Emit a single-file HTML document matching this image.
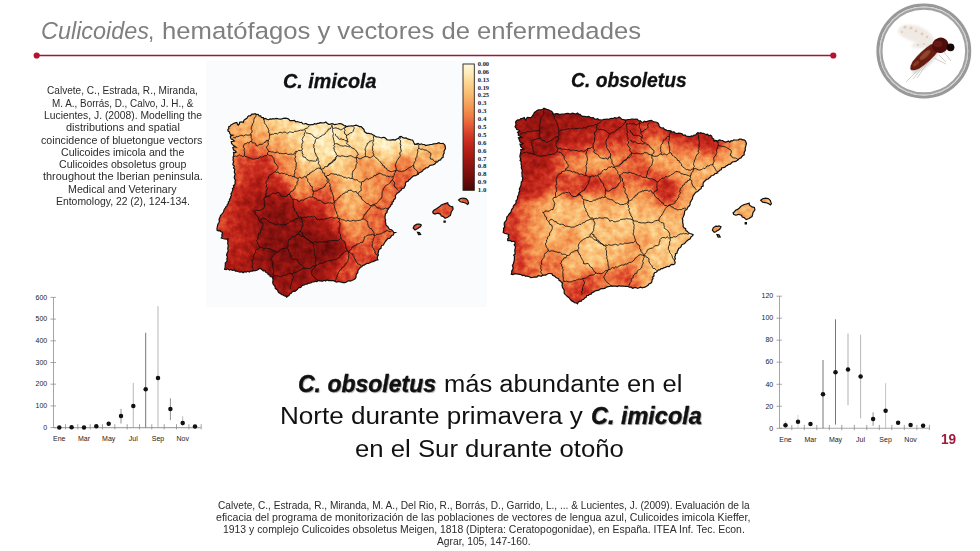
<!DOCTYPE html>
<html><head><meta charset="utf-8"><title>Culicoides</title>
<style>
html,body{margin:0;padding:0;}
body{width:980px;height:551px;position:relative;overflow:hidden;background:#fff;font-family:"Liberation Sans",Arial,sans-serif;}
.abs{position:absolute;white-space:nowrap;}
svg.maps{position:absolute;left:0;top:0;}
.abs{transform-origin:0 0;}
.ttl{color:#7f7f7f;}
.cit{color:#2b2b2b;}
.big{color:#111;}
.big b{font-style:italic;font-weight:bold;text-shadow:1px 1px 1px rgba(0,0,0,.35);-webkit-text-stroke:0.35px #111;}
.mt{font-weight:bold;font-style:italic;color:#111;-webkit-text-stroke:0.3px #111;}
.pn{font-weight:bold;color:#a0193c;}
svg .mf rect{width:6.6px;height:6.6px;}
svg text.cbl{font-family:"Liberation Serif",serif;font-weight:bold;font-size:5.2px;fill:#222;}
svg text.ax{font-family:"Liberation Sans",Arial,sans-serif;font-size:7px;fill:#222;}
</style></head><body>
<svg class="maps" width="980" height="551" viewBox="0 0 980 551">
<defs>
<clipPath id="c1"><path d="M228.1 131.1 L227.8 129.6 L228.9 128.3 L228.6 126.8 L230.0 126.3 L230.9 124.9 L232.3 124.3 L233.5 123.5 L235.1 122.9 L236.8 122.4 L237.3 123.9 L238.2 125.2 L239.3 123.9 L239.6 122.3 L241.5 121.8 L243.3 122.4 L243.9 120.4 L245.5 119.1 L246.9 118.4 L247.6 116.9 L248.7 115.9 L250.5 115.7 L251.8 114.1 L253.6 114.2 L255.3 113.7 L256.5 114.5 L258.1 114.4 L259.1 115.9 L260.7 115.9 L261.4 117.4 L263.4 117.6 L264.0 119.1 L265.5 118.4 L267.0 119.2 L268.6 119.7 L270.1 118.9 L271.6 119.1 L273.1 118.7 L274.5 119.0 L276.0 118.4 L277.4 118.7 L278.9 119.0 L280.3 119.1 L281.9 118.9 L283.5 118.3 L285.1 118.1 L286.8 118.3 L288.6 119.1 L290.0 120.6 L291.5 120.7 L293.0 120.7 L294.5 120.5 L295.8 121.8 L297.3 121.5 L298.7 122.0 L300.0 122.5 L301.6 122.3 L302.7 123.8 L304.1 124.0 L305.8 123.4 L307.1 124.1 L308.4 124.7 L310.0 124.8 L311.5 124.6 L313.0 124.7 L314.5 123.7 L316.0 124.1 L317.5 123.4 L318.9 123.4 L320.2 122.7 L321.7 122.8 L323.1 123.0 L324.5 122.7 L325.8 122.0 L327.2 123.2 L328.6 124.3 L330.1 124.4 L331.5 123.6 L333.0 123.9 L334.4 124.7 L335.9 124.3 L337.7 124.0 L339.5 123.5 L341.4 123.8 L342.7 124.6 L344.0 125.5 L345.4 126.1 L346.9 126.6 L348.4 126.2 L350.0 126.0 L351.5 125.9 L353.1 126.1 L354.6 125.5 L356.1 125.2 L357.8 125.8 L359.3 126.6 L361.2 126.7 L362.5 128.0 L364.0 129.5 L364.4 131.6 L365.7 132.4 L366.9 133.3 L368.5 133.3 L369.9 133.6 L371.4 133.8 L372.6 134.8 L374.1 135.3 L375.3 136.5 L376.9 136.8 L378.5 137.0 L380.0 137.5 L381.7 137.9 L383.3 137.3 L384.8 137.6 L386.0 138.7 L387.1 139.9 L388.7 140.0 L390.3 140.1 L391.9 139.9 L393.6 139.7 L395.2 140.0 L396.7 139.0 L398.5 138.4 L399.6 136.8 L401.3 136.4 L402.8 137.7 L404.4 138.1 L406.1 137.9 L407.6 138.9 L409.2 139.3 L410.8 139.9 L412.6 140.0 L413.3 141.5 L414.0 143.0 L414.8 144.4 L416.4 144.1 L418.0 143.5 L419.7 144.5 L421.3 143.8 L422.7 144.5 L424.4 144.5 L425.7 145.5 L427.3 145.2 L428.9 144.9 L430.5 144.5 L432.2 144.4 L433.8 143.8 L435.5 143.6 L437.2 143.3 L438.8 142.7 L440.1 143.3 L441.5 143.5 L443.0 143.3 L444.2 144.4 L445.1 145.6 L445.3 147.1 L445.5 148.7 L444.6 150.1 L444.0 151.5 L444.2 153.1 L443.4 154.4 L443.1 155.9 L443.1 157.4 L441.5 158.2 L440.6 159.9 L438.7 160.3 L437.7 161.8 L436.3 162.2 L435.3 163.6 L434.0 164.4 L432.7 165.0 L431.1 165.1 L429.7 165.5 L428.7 166.8 L427.6 167.7 L425.9 167.8 L424.9 168.9 L423.5 169.4 L422.5 171.0 L421.1 172.0 L419.4 172.7 L418.1 173.8 L416.8 175.0 L415.3 175.7 L413.5 175.9 L412.2 177.0 L411.2 177.9 L410.2 179.0 L409.0 179.7 L408.3 181.1 L406.9 181.6 L405.7 182.4 L405.4 183.9 L405.4 185.4 L404.6 186.8 L403.9 188.3 L402.0 188.5 L401.3 190.0 L399.9 191.1 L398.7 192.5 L397.0 193.3 L396.2 194.5 L395.3 195.7 L395.6 197.5 L395.0 198.8 L393.7 199.8 L393.5 201.3 L392.1 202.3 L392.2 203.9 L390.9 204.9 L390.5 206.3 L389.2 207.6 L388.2 209.2 L387.2 210.7 L387.0 212.5 L385.5 213.7 L385.2 215.4 L385.0 217.2 L385.1 218.7 L385.7 220.1 L385.3 221.6 L385.8 223.0 L385.8 224.5 L386.7 225.8 L388.0 226.8 L388.7 228.3 L389.8 229.4 L391.5 229.7 L392.7 230.8 L393.6 232.4 L395.3 232.6 L393.8 233.3 L393.3 235.0 L391.6 235.5 L390.9 237.0 L389.7 238.3 L387.8 238.7 L386.6 240.0 L385.5 241.3 L384.7 242.5 L384.0 243.7 L383.4 245.0 L381.6 245.4 L381.1 246.8 L381.0 248.4 L379.4 249.2 L378.6 250.4 L378.5 252.0 L377.9 253.3 L378.4 254.9 L377.4 256.6 L377.2 258.2 L377.9 259.8 L376.2 260.1 L374.6 260.9 L373.0 261.6 L371.3 262.0 L369.9 262.8 L368.5 263.5 L366.9 263.4 L365.5 264.3 L364.2 265.2 L362.6 265.3 L361.9 266.8 L360.3 267.3 L359.6 268.7 L358.3 269.6 L357.9 271.1 L357.7 272.7 L356.5 274.0 L356.0 275.5 L356.1 277.2 L355.1 278.8 L353.5 279.7 L351.8 280.5 L350.4 281.1 L348.7 280.6 L347.4 281.2 L346.1 282.2 L344.6 282.7 L343.1 282.7 L341.6 282.2 L340.1 281.8 L338.6 281.4 L336.9 282.0 L335.4 281.6 L333.7 280.7 L331.9 280.6 L330.0 280.5 L328.5 280.6 L327.0 279.9 L325.6 281.0 L324.1 280.3 L322.7 281.2 L321.2 281.1 L319.7 280.7 L318.2 280.5 L316.9 281.7 L315.3 281.3 L314.0 281.8 L312.5 281.8 L311.2 282.8 L309.8 283.1 L308.3 283.2 L307.1 284.1 L305.5 284.0 L304.4 285.0 L302.9 285.2 L301.6 285.9 L300.8 287.5 L299.3 287.6 L298.0 288.3 L297.2 289.6 L296.0 290.5 L294.9 291.3 L293.0 291.3 L291.9 292.2 L291.0 293.4 L289.6 294.0 L289.0 295.5 L287.7 296.1 L286.7 297.2 L285.6 296.1 L284.1 295.8 L282.9 294.8 L281.4 294.5 L280.3 293.4 L278.9 292.8 L278.0 291.6 L277.6 290.0 L276.3 289.3 L275.2 288.3 L275.1 286.5 L273.9 285.2 L273.0 283.7 L272.7 282.0 L273.1 280.1 L272.7 278.1 L272.0 276.8 L270.2 276.5 L269.8 274.9 L268.2 274.4 L267.6 273.0 L266.0 272.6 L265.2 270.9 L263.3 271.0 L262.1 269.9 L261.0 268.8 L259.4 268.5 L258.2 269.6 L256.9 270.3 L255.5 270.6 L254.0 270.5 L252.5 271.2 L250.8 270.8 L249.4 272.0 L247.7 271.2 L246.2 272.2 L244.5 271.7 L243.1 272.7 L241.8 271.7 L240.0 272.2 L238.5 271.8 L237.1 271.1 L235.5 271.2 L234.2 270.0 L232.4 270.4 L231.1 269.4 L229.5 270.1 L227.8 268.7 L226.2 269.7 L224.6 269.4 L225.0 267.9 L225.2 266.3 L225.3 264.7 L225.3 263.1 L226.7 261.7 L227.1 260.2 L226.8 258.5 L227.6 257.0 L226.6 255.3 L226.9 253.8 L227.6 252.3 L228.3 250.8 L227.8 249.2 L227.9 247.6 L228.2 246.2 L228.1 244.7 L227.6 243.3 L228.0 241.9 L227.6 240.4 L227.9 239.0 L226.2 239.1 L224.5 239.0 L222.9 238.5 L221.3 237.9 L222.2 236.7 L221.8 235.1 L222.3 233.8 L222.4 232.4 L221.1 231.7 L219.9 230.7 L218.3 230.9 L217.0 230.2 L217.0 228.5 L217.3 226.9 L217.6 225.3 L218.1 223.7 L219.0 222.5 L219.4 221.1 L219.0 219.5 L219.5 218.2 L220.2 216.9 L220.5 215.5 L221.6 214.4 L222.6 213.3 L223.5 212.0 L223.9 210.6 L224.3 209.2 L225.3 208.2 L225.8 206.8 L227.1 206.0 L227.3 204.4 L228.5 203.5 L228.3 202.0 L229.5 200.8 L229.5 199.3 L230.5 198.2 L230.6 196.7 L231.5 195.5 L230.9 193.8 L231.8 192.6 L232.2 191.3 L233.0 190.0 L232.4 188.4 L234.0 187.4 L233.4 185.7 L234.6 184.6 L235.3 183.3 L235.0 181.8 L235.4 180.2 L234.6 178.7 L234.2 177.2 L234.7 175.6 L235.2 174.0 L234.3 172.5 L234.5 170.9 L234.8 169.3 L233.5 167.9 L234.4 166.1 L232.9 164.8 L233.1 163.2 L233.7 161.5 L232.9 160.0 L233.4 158.6 L233.0 157.2 L233.7 155.7 L233.8 154.1 L233.5 152.5 L235.0 152.6 L236.3 152.0 L235.1 150.8 L233.6 150.0 L232.8 147.5 L234.1 146.8 L235.6 146.9 L234.0 145.8 L232.5 144.6 L231.5 143.2 L231.3 141.5 L232.9 141.5 L234.4 141.0 L232.9 139.8 L231.2 139.0 L230.5 137.7 L230.4 136.2 L232.6 135.2 L230.9 134.9 L229.8 133.6 L229.5 132.0 Z M432.7 211.8 L433.7 210.5 L435.0 209.5 L436.9 208.6 L438.6 207.3 L440.1 206.3 L441.3 205.0 L443.1 204.2 L445.0 203.6 L447.7 202.7 L448.1 204.5 L450.4 206.3 L452.7 206.8 L453.1 209.1 L452.2 210.5 L451.3 211.8 L450.9 213.6 L450.4 215.4 L449.0 216.2 L447.7 217.2 L445.0 218.2 L443.1 216.3 L441.3 215.9 L440.4 214.1 L437.7 213.2 L435.0 214.1 L433.2 213.2 Z M458.6 200.0 L460.4 198.6 L463.1 198.0 L465.9 198.6 L467.7 200.4 L468.6 203.2 L467.7 204.5 L465.9 203.2 L463.1 202.3 L460.4 201.8 Z M413.2 228.1 L414.1 225.9 L416.4 224.3 L417.9 224.0 L419.5 224.1 L421.3 225.0 L420.4 226.8 L419.0 227.6 L417.7 228.6 L416.3 229.2 L415.0 230.0 Z M417.5 232.3 L419.5 232.6 L420.6 234.4 L418.6 234.6 Z M444.0 221.0 L445.2 221.0 L445.2 222.2 L444.0 222.2 Z"/></clipPath>
<clipPath id="c2"><path d="M515.0 126.7 L515.8 125.3 L516.0 123.8 L515.5 122.2 L516.5 120.8 L517.8 119.9 L519.7 119.9 L520.8 118.6 L522.6 118.4 L524.3 117.5 L524.8 119.1 L525.8 120.5 L526.3 118.8 L527.3 117.4 L529.2 117.6 L531.2 117.5 L532.1 116.4 L532.9 115.2 L533.6 114.0 L534.4 112.5 L535.8 111.6 L537.0 110.5 L538.3 109.9 L539.9 109.9 L541.4 109.8 L542.8 109.3 L544.0 108.2 L545.4 108.8 L546.9 109.3 L548.4 109.7 L549.8 110.5 L551.4 111.2 L552.6 112.3 L553.3 114.0 L554.9 113.9 L556.5 113.7 L558.1 113.8 L559.8 114.5 L561.4 114.0 L562.9 114.0 L564.5 114.0 L566.0 113.6 L567.6 113.3 L569.1 113.7 L570.6 114.0 L572.3 113.2 L574.1 113.5 L575.9 114.0 L577.6 113.1 L578.6 114.1 L580.1 114.4 L581.0 115.6 L582.5 116.3 L584.1 116.4 L585.6 116.5 L587.1 116.9 L588.8 116.5 L590.1 117.3 L591.6 117.8 L593.3 117.6 L594.5 118.9 L596.0 119.3 L597.8 118.6 L599.0 119.8 L600.6 119.9 L602.3 120.0 L603.8 119.4 L605.5 119.3 L607.1 119.0 L608.8 119.4 L610.3 118.5 L611.8 118.3 L613.3 118.5 L614.7 117.6 L616.3 118.1 L617.8 117.8 L619.2 117.0 L620.7 118.2 L622.1 119.5 L623.7 119.6 L625.3 120.1 L626.8 119.8 L628.4 119.5 L629.9 119.5 L631.4 119.0 L632.8 119.0 L634.3 119.4 L635.8 119.0 L637.5 119.3 L638.5 121.0 L640.3 120.9 L641.6 122.0 L643.1 122.3 L644.4 121.3 L645.9 121.9 L647.3 121.4 L648.7 120.9 L650.1 120.7 L651.5 120.5 L652.7 121.3 L654.1 121.8 L655.7 122.0 L657.1 122.5 L658.3 123.4 L658.9 124.7 L659.1 126.3 L660.3 127.3 L661.7 128.0 L663.4 127.9 L664.5 129.4 L666.0 129.9 L667.4 130.7 L669.0 130.7 L670.8 130.9 L672.1 132.2 L674.0 131.8 L675.3 133.2 L676.9 133.6 L678.7 133.1 L680.4 133.4 L682.1 133.7 L683.1 135.3 L685.0 135.0 L686.2 136.2 L687.9 136.3 L689.7 136.7 L691.4 135.9 L693.1 136.2 L694.1 135.1 L695.8 135.0 L696.6 133.6 L697.8 132.8 L699.2 133.4 L700.7 132.6 L702.0 133.3 L703.4 133.3 L704.8 134.0 L706.1 134.7 L707.7 134.3 L708.7 135.9 L710.5 135.2 L711.7 136.2 L712.2 137.9 L713.8 139.1 L714.0 140.9 L715.7 140.4 L717.5 141.0 L719.2 140.0 L721.0 140.3 L722.7 140.5 L724.0 141.7 L725.6 142.1 L727.0 141.7 L728.3 141.0 L729.9 142.1 L731.1 140.7 L732.6 140.9 L733.8 139.9 L735.3 140.0 L736.8 140.0 L738.3 139.8 L739.6 139.1 L741.2 139.1 L742.6 139.8 L744.1 139.8 L745.4 140.9 L746.0 142.3 L746.5 143.8 L745.9 145.3 L745.6 146.9 L745.1 148.5 L745.4 150.2 L744.6 151.6 L744.1 153.1 L744.2 154.8 L742.9 155.5 L741.9 156.7 L741.0 157.9 L739.4 158.4 L738.4 159.5 L737.1 160.4 L735.9 161.4 L734.2 161.7 L732.6 161.8 L731.4 163.0 L730.3 164.2 L728.6 164.4 L727.4 165.4 L726.0 166.0 L724.9 167.2 L723.3 167.6 L721.7 168.0 L721.2 169.7 L719.8 170.3 L718.8 171.4 L717.5 172.3 L716.6 173.5 L715.0 173.6 L714.0 174.8 L712.8 175.5 L711.3 175.7 L710.5 177.1 L709.2 178.0 L708.2 179.0 L706.5 179.4 L705.5 180.5 L704.3 181.4 L703.3 182.8 L703.0 184.4 L703.2 186.1 L701.5 186.8 L701.1 188.7 L699.6 189.5 L698.5 190.5 L697.6 191.6 L696.1 192.1 L695.1 193.1 L694.2 194.4 L693.3 195.6 L692.7 197.1 L692.5 198.8 L691.5 200.0 L690.9 201.4 L690.1 202.7 L690.1 204.4 L689.4 205.8 L688.1 206.9 L687.3 208.2 L686.8 209.6 L685.2 210.2 L684.6 211.6 L684.5 213.1 L684.2 214.6 L683.6 215.9 L683.1 217.3 L682.3 218.5 L682.8 220.0 L682.6 221.6 L682.8 223.2 L683.2 224.7 L683.1 226.3 L684.0 227.7 L685.6 228.7 L685.9 230.6 L687.4 231.5 L688.5 232.9 L690.1 233.5 L691.8 234.0 L693.2 234.9 L692.1 236.1 L690.8 237.2 L690.2 238.9 L688.5 239.6 L687.5 240.6 L686.2 241.4 L685.4 242.7 L684.3 243.7 L682.8 244.2 L681.5 245.1 L681.1 246.7 L680.0 247.7 L678.6 248.5 L678.1 250.1 L677.3 251.4 L677.0 253.0 L675.4 253.9 L675.5 255.7 L674.7 257.0 L675.4 258.7 L674.4 260.5 L675.2 262.2 L674.7 263.9 L673.4 264.7 L671.7 264.4 L670.4 265.1 L669.3 266.5 L667.7 266.3 L666.4 266.9 L665.1 267.4 L663.7 267.8 L662.5 268.7 L661.0 268.7 L659.9 269.9 L658.4 269.8 L657.4 271.2 L656.2 272.2 L654.5 272.8 L653.8 274.4 L654.0 275.9 L652.7 277.0 L653.0 278.6 L652.1 279.8 L652.0 281.2 L651.5 282.5 L650.3 283.4 L648.9 284.0 L648.1 285.2 L646.9 286.0 L645.5 286.9 L643.9 287.3 L642.4 287.8 L640.6 287.1 L639.1 287.8 L637.6 288.4 L636.0 287.5 L634.3 287.6 L632.6 288.3 L631.1 287.2 L629.4 287.2 L628.0 286.5 L626.6 286.3 L625.1 286.3 L623.6 286.0 L622.1 286.2 L620.5 286.1 L618.9 285.7 L617.4 286.5 L615.8 286.1 L614.2 286.2 L612.7 286.2 L611.0 285.9 L609.5 286.5 L608.0 286.6 L606.5 287.1 L605.1 288.2 L603.6 288.6 L602.0 288.6 L600.5 288.9 L599.3 289.9 L597.8 290.3 L596.3 290.7 L594.7 291.1 L593.6 292.2 L592.1 292.6 L591.1 294.2 L589.5 294.3 L588.4 295.4 L586.6 295.6 L586.1 297.4 L584.6 298.0 L583.7 299.3 L582.1 299.8 L581.3 301.2 L579.4 301.4 L578.2 302.3 L577.5 303.8 L576.2 302.8 L574.5 302.6 L573.2 301.6 L571.8 300.9 L570.6 299.8 L569.7 298.5 L568.7 297.4 L567.3 296.6 L566.3 295.4 L565.2 294.3 L564.2 293.2 L564.2 291.6 L564.2 290.1 L563.4 288.8 L562.5 287.6 L562.0 285.5 L562.5 283.5 L561.5 282.3 L560.6 281.1 L559.0 280.4 L558.6 278.7 L557.1 278.0 L555.7 277.2 L554.5 276.0 L552.8 275.4 L551.9 273.8 L550.1 273.5 L548.5 273.5 L547.1 274.2 L545.7 275.1 L544.1 275.1 L542.6 275.3 L541.3 276.3 L539.7 275.8 L538.2 275.7 L536.9 277.0 L535.3 276.8 L533.9 277.1 L532.5 277.5 L531.0 277.7 L529.7 277.0 L528.3 276.3 L526.8 276.2 L525.3 276.2 L524.1 275.1 L522.4 275.6 L521.1 274.6 L519.7 274.4 L518.2 274.2 L516.5 273.8 L514.7 273.7 L513.0 274.6 L511.3 274.2 L511.7 272.8 L511.7 271.2 L512.4 269.9 L513.1 268.5 L512.9 267.0 L512.4 265.3 L513.3 264.0 L513.6 262.6 L514.1 261.1 L514.4 259.7 L514.3 258.2 L514.6 256.8 L513.7 255.2 L515.1 253.9 L515.0 252.4 L514.8 250.9 L514.9 249.4 L515.4 247.9 L515.3 246.4 L514.2 244.8 L515.2 243.3 L514.8 241.8 L513.4 241.2 L511.9 241.7 L510.6 240.7 L509.2 240.7 L507.8 240.6 L507.6 239.0 L508.8 237.7 L508.1 236.1 L508.9 234.7 L507.5 234.0 L506.0 233.6 L504.5 233.3 L503.2 232.4 L503.5 231.0 L503.6 229.6 L503.5 228.2 L504.8 227.0 L504.3 225.5 L504.2 223.8 L504.5 222.4 L505.6 221.1 L506.5 219.8 L506.7 218.2 L506.9 216.7 L508.2 215.7 L509.0 214.2 L510.1 213.0 L511.1 211.8 L511.4 210.3 L512.1 208.9 L513.2 207.8 L513.3 206.2 L514.2 204.9 L515.4 203.9 L516.2 202.6 L515.9 200.9 L517.1 199.7 L517.6 198.2 L517.5 196.6 L518.3 195.3 L518.9 193.9 L518.9 192.3 L519.9 191.0 L519.3 189.3 L519.8 187.9 L520.5 186.5 L521.0 185.1 L521.2 183.6 L521.3 182.0 L522.4 180.8 L522.4 179.3 L522.9 177.9 L522.0 176.4 L522.1 175.0 L521.9 173.5 L521.9 172.1 L522.4 170.6 L521.8 169.2 L521.3 167.8 L521.6 166.2 L521.2 164.8 L521.0 163.4 L521.3 161.8 L520.0 160.5 L520.8 158.9 L520.1 157.6 L519.9 156.1 L520.2 154.6 L520.6 152.9 L521.0 151.3 L520.8 149.6 L522.3 149.5 L523.7 149.0 L522.2 148.1 L520.9 146.9 L520.0 144.2 L521.6 144.4 L523.0 143.6 L521.0 142.8 L519.7 141.1 L519.2 139.4 L518.4 137.8 L520.0 137.4 L521.7 137.3 L520.0 136.2 L518.3 135.2 L518.4 133.5 L517.5 132.2 L519.8 131.1 L518.5 129.9 L516.8 129.4 L516.1 128.0 Z M733.1 212.8 L734.5 211.7 L735.6 210.3 L737.6 209.4 L739.4 208.0 L740.7 206.5 L742.3 205.5 L744.2 204.5 L746.2 204.0 L747.7 203.7 L749.1 203.1 L749.5 205.0 L750.7 206.1 L752.0 206.9 L754.4 207.4 L754.9 209.9 L753.8 211.3 L752.9 212.8 L752.6 214.7 L752.0 216.6 L750.5 217.5 L749.1 218.5 L747.6 219.0 L746.2 219.6 L744.2 217.6 L742.3 217.1 L741.3 215.2 L739.9 214.7 L738.4 214.3 L737.1 214.9 L735.6 215.2 L733.6 214.3 Z M760.7 200.2 L762.6 198.7 L765.5 198.1 L767.0 198.4 L768.5 198.7 L770.4 200.6 L770.8 202.1 L771.4 203.6 L770.4 205.0 L768.5 203.6 L767.0 203.0 L765.5 202.6 L762.6 202.1 Z M712.3 230.2 L713.3 227.8 L715.7 226.1 L717.4 226.3 L719.0 225.9 L721.0 226.8 L720.0 228.8 L718.7 229.9 L717.1 230.7 L715.8 231.7 L714.2 232.2 Z M716.9 234.6 L719.0 234.9 L720.2 236.9 L718.1 237.1 Z M745.2 222.6 L746.4 222.6 L746.4 223.9 L745.2 223.9 Z"/></clipPath>
<linearGradient id="cb" x1="0" y1="0" x2="0" y2="1"><stop offset="0.0" stop-color="#fff8dc"/><stop offset="0.08" stop-color="#feeab4"/><stop offset="0.16" stop-color="#fcd28c"/><stop offset="0.25" stop-color="#f9b76e"/><stop offset="0.33" stop-color="#f59c56"/><stop offset="0.42" stop-color="#ee7a42"/><stop offset="0.5" stop-color="#e25532"/><stop offset="0.58" stop-color="#d03424"/><stop offset="0.66" stop-color="#bc2218"/><stop offset="0.75" stop-color="#a01812"/><stop offset="0.83" stop-color="#861210"/><stop offset="0.92" stop-color="#6a0c0a"/><stop offset="1.0" stop-color="#4a0606"/></linearGradient>
<filter id="fb" x="-5%" y="-5%" width="110%" height="110%"><feGaussianBlur stdDeviation="2.5"/></filter>
<filter id="fm1" x="-5%" y="-5%" width="110%" height="110%" color-interpolation-filters="sRGB"><feGaussianBlur in="SourceGraphic" stdDeviation="2.5" result="b"/><feTurbulence type="fractalNoise" baseFrequency="0.16" numOctaves="3" seed="3"/><feColorMatrix type="matrix" values="1 0 0 0 0  1 0 0 0 0  1 0 0 0 0  0 0 0 0 1" result="n"/><feComposite in="b" in2="n" operator="arithmetic" k1="0" k2="1" k3="0.3" k4="-0.15"/><feComponentTransfer><feFuncR type="table" tableValues="1.000 0.998 0.997 0.995 0.992 0.989 0.985 0.981 0.976 0.970 0.964 0.957 0.947 0.938 0.923 0.905 0.886 0.859 0.831 0.802 0.772 0.741 0.704 0.666 0.627 0.588 0.548 0.509 0.471 0.432 0.388 0.339 0.290"/><feFuncG type="table" tableValues="0.973 0.951 0.930 0.901 0.865 0.828 0.791 0.754 0.718 0.676 0.635 0.591 0.545 0.499 0.447 0.390 0.333 0.283 0.232 0.192 0.164 0.137 0.121 0.108 0.094 0.085 0.076 0.067 0.059 0.051 0.042 0.033 0.024"/><feFuncB type="table" tableValues="0.863 0.801 0.740 0.679 0.618 0.556 0.513 0.472 0.431 0.395 0.358 0.325 0.298 0.271 0.245 0.221 0.196 0.175 0.153 0.133 0.115 0.096 0.087 0.079 0.071 0.068 0.064 0.059 0.051 0.043 0.036 0.030 0.024"/></feComponentTransfer></filter><filter id="fm2" x="-5%" y="-5%" width="110%" height="110%" color-interpolation-filters="sRGB"><feGaussianBlur in="SourceGraphic" stdDeviation="2.5" result="b"/><feTurbulence type="fractalNoise" baseFrequency="0.16" numOctaves="3" seed="11"/><feColorMatrix type="matrix" values="1 0 0 0 0  1 0 0 0 0  1 0 0 0 0  0 0 0 0 1" result="n"/><feComposite in="b" in2="n" operator="arithmetic" k1="0" k2="1" k3="0.3" k4="-0.15"/><feComponentTransfer><feFuncR type="table" tableValues="1.000 0.998 0.997 0.995 0.992 0.989 0.985 0.981 0.976 0.970 0.964 0.957 0.947 0.938 0.923 0.905 0.886 0.859 0.831 0.802 0.772 0.741 0.704 0.666 0.627 0.588 0.548 0.509 0.471 0.432 0.388 0.339 0.290"/><feFuncG type="table" tableValues="0.973 0.951 0.930 0.901 0.865 0.828 0.791 0.754 0.718 0.676 0.635 0.591 0.545 0.499 0.447 0.390 0.333 0.283 0.232 0.192 0.164 0.137 0.121 0.108 0.094 0.085 0.076 0.067 0.059 0.051 0.042 0.033 0.024"/><feFuncB type="table" tableValues="0.863 0.801 0.740 0.679 0.618 0.556 0.513 0.472 0.431 0.395 0.358 0.325 0.298 0.271 0.245 0.221 0.196 0.175 0.153 0.133 0.115 0.096 0.087 0.079 0.071 0.068 0.064 0.059 0.051 0.043 0.036 0.030 0.024"/></feComponentTransfer></filter>
<filter id="nz" x="0" y="0" width="100%" height="100%" color-interpolation-filters="sRGB"><feTurbulence type="fractalNoise" baseFrequency="0.16" numOctaves="3" seed="3"/><feColorMatrix type="matrix" values="1.6 0 0 0 -0.3  1.6 0 0 0 -0.3  1.6 0 0 0 -0.3  0 0 0 0 1"/></filter>
<filter id="blur05" x="-5%" y="-5%" width="110%" height="110%"><feGaussianBlur stdDeviation="0.5"/></filter>
<filter id="blur1" x="-20%" y="-20%" width="140%" height="140%"><feGaussianBlur stdDeviation="1.2"/></filter>
</defs>
<rect x="206" y="61" width="281" height="246" fill="#fafbfd"/>
<line x1="36.7" y1="55.5" x2="833.3" y2="55.5" stroke="#961b35" stroke-width="1.6"/><circle cx="36.7" cy="55.5" r="3.1" fill="#b3142f"/><circle cx="833.3" cy="55.5" r="3.1" fill="#b3142f"/>
<circle cx="923.8" cy="51.0" r="47.5" fill="#f4f4f4" opacity="0.6" filter="url(#blur1)"/><circle cx="923.8" cy="51.0" r="42" fill="#fff"/><g filter="url(#blur05)"><circle cx="923.8" cy="51.0" r="45.9" fill="none" stroke="#989898" stroke-width="3.0"/><circle cx="923.8" cy="51.0" r="44.0" fill="none" stroke="#cfcfcf" stroke-width="1.0"/><circle cx="923.8" cy="51.0" r="42.4" fill="none" stroke="#a2a2a2" stroke-width="2.2"/></g><g><g filter="url(#blur1)" opacity="0.9"><path d="M899 28 C905 22 918 24 926 30 C932 34 936 40 934 45 C926 46 912 42 903 37 C898 34 897 31 899 28 Z" fill="#eee8e2"/><path d="M912 44 C920 41 930 42 936 45 C930 49 920 49 912 47 Z" fill="#ece6e0"/></g><circle cx="905" cy="27" r="1.6" fill="#e2c2a8" opacity="0.8"/><circle cx="911" cy="28" r="1.5" fill="#e2c2a8" opacity="0.8"/><circle cx="916" cy="31" r="1.3" fill="#e2c2a8" opacity="0.8"/><circle cx="922" cy="34" r="1.4" fill="#e2c2a8" opacity="0.8"/><circle cx="927" cy="37" r="1.2" fill="#e2c2a8" opacity="0.8"/><circle cx="918" cy="45" r="1.1" fill="#e2c2a8" opacity="0.8"/><circle cx="924" cy="44" r="1.0" fill="#e2c2a8" opacity="0.8"/><circle cx="902" cy="32" r="1.1" fill="#e2c2a8" opacity="0.8"/><ellipse cx="925" cy="62" rx="17" ry="5" transform="rotate(-40 925 62)" fill="#000" opacity="0.12" filter="url(#blur1)"/><line x1="924" y1="64" x2="906" y2="82" stroke="#c4bab2" stroke-width="0.7"/><line x1="929" y1="61" x2="917" y2="78" stroke="#c4bab2" stroke-width="0.7"/><line x1="934" y1="58" x2="946" y2="64" stroke="#c4bab2" stroke-width="0.7"/><line x1="939" y1="55" x2="946" y2="62" stroke="#c4bab2" stroke-width="0.7"/><line x1="944" y1="52" x2="951" y2="61" stroke="#c4bab2" stroke-width="0.7"/><line x1="926" y1="63" x2="913" y2="79" stroke="#c4bab2" stroke-width="0.7"/><path d="M911.5 70.1 L915.0 69.9 L919.0 68.4 L924.6 64.6 L929.7 60.3 L934.4 55.6 L937.5 51.7 L937.9 49.7 L933.1 44.3 L931.0 44.6 L926.8 47.4 L921.7 51.7 L917.0 56.4 L912.8 61.6 L910.9 65.5 L910.5 68.9 Z" fill="#681c10" stroke="#4e120a" stroke-width="0.4"/><ellipse cx="925" cy="55" rx="7" ry="2.4" transform="rotate(-42 925 55)" fill="#b0684a" opacity="0.55" filter="url(#blur05)"/><ellipse cx="916" cy="63.5" rx="4" ry="1.8" transform="rotate(-42 916 63.5)" fill="#a85a40" opacity="0.5" filter="url(#blur05)"/><ellipse cx="940.3" cy="45.3" rx="8.3" ry="7.6" transform="rotate(-20 940.3 45.3)" fill="#4e0e0c"/><ellipse cx="938" cy="44" rx="4.5" ry="3.2" fill="#6e1c14" opacity="0.8" filter="url(#blur05)"/><circle cx="950.5" cy="47.3" r="3.9" fill="#170707"/></g>
<line x1="53.5" y1="297.4" x2="53.5" y2="427.6" stroke="#8e8e8e" stroke-width="0.8"/><line x1="53.5" y1="427.6" x2="200.8" y2="427.6" stroke="#a8a8a8" stroke-width="1.1"/><line x1="50.5" y1="427.6" x2="55.9" y2="427.6" stroke="#8e8e8e" stroke-width="0.8"/><text x="47.2" y="429.8" text-anchor="end" class="ax">0</text><line x1="50.5" y1="405.9" x2="55.9" y2="405.9" stroke="#8e8e8e" stroke-width="0.8"/><text x="47.2" y="408.1" text-anchor="end" class="ax">100</text><line x1="50.5" y1="384.2" x2="55.9" y2="384.2" stroke="#8e8e8e" stroke-width="0.8"/><text x="47.2" y="386.4" text-anchor="end" class="ax">200</text><line x1="50.5" y1="362.5" x2="55.9" y2="362.5" stroke="#8e8e8e" stroke-width="0.8"/><text x="47.2" y="364.7" text-anchor="end" class="ax">300</text><line x1="50.5" y1="340.8" x2="55.9" y2="340.8" stroke="#8e8e8e" stroke-width="0.8"/><text x="47.2" y="343.0" text-anchor="end" class="ax">400</text><line x1="50.5" y1="319.1" x2="55.9" y2="319.1" stroke="#8e8e8e" stroke-width="0.8"/><text x="47.2" y="321.3" text-anchor="end" class="ax">500</text><line x1="50.5" y1="297.4" x2="55.9" y2="297.4" stroke="#8e8e8e" stroke-width="0.8"/><text x="47.2" y="299.6" text-anchor="end" class="ax">600</text><line x1="65.5" y1="424.20000000000005" x2="65.5" y2="429.40000000000003" stroke="#8a8a8a" stroke-width="0.8"/><line x1="77.8" y1="424.20000000000005" x2="77.8" y2="429.40000000000003" stroke="#8a8a8a" stroke-width="0.8"/><line x1="90.2" y1="424.20000000000005" x2="90.2" y2="429.40000000000003" stroke="#8a8a8a" stroke-width="0.8"/><line x1="102.5" y1="424.20000000000005" x2="102.5" y2="429.40000000000003" stroke="#8a8a8a" stroke-width="0.8"/><line x1="114.8" y1="424.20000000000005" x2="114.8" y2="429.40000000000003" stroke="#8a8a8a" stroke-width="0.8"/><line x1="127.2" y1="424.20000000000005" x2="127.2" y2="429.40000000000003" stroke="#8a8a8a" stroke-width="0.8"/><line x1="139.5" y1="424.20000000000005" x2="139.5" y2="429.40000000000003" stroke="#8a8a8a" stroke-width="0.8"/><line x1="151.8" y1="424.20000000000005" x2="151.8" y2="429.40000000000003" stroke="#8a8a8a" stroke-width="0.8"/><line x1="164.2" y1="424.20000000000005" x2="164.2" y2="429.40000000000003" stroke="#8a8a8a" stroke-width="0.8"/><line x1="176.5" y1="424.20000000000005" x2="176.5" y2="429.40000000000003" stroke="#8a8a8a" stroke-width="0.8"/><line x1="188.9" y1="424.20000000000005" x2="188.9" y2="429.40000000000003" stroke="#8a8a8a" stroke-width="0.8"/><line x1="201.2" y1="424.20000000000005" x2="201.2" y2="429.40000000000003" stroke="#8a8a8a" stroke-width="0.8"/><text x="59.3" y="441.20000000000005" text-anchor="middle" class="ax">Ene</text><text x="84.0" y="441.20000000000005" text-anchor="middle" class="ax">Mar</text><text x="108.7" y="441.20000000000005" text-anchor="middle" class="ax">May</text><text x="133.3" y="441.20000000000005" text-anchor="middle" class="ax">Jul</text><text x="158.0" y="441.20000000000005" text-anchor="middle" class="ax">Sep</text><text x="182.7" y="441.20000000000005" text-anchor="middle" class="ax">Nov</text><line x1="121.0" y1="408.9" x2="121.0" y2="423.5" stroke="#777" stroke-width="0.8"/><line x1="133.3" y1="382.9" x2="133.3" y2="427.6" stroke="#999" stroke-width="0.7"/><line x1="145.7" y1="332.8" x2="145.7" y2="427.6" stroke="#666" stroke-width="0.9"/><line x1="158.0" y1="306.1" x2="158.0" y2="427.6" stroke="#9a9a9a" stroke-width="0.7"/><line x1="170.4" y1="398.3" x2="170.4" y2="420.2" stroke="#777" stroke-width="0.8"/><line x1="182.7" y1="416.3" x2="182.7" y2="425.9" stroke="#999" stroke-width="0.7"/><circle cx="59.3" cy="427.6" r="2.25" fill="#111"/><circle cx="71.6" cy="427.2" r="2.25" fill="#111"/><circle cx="84.0" cy="427.6" r="2.25" fill="#111"/><circle cx="96.3" cy="426.3" r="2.25" fill="#111"/><circle cx="108.7" cy="423.7" r="2.25" fill="#111"/><circle cx="121.0" cy="416.1" r="2.25" fill="#111"/><circle cx="133.3" cy="405.9" r="2.25" fill="#111"/><circle cx="145.7" cy="389.2" r="2.25" fill="#111"/><circle cx="158.0" cy="378.1" r="2.25" fill="#111"/><circle cx="170.4" cy="408.9" r="2.25" fill="#111"/><circle cx="182.7" cy="423.0" r="2.25" fill="#111"/><circle cx="195.0" cy="426.5" r="2.25" fill="#111"/><line x1="779.5" y1="296.2" x2="779.5" y2="428.3" stroke="#8e8e8e" stroke-width="0.8"/><line x1="779.5" y1="428.3" x2="930" y2="428.3" stroke="#a8a8a8" stroke-width="1.1"/><line x1="776.5" y1="428.3" x2="781.9" y2="428.3" stroke="#8e8e8e" stroke-width="0.8"/><text x="773.2" y="430.5" text-anchor="end" class="ax">0</text><line x1="776.5" y1="406.3" x2="781.9" y2="406.3" stroke="#8e8e8e" stroke-width="0.8"/><text x="773.2" y="408.5" text-anchor="end" class="ax">20</text><line x1="776.5" y1="384.3" x2="781.9" y2="384.3" stroke="#8e8e8e" stroke-width="0.8"/><text x="773.2" y="386.5" text-anchor="end" class="ax">40</text><line x1="776.5" y1="362.2" x2="781.9" y2="362.2" stroke="#8e8e8e" stroke-width="0.8"/><text x="773.2" y="364.4" text-anchor="end" class="ax">60</text><line x1="776.5" y1="340.2" x2="781.9" y2="340.2" stroke="#8e8e8e" stroke-width="0.8"/><text x="773.2" y="342.4" text-anchor="end" class="ax">80</text><line x1="776.5" y1="318.2" x2="781.9" y2="318.2" stroke="#8e8e8e" stroke-width="0.8"/><text x="773.2" y="320.4" text-anchor="end" class="ax">100</text><line x1="776.5" y1="296.2" x2="781.9" y2="296.2" stroke="#8e8e8e" stroke-width="0.8"/><text x="773.2" y="298.4" text-anchor="end" class="ax">120</text><line x1="791.8" y1="424.90000000000003" x2="791.8" y2="430.1" stroke="#8a8a8a" stroke-width="0.8"/><line x1="804.3" y1="424.90000000000003" x2="804.3" y2="430.1" stroke="#8a8a8a" stroke-width="0.8"/><line x1="816.8" y1="424.90000000000003" x2="816.8" y2="430.1" stroke="#8a8a8a" stroke-width="0.8"/><line x1="829.3" y1="424.90000000000003" x2="829.3" y2="430.1" stroke="#8a8a8a" stroke-width="0.8"/><line x1="841.8" y1="424.90000000000003" x2="841.8" y2="430.1" stroke="#8a8a8a" stroke-width="0.8"/><line x1="854.3" y1="424.90000000000003" x2="854.3" y2="430.1" stroke="#8a8a8a" stroke-width="0.8"/><line x1="866.8" y1="424.90000000000003" x2="866.8" y2="430.1" stroke="#8a8a8a" stroke-width="0.8"/><line x1="879.3" y1="424.90000000000003" x2="879.3" y2="430.1" stroke="#8a8a8a" stroke-width="0.8"/><line x1="891.8" y1="424.90000000000003" x2="891.8" y2="430.1" stroke="#8a8a8a" stroke-width="0.8"/><line x1="904.3" y1="424.90000000000003" x2="904.3" y2="430.1" stroke="#8a8a8a" stroke-width="0.8"/><line x1="916.9" y1="424.90000000000003" x2="916.9" y2="430.1" stroke="#8a8a8a" stroke-width="0.8"/><line x1="929.4" y1="424.90000000000003" x2="929.4" y2="430.1" stroke="#8a8a8a" stroke-width="0.8"/><text x="785.5" y="441.90000000000003" text-anchor="middle" class="ax">Ene</text><text x="810.5" y="441.90000000000003" text-anchor="middle" class="ax">Mar</text><text x="835.5" y="441.90000000000003" text-anchor="middle" class="ax">May</text><text x="860.6" y="441.90000000000003" text-anchor="middle" class="ax">Jul</text><text x="885.6" y="441.90000000000003" text-anchor="middle" class="ax">Sep</text><text x="910.6" y="441.90000000000003" text-anchor="middle" class="ax">Nov</text><line x1="785.5" y1="421.1" x2="785.5" y2="428.3" stroke="#aaa" stroke-width="0.6"/><line x1="798.0" y1="414.8" x2="798.0" y2="428.3" stroke="#bbb" stroke-width="0.6"/><line x1="823.0" y1="360.0" x2="823.0" y2="428.3" stroke="#666" stroke-width="0.9"/><line x1="835.5" y1="319.3" x2="835.5" y2="424.6" stroke="#666" stroke-width="0.9"/><line x1="848.0" y1="333.6" x2="848.0" y2="405.2" stroke="#8e8e8e" stroke-width="0.7"/><line x1="860.6" y1="334.7" x2="860.6" y2="418.4" stroke="#9a9a9a" stroke-width="0.7"/><line x1="873.1" y1="412.3" x2="873.1" y2="425.8" stroke="#777" stroke-width="0.8"/><line x1="885.6" y1="383.2" x2="885.6" y2="428.3" stroke="#aaa" stroke-width="0.7"/><line x1="923.1" y1="422.8" x2="923.1" y2="428.3" stroke="#aaa" stroke-width="0.6"/><circle cx="785.5" cy="425.2" r="2.25" fill="#111"/><circle cx="798.0" cy="421.7" r="2.25" fill="#111"/><circle cx="810.5" cy="423.9" r="2.25" fill="#111"/><circle cx="823.0" cy="394.2" r="2.25" fill="#111"/><circle cx="835.5" cy="372.2" r="2.25" fill="#111"/><circle cx="848.0" cy="369.4" r="2.25" fill="#111"/><circle cx="860.6" cy="376.6" r="2.25" fill="#111"/><circle cx="873.1" cy="418.9" r="2.25" fill="#111"/><circle cx="885.6" cy="410.7" r="2.25" fill="#111"/><circle cx="898.1" cy="422.8" r="2.25" fill="#111"/><circle cx="910.6" cy="425.0" r="2.25" fill="#111"/><circle cx="923.1" cy="425.8" r="2.25" fill="#111"/>
<g clip-path="url(#c1)"><g filter="url(#fm1)" class="mf"><rect x="245" y="106" fill="#3e3e3e"/><rect x="251" y="106" fill="#3d3d3d"/><rect x="257" y="106" fill="#3b3b3b"/><rect x="263" y="106" fill="#373737"/><rect x="227" y="112" fill="#424242"/><rect x="233" y="112" fill="#414141"/><rect x="239" y="112" fill="#404040"/><rect x="245" y="112" fill="#3e3e3e"/><rect x="251" y="112" fill="#3d3d3d"/><rect x="257" y="112" fill="#3c3c3c"/><rect x="263" y="112" fill="#373737"/><rect x="269" y="112" fill="#2e2e2e"/><rect x="275" y="112" fill="#272727"/><rect x="281" y="112" fill="#222222"/><rect x="287" y="112" fill="#1f1f1f"/><rect x="293" y="112" fill="#1d1d1d"/><rect x="299" y="112" fill="#1a1a1a"/><rect x="305" y="112" fill="#191919"/><rect x="311" y="112" fill="#181818"/><rect x="317" y="112" fill="#161616"/><rect x="323" y="112" fill="#171717"/><rect x="329" y="112" fill="#191919"/><rect x="335" y="112" fill="#191919"/><rect x="341" y="112" fill="#191919"/><rect x="221" y="118" fill="#434343"/><rect x="227" y="118" fill="#434343"/><rect x="233" y="118" fill="#424242"/><rect x="239" y="118" fill="#414141"/><rect x="245" y="118" fill="#3f3f3f"/><rect x="251" y="118" fill="#3f3f3f"/><rect x="257" y="118" fill="#3d3d3d"/><rect x="263" y="118" fill="#383838"/><rect x="269" y="118" fill="#2e2e2e"/><rect x="275" y="118" fill="#272727"/><rect x="281" y="118" fill="#222222"/><rect x="287" y="118" fill="#1f1f1f"/><rect x="293" y="118" fill="#1c1c1c"/><rect x="299" y="118" fill="#1a1a1a"/><rect x="305" y="118" fill="#181818"/><rect x="311" y="118" fill="#171717"/><rect x="317" y="118" fill="#151515"/><rect x="323" y="118" fill="#151515"/><rect x="329" y="118" fill="#181818"/><rect x="335" y="118" fill="#191919"/><rect x="341" y="118" fill="#191919"/><rect x="347" y="118" fill="#1b1b1b"/><rect x="353" y="118" fill="#1c1c1c"/><rect x="359" y="118" fill="#1d1d1d"/><rect x="365" y="118" fill="#1d1d1d"/><rect x="221" y="124" fill="#444444"/><rect x="227" y="124" fill="#444444"/><rect x="233" y="124" fill="#434343"/><rect x="239" y="124" fill="#424242"/><rect x="245" y="124" fill="#424242"/><rect x="251" y="124" fill="#434343"/><rect x="257" y="124" fill="#414141"/><rect x="263" y="124" fill="#3b3b3b"/><rect x="269" y="124" fill="#303030"/><rect x="275" y="124" fill="#2a2a2a"/><rect x="281" y="124" fill="#242424"/><rect x="287" y="124" fill="#1f1f1f"/><rect x="293" y="124" fill="#1c1c1c"/><rect x="299" y="124" fill="#191919"/><rect x="305" y="124" fill="#181818"/><rect x="311" y="124" fill="#151515"/><rect x="317" y="124" fill="#131313"/><rect x="323" y="124" fill="#131313"/><rect x="329" y="124" fill="#161616"/><rect x="335" y="124" fill="#181818"/><rect x="341" y="124" fill="#1a1a1a"/><rect x="347" y="124" fill="#1b1b1b"/><rect x="353" y="124" fill="#1d1d1d"/><rect x="359" y="124" fill="#1d1d1d"/><rect x="365" y="124" fill="#1c1c1c"/><rect x="371" y="124" fill="#161616"/><rect x="221" y="130" fill="#474747"/><rect x="227" y="130" fill="#474747"/><rect x="233" y="130" fill="#464646"/><rect x="239" y="130" fill="#464646"/><rect x="245" y="130" fill="#484848"/><rect x="251" y="130" fill="#494949"/><rect x="257" y="130" fill="#484848"/><rect x="263" y="130" fill="#434343"/><rect x="269" y="130" fill="#393939"/><rect x="275" y="130" fill="#353535"/><rect x="281" y="130" fill="#303030"/><rect x="287" y="130" fill="#262626"/><rect x="293" y="130" fill="#1e1e1e"/><rect x="299" y="130" fill="#1a1a1a"/><rect x="305" y="130" fill="#171717"/><rect x="311" y="130" fill="#141414"/><rect x="317" y="130" fill="#121212"/><rect x="323" y="130" fill="#111111"/><rect x="329" y="130" fill="#141414"/><rect x="335" y="130" fill="#181818"/><rect x="341" y="130" fill="#1b1b1b"/><rect x="347" y="130" fill="#1c1c1c"/><rect x="353" y="130" fill="#1d1d1d"/><rect x="359" y="130" fill="#1c1c1c"/><rect x="365" y="130" fill="#1a1a1a"/><rect x="371" y="130" fill="#151515"/><rect x="377" y="130" fill="#121212"/><rect x="383" y="130" fill="#121212"/><rect x="389" y="130" fill="#121212"/><rect x="395" y="130" fill="#131313"/><rect x="401" y="130" fill="#151515"/><rect x="407" y="130" fill="#161616"/><rect x="413" y="130" fill="#1b1b1b"/><rect x="221" y="136" fill="#4a4a4a"/><rect x="227" y="136" fill="#4a4a4a"/><rect x="233" y="136" fill="#4a4a4a"/><rect x="239" y="136" fill="#4e4e4e"/><rect x="245" y="136" fill="#555555"/><rect x="251" y="136" fill="#545454"/><rect x="257" y="136" fill="#515151"/><rect x="263" y="136" fill="#4c4c4c"/><rect x="269" y="136" fill="#444444"/><rect x="275" y="136" fill="#424242"/><rect x="281" y="136" fill="#414141"/><rect x="287" y="136" fill="#373737"/><rect x="293" y="136" fill="#262626"/><rect x="299" y="136" fill="#1c1c1c"/><rect x="305" y="136" fill="#181818"/><rect x="311" y="136" fill="#141414"/><rect x="317" y="136" fill="#121212"/><rect x="323" y="136" fill="#111111"/><rect x="329" y="136" fill="#131313"/><rect x="335" y="136" fill="#181818"/><rect x="341" y="136" fill="#1d1d1d"/><rect x="347" y="136" fill="#1e1e1e"/><rect x="353" y="136" fill="#1d1d1d"/><rect x="359" y="136" fill="#1b1b1b"/><rect x="365" y="136" fill="#191919"/><rect x="371" y="136" fill="#151515"/><rect x="377" y="136" fill="#131313"/><rect x="383" y="136" fill="#121212"/><rect x="389" y="136" fill="#121212"/><rect x="395" y="136" fill="#141414"/><rect x="401" y="136" fill="#161616"/><rect x="407" y="136" fill="#171717"/><rect x="413" y="136" fill="#1e1e1e"/><rect x="419" y="136" fill="#303030"/><rect x="425" y="136" fill="#3d3d3d"/><rect x="431" y="136" fill="#424242"/><rect x="437" y="136" fill="#454545"/><rect x="443" y="136" fill="#474747"/><rect x="221" y="142" fill="#4d4d4d"/><rect x="227" y="142" fill="#4e4e4e"/><rect x="233" y="142" fill="#505050"/><rect x="239" y="142" fill="#585858"/><rect x="245" y="142" fill="#656565"/><rect x="251" y="142" fill="#666666"/><rect x="257" y="142" fill="#636363"/><rect x="263" y="142" fill="#5c5c5c"/><rect x="269" y="142" fill="#4e4e4e"/><rect x="275" y="142" fill="#4a4a4a"/><rect x="281" y="142" fill="#4a4a4a"/><rect x="287" y="142" fill="#434343"/><rect x="293" y="142" fill="#2f2f2f"/><rect x="299" y="142" fill="#202020"/><rect x="305" y="142" fill="#1b1b1b"/><rect x="311" y="142" fill="#171717"/><rect x="317" y="142" fill="#151515"/><rect x="323" y="142" fill="#131313"/><rect x="329" y="142" fill="#161616"/><rect x="335" y="142" fill="#1d1d1d"/><rect x="341" y="142" fill="#202020"/><rect x="347" y="142" fill="#202020"/><rect x="353" y="142" fill="#1e1e1e"/><rect x="359" y="142" fill="#1e1e1e"/><rect x="365" y="142" fill="#1e1e1e"/><rect x="371" y="142" fill="#191919"/><rect x="377" y="142" fill="#151515"/><rect x="383" y="142" fill="#131313"/><rect x="389" y="142" fill="#141414"/><rect x="395" y="142" fill="#171717"/><rect x="401" y="142" fill="#181818"/><rect x="407" y="142" fill="#191919"/><rect x="413" y="142" fill="#232323"/><rect x="419" y="142" fill="#353535"/><rect x="425" y="142" fill="#3d3d3d"/><rect x="431" y="142" fill="#404040"/><rect x="437" y="142" fill="#434343"/><rect x="443" y="142" fill="#464646"/><rect x="449" y="142" fill="#484848"/><rect x="221" y="148" fill="#555555"/><rect x="227" y="148" fill="#565656"/><rect x="233" y="148" fill="#5a5a5a"/><rect x="239" y="148" fill="#646464"/><rect x="245" y="148" fill="#747474"/><rect x="251" y="148" fill="#797979"/><rect x="257" y="148" fill="#787878"/><rect x="263" y="148" fill="#717171"/><rect x="269" y="148" fill="#5d5d5d"/><rect x="275" y="148" fill="#515151"/><rect x="281" y="148" fill="#4e4e4e"/><rect x="287" y="148" fill="#494949"/><rect x="293" y="148" fill="#343434"/><rect x="299" y="148" fill="#222222"/><rect x="305" y="148" fill="#1e1e1e"/><rect x="311" y="148" fill="#1b1b1b"/><rect x="317" y="148" fill="#181818"/><rect x="323" y="148" fill="#181818"/><rect x="329" y="148" fill="#1d1d1d"/><rect x="335" y="148" fill="#222222"/><rect x="341" y="148" fill="#242424"/><rect x="347" y="148" fill="#262626"/><rect x="353" y="148" fill="#2c2c2c"/><rect x="359" y="148" fill="#303030"/><rect x="365" y="148" fill="#333333"/><rect x="371" y="148" fill="#2b2b2b"/><rect x="377" y="148" fill="#1e1e1e"/><rect x="383" y="148" fill="#191919"/><rect x="389" y="148" fill="#1c1c1c"/><rect x="395" y="148" fill="#252525"/><rect x="401" y="148" fill="#272727"/><rect x="407" y="148" fill="#222222"/><rect x="413" y="148" fill="#2b2b2b"/><rect x="419" y="148" fill="#3a3a3a"/><rect x="425" y="148" fill="#3e3e3e"/><rect x="431" y="148" fill="#3f3f3f"/><rect x="437" y="148" fill="#424242"/><rect x="443" y="148" fill="#454545"/><rect x="449" y="148" fill="#474747"/><rect x="221" y="154" fill="#606060"/><rect x="227" y="154" fill="#636363"/><rect x="233" y="154" fill="#686868"/><rect x="239" y="154" fill="#737373"/><rect x="245" y="154" fill="#848484"/><rect x="251" y="154" fill="#8b8b8b"/><rect x="257" y="154" fill="#8d8d8d"/><rect x="263" y="154" fill="#8a8a8a"/><rect x="269" y="154" fill="#747474"/><rect x="275" y="154" fill="#5d5d5d"/><rect x="281" y="154" fill="#565656"/><rect x="287" y="154" fill="#515151"/><rect x="293" y="154" fill="#3b3b3b"/><rect x="299" y="154" fill="#252525"/><rect x="305" y="154" fill="#212121"/><rect x="311" y="154" fill="#1f1f1f"/><rect x="317" y="154" fill="#1c1c1c"/><rect x="323" y="154" fill="#1e1e1e"/><rect x="329" y="154" fill="#242424"/><rect x="335" y="154" fill="#262626"/><rect x="341" y="154" fill="#282828"/><rect x="347" y="154" fill="#333333"/><rect x="353" y="154" fill="#464646"/><rect x="359" y="154" fill="#4c4c4c"/><rect x="365" y="154" fill="#4c4c4c"/><rect x="371" y="154" fill="#444444"/><rect x="377" y="154" fill="#303030"/><rect x="383" y="154" fill="#262626"/><rect x="389" y="154" fill="#303030"/><rect x="395" y="154" fill="#474747"/><rect x="401" y="154" fill="#505050"/><rect x="407" y="154" fill="#434343"/><rect x="413" y="154" fill="#3f3f3f"/><rect x="419" y="154" fill="#424242"/><rect x="425" y="154" fill="#424242"/><rect x="431" y="154" fill="#404040"/><rect x="437" y="154" fill="#414141"/><rect x="443" y="154" fill="#434343"/><rect x="449" y="154" fill="#464646"/><rect x="221" y="160" fill="#6f6f6f"/><rect x="227" y="160" fill="#707070"/><rect x="233" y="160" fill="#747474"/><rect x="239" y="160" fill="#808080"/><rect x="245" y="160" fill="#8f8f8f"/><rect x="251" y="160" fill="#969696"/><rect x="257" y="160" fill="#9a9a9a"/><rect x="263" y="160" fill="#9a9a9a"/><rect x="269" y="160" fill="#898989"/><rect x="275" y="160" fill="#6d6d6d"/><rect x="281" y="160" fill="#606060"/><rect x="287" y="160" fill="#5b5b5b"/><rect x="293" y="160" fill="#4d4d4d"/><rect x="299" y="160" fill="#303030"/><rect x="305" y="160" fill="#272727"/><rect x="311" y="160" fill="#252525"/><rect x="317" y="160" fill="#232323"/><rect x="323" y="160" fill="#242424"/><rect x="329" y="160" fill="#272727"/><rect x="335" y="160" fill="#282828"/><rect x="341" y="160" fill="#2c2c2c"/><rect x="347" y="160" fill="#3a3a3a"/><rect x="353" y="160" fill="#4f4f4f"/><rect x="359" y="160" fill="#565656"/><rect x="365" y="160" fill="#565656"/><rect x="371" y="160" fill="#515151"/><rect x="377" y="160" fill="#434343"/><rect x="383" y="160" fill="#3a3a3a"/><rect x="389" y="160" fill="#4b4b4b"/><rect x="395" y="160" fill="#636363"/><rect x="401" y="160" fill="#6c6c6c"/><rect x="407" y="160" fill="#646464"/><rect x="413" y="160" fill="#555555"/><rect x="419" y="160" fill="#4c4c4c"/><rect x="425" y="160" fill="#484848"/><rect x="431" y="160" fill="#444444"/><rect x="437" y="160" fill="#414141"/><rect x="443" y="160" fill="#424242"/><rect x="227" y="166" fill="#797979"/><rect x="233" y="166" fill="#7d7d7d"/><rect x="239" y="166" fill="#888888"/><rect x="245" y="166" fill="#959595"/><rect x="251" y="166" fill="#9c9c9c"/><rect x="257" y="166" fill="#9f9f9f"/><rect x="263" y="166" fill="#a0a0a0"/><rect x="269" y="166" fill="#939393"/><rect x="275" y="166" fill="#777777"/><rect x="281" y="166" fill="#666666"/><rect x="287" y="166" fill="#5f5f5f"/><rect x="293" y="166" fill="#565656"/><rect x="299" y="166" fill="#424242"/><rect x="305" y="166" fill="#343434"/><rect x="311" y="166" fill="#333333"/><rect x="317" y="166" fill="#363636"/><rect x="323" y="166" fill="#333333"/><rect x="329" y="166" fill="#2d2d2d"/><rect x="335" y="166" fill="#2c2c2c"/><rect x="341" y="166" fill="#2f2f2f"/><rect x="347" y="166" fill="#373737"/><rect x="353" y="166" fill="#484848"/><rect x="359" y="166" fill="#565656"/><rect x="365" y="166" fill="#5a5a5a"/><rect x="371" y="166" fill="#5a5a5a"/><rect x="377" y="166" fill="#525252"/><rect x="383" y="166" fill="#505050"/><rect x="389" y="166" fill="#5d5d5d"/><rect x="395" y="166" fill="#6e6e6e"/><rect x="401" y="166" fill="#737373"/><rect x="407" y="166" fill="#6b6b6b"/><rect x="413" y="166" fill="#5d5d5d"/><rect x="419" y="166" fill="#535353"/><rect x="425" y="166" fill="#4d4d4d"/><rect x="431" y="166" fill="#4a4a4a"/><rect x="437" y="166" fill="#454545"/><rect x="227" y="172" fill="#7d7d7d"/><rect x="233" y="172" fill="#828282"/><rect x="239" y="172" fill="#8e8e8e"/><rect x="245" y="172" fill="#9b9b9b"/><rect x="251" y="172" fill="#a2a2a2"/><rect x="257" y="172" fill="#a5a5a5"/><rect x="263" y="172" fill="#a3a3a3"/><rect x="269" y="172" fill="#999999"/><rect x="275" y="172" fill="#808080"/><rect x="281" y="172" fill="#676767"/><rect x="287" y="172" fill="#5d5d5d"/><rect x="293" y="172" fill="#565656"/><rect x="299" y="172" fill="#4e4e4e"/><rect x="305" y="172" fill="#454545"/><rect x="311" y="172" fill="#434343"/><rect x="317" y="172" fill="#4b4b4b"/><rect x="323" y="172" fill="#535353"/><rect x="329" y="172" fill="#484848"/><rect x="335" y="172" fill="#363636"/><rect x="341" y="172" fill="#333333"/><rect x="347" y="172" fill="#363636"/><rect x="353" y="172" fill="#3e3e3e"/><rect x="359" y="172" fill="#4f4f4f"/><rect x="365" y="172" fill="#5a5a5a"/><rect x="371" y="172" fill="#5d5d5d"/><rect x="377" y="172" fill="#5c5c5c"/><rect x="383" y="172" fill="#5f5f5f"/><rect x="389" y="172" fill="#6b6b6b"/><rect x="395" y="172" fill="#767676"/><rect x="401" y="172" fill="#787878"/><rect x="407" y="172" fill="#6e6e6e"/><rect x="413" y="172" fill="#616161"/><rect x="419" y="172" fill="#585858"/><rect x="425" y="172" fill="#515151"/><rect x="227" y="178" fill="#838383"/><rect x="233" y="178" fill="#898989"/><rect x="239" y="178" fill="#969696"/><rect x="245" y="178" fill="#a2a2a2"/><rect x="251" y="178" fill="#a9a9a9"/><rect x="257" y="178" fill="#aaaaaa"/><rect x="263" y="178" fill="#a6a6a6"/><rect x="269" y="178" fill="#a0a0a0"/><rect x="275" y="178" fill="#979797"/><rect x="281" y="178" fill="#7c7c7c"/><rect x="287" y="178" fill="#5e5e5e"/><rect x="293" y="178" fill="#555555"/><rect x="299" y="178" fill="#535353"/><rect x="305" y="178" fill="#505050"/><rect x="311" y="178" fill="#515151"/><rect x="317" y="178" fill="#5c5c5c"/><rect x="323" y="178" fill="#686868"/><rect x="329" y="178" fill="#666666"/><rect x="335" y="178" fill="#4a4a4a"/><rect x="341" y="178" fill="#383838"/><rect x="347" y="178" fill="#373737"/><rect x="353" y="178" fill="#3d3d3d"/><rect x="359" y="178" fill="#4c4c4c"/><rect x="365" y="178" fill="#555555"/><rect x="371" y="178" fill="#5a5a5a"/><rect x="377" y="178" fill="#606060"/><rect x="383" y="178" fill="#686868"/><rect x="389" y="178" fill="#767676"/><rect x="395" y="178" fill="#808080"/><rect x="401" y="178" fill="#818181"/><rect x="407" y="178" fill="#757575"/><rect x="413" y="178" fill="#656565"/><rect x="419" y="178" fill="#5b5b5b"/><rect x="221" y="184" fill="#8a8a8a"/><rect x="227" y="184" fill="#8e8e8e"/><rect x="233" y="184" fill="#979797"/><rect x="239" y="184" fill="#a2a2a2"/><rect x="245" y="184" fill="#ababab"/><rect x="251" y="184" fill="#afafaf"/><rect x="257" y="184" fill="#adadad"/><rect x="263" y="184" fill="#a9a9a9"/><rect x="269" y="184" fill="#a7a7a7"/><rect x="275" y="184" fill="#acacac"/><rect x="281" y="184" fill="#a8a8a8"/><rect x="287" y="184" fill="#767676"/><rect x="293" y="184" fill="#5b5b5b"/><rect x="299" y="184" fill="#595959"/><rect x="305" y="184" fill="#5c5c5c"/><rect x="311" y="184" fill="#656565"/><rect x="317" y="184" fill="#707070"/><rect x="323" y="184" fill="#737373"/><rect x="329" y="184" fill="#6e6e6e"/><rect x="335" y="184" fill="#525252"/><rect x="341" y="184" fill="#3c3c3c"/><rect x="347" y="184" fill="#393939"/><rect x="353" y="184" fill="#404040"/><rect x="359" y="184" fill="#4e4e4e"/><rect x="365" y="184" fill="#545454"/><rect x="371" y="184" fill="#5a5a5a"/><rect x="377" y="184" fill="#616161"/><rect x="383" y="184" fill="#6a6a6a"/><rect x="389" y="184" fill="#767676"/><rect x="395" y="184" fill="#828282"/><rect x="401" y="184" fill="#878787"/><rect x="407" y="184" fill="#818181"/><rect x="221" y="190" fill="#8c8c8c"/><rect x="227" y="190" fill="#929292"/><rect x="233" y="190" fill="#9e9e9e"/><rect x="239" y="190" fill="#aaaaaa"/><rect x="245" y="190" fill="#b1b1b1"/><rect x="251" y="190" fill="#b6b6b6"/><rect x="257" y="190" fill="#b6b6b6"/><rect x="263" y="190" fill="#b4b4b4"/><rect x="269" y="190" fill="#b5b5b5"/><rect x="275" y="190" fill="#bababa"/><rect x="281" y="190" fill="#bbbbbb"/><rect x="287" y="190" fill="#989898"/><rect x="293" y="190" fill="#666666"/><rect x="299" y="190" fill="#606060"/><rect x="305" y="190" fill="#6a6a6a"/><rect x="311" y="190" fill="#7a7a7a"/><rect x="317" y="190" fill="#808080"/><rect x="323" y="190" fill="#7e7e7e"/><rect x="329" y="190" fill="#737373"/><rect x="335" y="190" fill="#515151"/><rect x="341" y="190" fill="#3d3d3d"/><rect x="347" y="190" fill="#3b3b3b"/><rect x="353" y="190" fill="#414141"/><rect x="359" y="190" fill="#4d4d4d"/><rect x="365" y="190" fill="#555555"/><rect x="371" y="190" fill="#5c5c5c"/><rect x="377" y="190" fill="#646464"/><rect x="383" y="190" fill="#6b6b6b"/><rect x="389" y="190" fill="#727272"/><rect x="395" y="190" fill="#7a7a7a"/><rect x="401" y="190" fill="#828282"/><rect x="407" y="190" fill="#868686"/><rect x="455" y="190" fill="#777777"/><rect x="461" y="190" fill="#777777"/><rect x="467" y="190" fill="#777777"/><rect x="221" y="196" fill="#8d8d8d"/><rect x="227" y="196" fill="#949494"/><rect x="233" y="196" fill="#a0a0a0"/><rect x="239" y="196" fill="#acacac"/><rect x="245" y="196" fill="#b3b3b3"/><rect x="251" y="196" fill="#b9b9b9"/><rect x="257" y="196" fill="#bfbfbf"/><rect x="263" y="196" fill="#c2c2c2"/><rect x="269" y="196" fill="#c2c2c2"/><rect x="275" y="196" fill="#c2c2c2"/><rect x="281" y="196" fill="#c1c1c1"/><rect x="287" y="196" fill="#b0b0b0"/><rect x="293" y="196" fill="#7e7e7e"/><rect x="299" y="196" fill="#727272"/><rect x="305" y="196" fill="#818181"/><rect x="311" y="196" fill="#8d8d8d"/><rect x="317" y="196" fill="#8e8e8e"/><rect x="323" y="196" fill="#8b8b8b"/><rect x="329" y="196" fill="#7f7f7f"/><rect x="335" y="196" fill="#5c5c5c"/><rect x="341" y="196" fill="#434343"/><rect x="347" y="196" fill="#404040"/><rect x="353" y="196" fill="#434343"/><rect x="359" y="196" fill="#4b4b4b"/><rect x="365" y="196" fill="#5a5a5a"/><rect x="371" y="196" fill="#646464"/><rect x="377" y="196" fill="#696969"/><rect x="383" y="196" fill="#6d6d6d"/><rect x="389" y="196" fill="#707070"/><rect x="395" y="196" fill="#737373"/><rect x="401" y="196" fill="#787878"/><rect x="431" y="196" fill="#838383"/><rect x="437" y="196" fill="#828282"/><rect x="443" y="196" fill="#818181"/><rect x="449" y="196" fill="#7b7b7b"/><rect x="455" y="196" fill="#787878"/><rect x="461" y="196" fill="#777777"/><rect x="467" y="196" fill="#777777"/><rect x="473" y="196" fill="#777777"/><rect x="215" y="202" fill="#868686"/><rect x="221" y="202" fill="#8e8e8e"/><rect x="227" y="202" fill="#989898"/><rect x="233" y="202" fill="#a4a4a4"/><rect x="239" y="202" fill="#afafaf"/><rect x="245" y="202" fill="#b5b5b5"/><rect x="251" y="202" fill="#bababa"/><rect x="257" y="202" fill="#c3c3c3"/><rect x="263" y="202" fill="#c8c8c8"/><rect x="269" y="202" fill="#c9c9c9"/><rect x="275" y="202" fill="#cacaca"/><rect x="281" y="202" fill="#c9c9c9"/><rect x="287" y="202" fill="#c3c3c3"/><rect x="293" y="202" fill="#b4b4b4"/><rect x="299" y="202" fill="#a1a1a1"/><rect x="305" y="202" fill="#9a9a9a"/><rect x="311" y="202" fill="#9a9a9a"/><rect x="317" y="202" fill="#989898"/><rect x="323" y="202" fill="#929292"/><rect x="329" y="202" fill="#828282"/><rect x="335" y="202" fill="#666666"/><rect x="341" y="202" fill="#4d4d4d"/><rect x="347" y="202" fill="#454545"/><rect x="353" y="202" fill="#464646"/><rect x="359" y="202" fill="#505050"/><rect x="365" y="202" fill="#656565"/><rect x="371" y="202" fill="#6f6f6f"/><rect x="377" y="202" fill="#707070"/><rect x="383" y="202" fill="#717171"/><rect x="389" y="202" fill="#717171"/><rect x="395" y="202" fill="#717171"/><rect x="425" y="202" fill="#838383"/><rect x="431" y="202" fill="#838383"/><rect x="437" y="202" fill="#828282"/><rect x="443" y="202" fill="#828282"/><rect x="449" y="202" fill="#7e7e7e"/><rect x="455" y="202" fill="#787878"/><rect x="461" y="202" fill="#777777"/><rect x="467" y="202" fill="#777777"/><rect x="473" y="202" fill="#777777"/><rect x="215" y="208" fill="#828282"/><rect x="221" y="208" fill="#8c8c8c"/><rect x="227" y="208" fill="#999999"/><rect x="233" y="208" fill="#a6a6a6"/><rect x="239" y="208" fill="#b2b2b2"/><rect x="245" y="208" fill="#b7b7b7"/><rect x="251" y="208" fill="#bababa"/><rect x="257" y="208" fill="#c4c4c4"/><rect x="263" y="208" fill="#cccccc"/><rect x="269" y="208" fill="#d0d0d0"/><rect x="275" y="208" fill="#d2d2d2"/><rect x="281" y="208" fill="#cfcfcf"/><rect x="287" y="208" fill="#c9c9c9"/><rect x="293" y="208" fill="#c3c3c3"/><rect x="299" y="208" fill="#bdbdbd"/><rect x="305" y="208" fill="#acacac"/><rect x="311" y="208" fill="#a3a3a3"/><rect x="317" y="208" fill="#9f9f9f"/><rect x="323" y="208" fill="#939393"/><rect x="329" y="208" fill="#7b7b7b"/><rect x="335" y="208" fill="#616161"/><rect x="341" y="208" fill="#515151"/><rect x="347" y="208" fill="#494949"/><rect x="353" y="208" fill="#4a4a4a"/><rect x="359" y="208" fill="#595959"/><rect x="365" y="208" fill="#6c6c6c"/><rect x="371" y="208" fill="#727272"/><rect x="377" y="208" fill="#757575"/><rect x="383" y="208" fill="#777777"/><rect x="389" y="208" fill="#777777"/><rect x="395" y="208" fill="#767676"/><rect x="425" y="208" fill="#838383"/><rect x="431" y="208" fill="#838383"/><rect x="437" y="208" fill="#838383"/><rect x="443" y="208" fill="#828282"/><rect x="449" y="208" fill="#808080"/><rect x="455" y="208" fill="#7a7a7a"/><rect x="461" y="208" fill="#787878"/><rect x="467" y="208" fill="#777777"/><rect x="209" y="214" fill="#7d7d7d"/><rect x="215" y="214" fill="#808080"/><rect x="221" y="214" fill="#898989"/><rect x="227" y="214" fill="#969696"/><rect x="233" y="214" fill="#a6a6a6"/><rect x="239" y="214" fill="#b2b2b2"/><rect x="245" y="214" fill="#b7b7b7"/><rect x="251" y="214" fill="#bbbbbb"/><rect x="257" y="214" fill="#c9c9c9"/><rect x="263" y="214" fill="#d1d1d1"/><rect x="269" y="214" fill="#d3d3d3"/><rect x="275" y="214" fill="#d4d4d4"/><rect x="281" y="214" fill="#d1d1d1"/><rect x="287" y="214" fill="#c9c9c9"/><rect x="293" y="214" fill="#c5c5c5"/><rect x="299" y="214" fill="#c5c5c5"/><rect x="305" y="214" fill="#c0c0c0"/><rect x="311" y="214" fill="#b8b8b8"/><rect x="317" y="214" fill="#b3b3b3"/><rect x="323" y="214" fill="#a3a3a3"/><rect x="329" y="214" fill="#838383"/><rect x="335" y="214" fill="#676767"/><rect x="341" y="214" fill="#575757"/><rect x="347" y="214" fill="#515151"/><rect x="353" y="214" fill="#525252"/><rect x="359" y="214" fill="#636363"/><rect x="365" y="214" fill="#707070"/><rect x="371" y="214" fill="#747474"/><rect x="377" y="214" fill="#777777"/><rect x="383" y="214" fill="#797979"/><rect x="389" y="214" fill="#7b7b7b"/><rect x="413" y="214" fill="#838383"/><rect x="419" y="214" fill="#838383"/><rect x="425" y="214" fill="#838383"/><rect x="431" y="214" fill="#838383"/><rect x="437" y="214" fill="#838383"/><rect x="443" y="214" fill="#828282"/><rect x="449" y="214" fill="#828282"/><rect x="455" y="214" fill="#7d7d7d"/><rect x="209" y="220" fill="#7d7d7d"/><rect x="215" y="220" fill="#818181"/><rect x="221" y="220" fill="#8a8a8a"/><rect x="227" y="220" fill="#979797"/><rect x="233" y="220" fill="#a5a5a5"/><rect x="239" y="220" fill="#aeaeae"/><rect x="245" y="220" fill="#b3b3b3"/><rect x="251" y="220" fill="#bdbdbd"/><rect x="257" y="220" fill="#cecece"/><rect x="263" y="220" fill="#d2d2d2"/><rect x="269" y="220" fill="#d3d3d3"/><rect x="275" y="220" fill="#d4d4d4"/><rect x="281" y="220" fill="#d2d2d2"/><rect x="287" y="220" fill="#cbcbcb"/><rect x="293" y="220" fill="#c8c8c8"/><rect x="299" y="220" fill="#c8c8c8"/><rect x="305" y="220" fill="#c7c7c7"/><rect x="311" y="220" fill="#c3c3c3"/><rect x="317" y="220" fill="#bebebe"/><rect x="323" y="220" fill="#b5b5b5"/><rect x="329" y="220" fill="#a1a1a1"/><rect x="335" y="220" fill="#838383"/><rect x="341" y="220" fill="#656565"/><rect x="347" y="220" fill="#595959"/><rect x="353" y="220" fill="#5a5a5a"/><rect x="359" y="220" fill="#656565"/><rect x="365" y="220" fill="#707070"/><rect x="371" y="220" fill="#747474"/><rect x="377" y="220" fill="#777777"/><rect x="383" y="220" fill="#7a7a7a"/><rect x="389" y="220" fill="#7b7b7b"/><rect x="407" y="220" fill="#828282"/><rect x="413" y="220" fill="#838383"/><rect x="419" y="220" fill="#838383"/><rect x="425" y="220" fill="#838383"/><rect x="431" y="220" fill="#838383"/><rect x="437" y="220" fill="#838383"/><rect x="443" y="220" fill="#838383"/><rect x="449" y="220" fill="#828282"/><rect x="209" y="226" fill="#868686"/><rect x="215" y="226" fill="#8f8f8f"/><rect x="221" y="226" fill="#999999"/><rect x="227" y="226" fill="#a0a0a0"/><rect x="233" y="226" fill="#a5a5a5"/><rect x="239" y="226" fill="#aaaaaa"/><rect x="245" y="226" fill="#adadad"/><rect x="251" y="226" fill="#b7b7b7"/><rect x="257" y="226" fill="#cdcdcd"/><rect x="263" y="226" fill="#d1d1d1"/><rect x="269" y="226" fill="#d2d2d2"/><rect x="275" y="226" fill="#d4d4d4"/><rect x="281" y="226" fill="#d4d4d4"/><rect x="287" y="226" fill="#d1d1d1"/><rect x="293" y="226" fill="#cccccc"/><rect x="299" y="226" fill="#cacaca"/><rect x="305" y="226" fill="#c9c9c9"/><rect x="311" y="226" fill="#c5c5c5"/><rect x="317" y="226" fill="#c0c0c0"/><rect x="323" y="226" fill="#b8b8b8"/><rect x="329" y="226" fill="#adadad"/><rect x="335" y="226" fill="#949494"/><rect x="341" y="226" fill="#6e6e6e"/><rect x="347" y="226" fill="#5c5c5c"/><rect x="353" y="226" fill="#5d5d5d"/><rect x="359" y="226" fill="#636363"/><rect x="365" y="226" fill="#6d6d6d"/><rect x="371" y="226" fill="#737373"/><rect x="377" y="226" fill="#777777"/><rect x="383" y="226" fill="#7a7a7a"/><rect x="389" y="226" fill="#7b7b7b"/><rect x="395" y="226" fill="#7c7c7c"/><rect x="401" y="226" fill="#808080"/><rect x="407" y="226" fill="#828282"/><rect x="413" y="226" fill="#838383"/><rect x="419" y="226" fill="#838383"/><rect x="425" y="226" fill="#838383"/><rect x="437" y="226" fill="#838383"/><rect x="443" y="226" fill="#838383"/><rect x="449" y="226" fill="#828282"/><rect x="209" y="232" fill="#979797"/><rect x="215" y="232" fill="#9b9b9b"/><rect x="221" y="232" fill="#9e9e9e"/><rect x="227" y="232" fill="#a2a2a2"/><rect x="233" y="232" fill="#a5a5a5"/><rect x="239" y="232" fill="#a9a9a9"/><rect x="245" y="232" fill="#ababab"/><rect x="251" y="232" fill="#b2b2b2"/><rect x="257" y="232" fill="#c9c9c9"/><rect x="263" y="232" fill="#d1d1d1"/><rect x="269" y="232" fill="#d3d3d3"/><rect x="275" y="232" fill="#d4d4d4"/><rect x="281" y="232" fill="#d5d5d5"/><rect x="287" y="232" fill="#d4d4d4"/><rect x="293" y="232" fill="#d1d1d1"/><rect x="299" y="232" fill="#cecece"/><rect x="305" y="232" fill="#cdcdcd"/><rect x="311" y="232" fill="#cacaca"/><rect x="317" y="232" fill="#c5c5c5"/><rect x="323" y="232" fill="#c0c0c0"/><rect x="329" y="232" fill="#bbbbbb"/><rect x="335" y="232" fill="#a9a9a9"/><rect x="341" y="232" fill="#7e7e7e"/><rect x="347" y="232" fill="#626262"/><rect x="353" y="232" fill="#616161"/><rect x="359" y="232" fill="#656565"/><rect x="365" y="232" fill="#6c6c6c"/><rect x="371" y="232" fill="#757575"/><rect x="377" y="232" fill="#797979"/><rect x="383" y="232" fill="#7b7b7b"/><rect x="389" y="232" fill="#7c7c7c"/><rect x="395" y="232" fill="#7c7c7c"/><rect x="401" y="232" fill="#7f7f7f"/><rect x="407" y="232" fill="#828282"/><rect x="413" y="232" fill="#838383"/><rect x="419" y="232" fill="#838383"/><rect x="425" y="232" fill="#838383"/><rect x="215" y="238" fill="#999999"/><rect x="221" y="238" fill="#9c9c9c"/><rect x="227" y="238" fill="#9f9f9f"/><rect x="233" y="238" fill="#a4a4a4"/><rect x="239" y="238" fill="#aaaaaa"/><rect x="245" y="238" fill="#adadad"/><rect x="251" y="238" fill="#b3b3b3"/><rect x="257" y="238" fill="#c8c8c8"/><rect x="263" y="238" fill="#d2d2d2"/><rect x="269" y="238" fill="#d4d4d4"/><rect x="275" y="238" fill="#d5d5d5"/><rect x="281" y="238" fill="#d5d5d5"/><rect x="287" y="238" fill="#d5d5d5"/><rect x="293" y="238" fill="#d2d2d2"/><rect x="299" y="238" fill="#d1d1d1"/><rect x="305" y="238" fill="#d2d2d2"/><rect x="311" y="238" fill="#d5d5d5"/><rect x="317" y="238" fill="#d7d7d7"/><rect x="323" y="238" fill="#d6d6d6"/><rect x="329" y="238" fill="#d4d4d4"/><rect x="335" y="238" fill="#cdcdcd"/><rect x="341" y="238" fill="#ababab"/><rect x="347" y="238" fill="#777777"/><rect x="353" y="238" fill="#6e6e6e"/><rect x="359" y="238" fill="#707070"/><rect x="365" y="238" fill="#747474"/><rect x="371" y="238" fill="#7a7a7a"/><rect x="377" y="238" fill="#7c7c7c"/><rect x="383" y="238" fill="#7c7c7c"/><rect x="389" y="238" fill="#7c7c7c"/><rect x="395" y="238" fill="#7c7c7c"/><rect x="413" y="238" fill="#838383"/><rect x="419" y="238" fill="#838383"/><rect x="215" y="244" fill="#999999"/><rect x="221" y="244" fill="#9b9b9b"/><rect x="227" y="244" fill="#a0a0a0"/><rect x="233" y="244" fill="#a7a7a7"/><rect x="239" y="244" fill="#afafaf"/><rect x="245" y="244" fill="#b4b4b4"/><rect x="251" y="244" fill="#bdbdbd"/><rect x="257" y="244" fill="#cccccc"/><rect x="263" y="244" fill="#d2d2d2"/><rect x="269" y="244" fill="#d4d4d4"/><rect x="275" y="244" fill="#d5d5d5"/><rect x="281" y="244" fill="#d5d5d5"/><rect x="287" y="244" fill="#d4d4d4"/><rect x="293" y="244" fill="#d2d2d2"/><rect x="299" y="244" fill="#d2d2d2"/><rect x="305" y="244" fill="#d4d4d4"/><rect x="311" y="244" fill="#d9d9d9"/><rect x="317" y="244" fill="#dddddd"/><rect x="323" y="244" fill="#dddddd"/><rect x="329" y="244" fill="#dcdcdc"/><rect x="335" y="244" fill="#d9d9d9"/><rect x="341" y="244" fill="#c6c6c6"/><rect x="347" y="244" fill="#8f8f8f"/><rect x="353" y="244" fill="#818181"/><rect x="359" y="244" fill="#818181"/><rect x="365" y="244" fill="#828282"/><rect x="371" y="244" fill="#818181"/><rect x="377" y="244" fill="#7f7f7f"/><rect x="383" y="244" fill="#7e7e7e"/><rect x="389" y="244" fill="#7d7d7d"/><rect x="215" y="250" fill="#9a9a9a"/><rect x="221" y="250" fill="#9f9f9f"/><rect x="227" y="250" fill="#a6a6a6"/><rect x="233" y="250" fill="#acacac"/><rect x="239" y="250" fill="#b2b2b2"/><rect x="245" y="250" fill="#b8b8b8"/><rect x="251" y="250" fill="#bfbfbf"/><rect x="257" y="250" fill="#cccccc"/><rect x="263" y="250" fill="#d1d1d1"/><rect x="269" y="250" fill="#d3d3d3"/><rect x="275" y="250" fill="#d4d4d4"/><rect x="281" y="250" fill="#d5d5d5"/><rect x="287" y="250" fill="#d5d5d5"/><rect x="293" y="250" fill="#d3d3d3"/><rect x="299" y="250" fill="#d2d2d2"/><rect x="305" y="250" fill="#d5d5d5"/><rect x="311" y="250" fill="#d9d9d9"/><rect x="317" y="250" fill="#dbdbdb"/><rect x="323" y="250" fill="#dadada"/><rect x="329" y="250" fill="#d6d6d6"/><rect x="335" y="250" fill="#cdcdcd"/><rect x="341" y="250" fill="#b1b1b1"/><rect x="347" y="250" fill="#8f8f8f"/><rect x="353" y="250" fill="#888888"/><rect x="359" y="250" fill="#888888"/><rect x="365" y="250" fill="#888888"/><rect x="371" y="250" fill="#878787"/><rect x="377" y="250" fill="#858585"/><rect x="383" y="250" fill="#818181"/><rect x="215" y="256" fill="#a2a2a2"/><rect x="221" y="256" fill="#a9a9a9"/><rect x="227" y="256" fill="#adadad"/><rect x="233" y="256" fill="#afafaf"/><rect x="239" y="256" fill="#b4b4b4"/><rect x="245" y="256" fill="#b8b8b8"/><rect x="251" y="256" fill="#bebebe"/><rect x="257" y="256" fill="#cacaca"/><rect x="263" y="256" fill="#d0d0d0"/><rect x="269" y="256" fill="#d1d1d1"/><rect x="275" y="256" fill="#d3d3d3"/><rect x="281" y="256" fill="#d4d4d4"/><rect x="287" y="256" fill="#d5d5d5"/><rect x="293" y="256" fill="#d4d4d4"/><rect x="299" y="256" fill="#d1d1d1"/><rect x="305" y="256" fill="#d2d2d2"/><rect x="311" y="256" fill="#d3d3d3"/><rect x="317" y="256" fill="#d4d4d4"/><rect x="323" y="256" fill="#d2d2d2"/><rect x="329" y="256" fill="#cacaca"/><rect x="335" y="256" fill="#b3b3b3"/><rect x="341" y="256" fill="#949494"/><rect x="347" y="256" fill="#888888"/><rect x="353" y="256" fill="#888888"/><rect x="359" y="256" fill="#898989"/><rect x="365" y="256" fill="#898989"/><rect x="371" y="256" fill="#898989"/><rect x="377" y="256" fill="#888888"/><rect x="383" y="256" fill="#878787"/><rect x="215" y="262" fill="#adadad"/><rect x="221" y="262" fill="#afafaf"/><rect x="227" y="262" fill="#b0b0b0"/><rect x="233" y="262" fill="#b2b2b2"/><rect x="239" y="262" fill="#b5b5b5"/><rect x="245" y="262" fill="#b8b8b8"/><rect x="251" y="262" fill="#bcbcbc"/><rect x="257" y="262" fill="#c6c6c6"/><rect x="263" y="262" fill="#cdcdcd"/><rect x="269" y="262" fill="#cfcfcf"/><rect x="275" y="262" fill="#d1d1d1"/><rect x="281" y="262" fill="#d3d3d3"/><rect x="287" y="262" fill="#d4d4d4"/><rect x="293" y="262" fill="#d2d2d2"/><rect x="299" y="262" fill="#cdcdcd"/><rect x="305" y="262" fill="#cccccc"/><rect x="311" y="262" fill="#cccccc"/><rect x="317" y="262" fill="#cbcbcb"/><rect x="323" y="262" fill="#c9c9c9"/><rect x="329" y="262" fill="#bfbfbf"/><rect x="335" y="262" fill="#a3a3a3"/><rect x="341" y="262" fill="#8c8c8c"/><rect x="347" y="262" fill="#868686"/><rect x="353" y="262" fill="#878787"/><rect x="359" y="262" fill="#898989"/><rect x="365" y="262" fill="#898989"/><rect x="371" y="262" fill="#898989"/><rect x="377" y="262" fill="#898989"/><rect x="383" y="262" fill="#898989"/><rect x="215" y="268" fill="#b1b1b1"/><rect x="221" y="268" fill="#b2b2b2"/><rect x="227" y="268" fill="#b2b2b2"/><rect x="233" y="268" fill="#b3b3b3"/><rect x="239" y="268" fill="#b6b6b6"/><rect x="245" y="268" fill="#b8b8b8"/><rect x="251" y="268" fill="#bbbbbb"/><rect x="257" y="268" fill="#c4c4c4"/><rect x="263" y="268" fill="#cccccc"/><rect x="269" y="268" fill="#cdcdcd"/><rect x="275" y="268" fill="#cdcdcd"/><rect x="281" y="268" fill="#cdcdcd"/><rect x="287" y="268" fill="#cfcfcf"/><rect x="293" y="268" fill="#cecece"/><rect x="299" y="268" fill="#cacaca"/><rect x="305" y="268" fill="#c6c6c6"/><rect x="311" y="268" fill="#c5c5c5"/><rect x="317" y="268" fill="#c2c2c2"/><rect x="323" y="268" fill="#bcbcbc"/><rect x="329" y="268" fill="#afafaf"/><rect x="335" y="268" fill="#9a9a9a"/><rect x="341" y="268" fill="#8c8c8c"/><rect x="347" y="268" fill="#888888"/><rect x="353" y="268" fill="#888888"/><rect x="359" y="268" fill="#888888"/><rect x="365" y="268" fill="#898989"/><rect x="371" y="268" fill="#898989"/><rect x="221" y="274" fill="#b2b2b2"/><rect x="227" y="274" fill="#b2b2b2"/><rect x="233" y="274" fill="#b3b3b3"/><rect x="239" y="274" fill="#b6b6b6"/><rect x="245" y="274" fill="#b9b9b9"/><rect x="251" y="274" fill="#bababa"/><rect x="257" y="274" fill="#c2c2c2"/><rect x="263" y="274" fill="#cacaca"/><rect x="269" y="274" fill="#c9c9c9"/><rect x="275" y="274" fill="#c7c7c7"/><rect x="281" y="274" fill="#c7c7c7"/><rect x="287" y="274" fill="#c9c9c9"/><rect x="293" y="274" fill="#cccccc"/><rect x="299" y="274" fill="#cacaca"/><rect x="305" y="274" fill="#c4c4c4"/><rect x="311" y="274" fill="#c0c0c0"/><rect x="317" y="274" fill="#bcbcbc"/><rect x="323" y="274" fill="#b3b3b3"/><rect x="329" y="274" fill="#a4a4a4"/><rect x="335" y="274" fill="#979797"/><rect x="341" y="274" fill="#8d8d8d"/><rect x="347" y="274" fill="#898989"/><rect x="353" y="274" fill="#898989"/><rect x="359" y="274" fill="#898989"/><rect x="263" y="280" fill="#c7c7c7"/><rect x="269" y="280" fill="#c6c6c6"/><rect x="275" y="280" fill="#c4c4c4"/><rect x="281" y="280" fill="#c4c4c4"/><rect x="287" y="280" fill="#c5c5c5"/><rect x="293" y="280" fill="#c9c9c9"/><rect x="299" y="280" fill="#cacaca"/><rect x="305" y="280" fill="#c5c5c5"/><rect x="311" y="280" fill="#bfbfbf"/><rect x="317" y="280" fill="#bababa"/><rect x="323" y="280" fill="#aeaeae"/><rect x="329" y="280" fill="#9f9f9f"/><rect x="335" y="280" fill="#979797"/><rect x="341" y="280" fill="#8f8f8f"/><rect x="347" y="280" fill="#8b8b8b"/><rect x="353" y="280" fill="#898989"/><rect x="359" y="280" fill="#898989"/><rect x="263" y="286" fill="#c5c5c5"/><rect x="269" y="286" fill="#c4c4c4"/><rect x="275" y="286" fill="#c2c2c2"/><rect x="281" y="286" fill="#c1c1c1"/><rect x="287" y="286" fill="#c1c1c1"/><rect x="293" y="286" fill="#c4c4c4"/><rect x="299" y="286" fill="#c8c8c8"/><rect x="305" y="286" fill="#c6c6c6"/><rect x="311" y="286" fill="#c0c0c0"/><rect x="317" y="286" fill="#b9b9b9"/><rect x="323" y="286" fill="#ababab"/><rect x="329" y="286" fill="#9d9d9d"/><rect x="335" y="286" fill="#979797"/><rect x="341" y="286" fill="#919191"/><rect x="347" y="286" fill="#8c8c8c"/><rect x="353" y="286" fill="#8a8a8a"/><rect x="269" y="292" fill="#c2c2c2"/><rect x="275" y="292" fill="#c0c0c0"/><rect x="281" y="292" fill="#bfbfbf"/><rect x="287" y="292" fill="#bfbfbf"/><rect x="293" y="292" fill="#c0c0c0"/><rect x="299" y="292" fill="#c4c4c4"/><rect x="275" y="298" fill="#bfbfbf"/><rect x="281" y="298" fill="#bebebe"/><rect x="287" y="298" fill="#bebebe"/><rect x="293" y="298" fill="#bfbfbf"/></g></g>
<g clip-path="url(#c2)"><g filter="url(#fm2)" class="mf"><rect x="531" y="100" fill="#c6c6c6"/><rect x="537" y="100" fill="#c7c7c7"/><rect x="543" y="100" fill="#c9c9c9"/><rect x="549" y="100" fill="#cacaca"/><rect x="519" y="106" fill="#c1c1c1"/><rect x="525" y="106" fill="#c4c4c4"/><rect x="531" y="106" fill="#c6c6c6"/><rect x="537" y="106" fill="#c8c8c8"/><rect x="543" y="106" fill="#cacaca"/><rect x="549" y="106" fill="#cacaca"/><rect x="555" y="106" fill="#c8c8c8"/><rect x="561" y="106" fill="#c6c6c6"/><rect x="567" y="106" fill="#c4c4c4"/><rect x="573" y="106" fill="#c1c1c1"/><rect x="579" y="106" fill="#bfbfbf"/><rect x="585" y="106" fill="#bcbcbc"/><rect x="591" y="106" fill="#b9b9b9"/><rect x="609" y="106" fill="#b1b1b1"/><rect x="615" y="106" fill="#aeaeae"/><rect x="621" y="106" fill="#ababab"/><rect x="507" y="112" fill="#c0c0c0"/><rect x="513" y="112" fill="#c0c0c0"/><rect x="519" y="112" fill="#c1c1c1"/><rect x="525" y="112" fill="#c3c3c3"/><rect x="531" y="112" fill="#c6c6c6"/><rect x="537" y="112" fill="#c8c8c8"/><rect x="543" y="112" fill="#cacaca"/><rect x="549" y="112" fill="#cacaca"/><rect x="555" y="112" fill="#c7c7c7"/><rect x="561" y="112" fill="#c5c5c5"/><rect x="567" y="112" fill="#c3c3c3"/><rect x="573" y="112" fill="#c1c1c1"/><rect x="579" y="112" fill="#bfbfbf"/><rect x="585" y="112" fill="#bcbcbc"/><rect x="591" y="112" fill="#b9b9b9"/><rect x="597" y="112" fill="#b6b6b6"/><rect x="603" y="112" fill="#b4b4b4"/><rect x="609" y="112" fill="#b1b1b1"/><rect x="615" y="112" fill="#aeaeae"/><rect x="621" y="112" fill="#ababab"/><rect x="627" y="112" fill="#a7a7a7"/><rect x="633" y="112" fill="#a3a3a3"/><rect x="639" y="112" fill="#9f9f9f"/><rect x="645" y="112" fill="#9a9a9a"/><rect x="651" y="112" fill="#949494"/><rect x="657" y="112" fill="#929292"/><rect x="507" y="118" fill="#bfbfbf"/><rect x="513" y="118" fill="#bfbfbf"/><rect x="519" y="118" fill="#bfbfbf"/><rect x="525" y="118" fill="#c2c2c2"/><rect x="531" y="118" fill="#c5c5c5"/><rect x="537" y="118" fill="#c8c8c8"/><rect x="543" y="118" fill="#cacaca"/><rect x="549" y="118" fill="#cacaca"/><rect x="555" y="118" fill="#c6c6c6"/><rect x="561" y="118" fill="#c3c3c3"/><rect x="567" y="118" fill="#c1c1c1"/><rect x="573" y="118" fill="#bfbfbf"/><rect x="579" y="118" fill="#bdbdbd"/><rect x="585" y="118" fill="#bbbbbb"/><rect x="591" y="118" fill="#b8b8b8"/><rect x="597" y="118" fill="#b5b5b5"/><rect x="603" y="118" fill="#b3b3b3"/><rect x="609" y="118" fill="#b0b0b0"/><rect x="615" y="118" fill="#adadad"/><rect x="621" y="118" fill="#aaaaaa"/><rect x="627" y="118" fill="#a6a6a6"/><rect x="633" y="118" fill="#a2a2a2"/><rect x="639" y="118" fill="#9d9d9d"/><rect x="645" y="118" fill="#979797"/><rect x="651" y="118" fill="#939393"/><rect x="657" y="118" fill="#929292"/><rect x="663" y="118" fill="#9a9a9a"/><rect x="507" y="124" fill="#bcbcbc"/><rect x="513" y="124" fill="#bcbcbc"/><rect x="519" y="124" fill="#bdbdbd"/><rect x="525" y="124" fill="#bfbfbf"/><rect x="531" y="124" fill="#c4c4c4"/><rect x="537" y="124" fill="#c7c7c7"/><rect x="543" y="124" fill="#c9c9c9"/><rect x="549" y="124" fill="#c8c8c8"/><rect x="555" y="124" fill="#c2c2c2"/><rect x="561" y="124" fill="#bcbcbc"/><rect x="567" y="124" fill="#bababa"/><rect x="573" y="124" fill="#b9b9b9"/><rect x="579" y="124" fill="#b7b7b7"/><rect x="585" y="124" fill="#b6b6b6"/><rect x="591" y="124" fill="#b4b4b4"/><rect x="597" y="124" fill="#b1b1b1"/><rect x="603" y="124" fill="#b0b0b0"/><rect x="609" y="124" fill="#adadad"/><rect x="615" y="124" fill="#ababab"/><rect x="621" y="124" fill="#a9a9a9"/><rect x="627" y="124" fill="#a5a5a5"/><rect x="633" y="124" fill="#a0a0a0"/><rect x="639" y="124" fill="#9b9b9b"/><rect x="645" y="124" fill="#959595"/><rect x="651" y="124" fill="#909090"/><rect x="657" y="124" fill="#909090"/><rect x="663" y="124" fill="#9b9b9b"/><rect x="669" y="124" fill="#a9a9a9"/><rect x="675" y="124" fill="#aaaaaa"/><rect x="681" y="124" fill="#a8a8a8"/><rect x="687" y="124" fill="#a8a8a8"/><rect x="693" y="124" fill="#b0b0b0"/><rect x="699" y="124" fill="#b6b6b6"/><rect x="705" y="124" fill="#b7b7b7"/><rect x="711" y="124" fill="#b1b1b1"/><rect x="507" y="130" fill="#bbbbbb"/><rect x="513" y="130" fill="#bbbbbb"/><rect x="519" y="130" fill="#bcbcbc"/><rect x="525" y="130" fill="#bebebe"/><rect x="531" y="130" fill="#c3c3c3"/><rect x="537" y="130" fill="#c7c7c7"/><rect x="543" y="130" fill="#c9c9c9"/><rect x="549" y="130" fill="#c7c7c7"/><rect x="555" y="130" fill="#bebebe"/><rect x="561" y="130" fill="#b5b5b5"/><rect x="567" y="130" fill="#b1b1b1"/><rect x="573" y="130" fill="#afafaf"/><rect x="579" y="130" fill="#acacac"/><rect x="585" y="130" fill="#a9a9a9"/><rect x="591" y="130" fill="#a5a5a5"/><rect x="597" y="130" fill="#a3a3a3"/><rect x="603" y="130" fill="#a3a3a3"/><rect x="609" y="130" fill="#a3a3a3"/><rect x="615" y="130" fill="#a4a4a4"/><rect x="621" y="130" fill="#a3a3a3"/><rect x="627" y="130" fill="#a1a1a1"/><rect x="633" y="130" fill="#9d9d9d"/><rect x="639" y="130" fill="#979797"/><rect x="645" y="130" fill="#8e8e8e"/><rect x="651" y="130" fill="#878787"/><rect x="657" y="130" fill="#868686"/><rect x="663" y="130" fill="#959595"/><rect x="669" y="130" fill="#a5a5a5"/><rect x="675" y="130" fill="#a6a6a6"/><rect x="681" y="130" fill="#a3a3a3"/><rect x="687" y="130" fill="#a4a4a4"/><rect x="693" y="130" fill="#adadad"/><rect x="699" y="130" fill="#b4b4b4"/><rect x="705" y="130" fill="#b3b3b3"/><rect x="711" y="130" fill="#adadad"/><rect x="717" y="130" fill="#9f9f9f"/><rect x="723" y="130" fill="#868686"/><rect x="729" y="130" fill="#616161"/><rect x="735" y="130" fill="#505050"/><rect x="741" y="130" fill="#4e4e4e"/><rect x="747" y="130" fill="#4f4f4f"/><rect x="507" y="136" fill="#bbbbbb"/><rect x="513" y="136" fill="#bbbbbb"/><rect x="519" y="136" fill="#bdbdbd"/><rect x="525" y="136" fill="#bfbfbf"/><rect x="531" y="136" fill="#c2c2c2"/><rect x="537" y="136" fill="#c6c6c6"/><rect x="543" y="136" fill="#c8c8c8"/><rect x="549" y="136" fill="#c6c6c6"/><rect x="555" y="136" fill="#bababa"/><rect x="561" y="136" fill="#afafaf"/><rect x="567" y="136" fill="#ababab"/><rect x="573" y="136" fill="#a9a9a9"/><rect x="579" y="136" fill="#a5a5a5"/><rect x="585" y="136" fill="#a0a0a0"/><rect x="591" y="136" fill="#9c9c9c"/><rect x="597" y="136" fill="#9a9a9a"/><rect x="603" y="136" fill="#979797"/><rect x="609" y="136" fill="#969696"/><rect x="615" y="136" fill="#979797"/><rect x="621" y="136" fill="#979797"/><rect x="627" y="136" fill="#989898"/><rect x="633" y="136" fill="#989898"/><rect x="639" y="136" fill="#8c8c8c"/><rect x="645" y="136" fill="#7a7a7a"/><rect x="651" y="136" fill="#6e6e6e"/><rect x="657" y="136" fill="#6c6c6c"/><rect x="663" y="136" fill="#7e7e7e"/><rect x="669" y="136" fill="#969696"/><rect x="675" y="136" fill="#989898"/><rect x="681" y="136" fill="#969696"/><rect x="687" y="136" fill="#9a9a9a"/><rect x="693" y="136" fill="#a3a3a3"/><rect x="699" y="136" fill="#adadad"/><rect x="705" y="136" fill="#adadad"/><rect x="711" y="136" fill="#a6a6a6"/><rect x="717" y="136" fill="#979797"/><rect x="723" y="136" fill="#7b7b7b"/><rect x="729" y="136" fill="#5c5c5c"/><rect x="735" y="136" fill="#4f4f4f"/><rect x="741" y="136" fill="#4e4e4e"/><rect x="747" y="136" fill="#4e4e4e"/><rect x="513" y="142" fill="#bcbcbc"/><rect x="519" y="142" fill="#bebebe"/><rect x="525" y="142" fill="#bfbfbf"/><rect x="531" y="142" fill="#c1c1c1"/><rect x="537" y="142" fill="#c4c4c4"/><rect x="543" y="142" fill="#c6c6c6"/><rect x="549" y="142" fill="#c3c3c3"/><rect x="555" y="142" fill="#b0b0b0"/><rect x="561" y="142" fill="#a4a4a4"/><rect x="567" y="142" fill="#a3a3a3"/><rect x="573" y="142" fill="#a3a3a3"/><rect x="579" y="142" fill="#9e9e9e"/><rect x="585" y="142" fill="#969696"/><rect x="591" y="142" fill="#919191"/><rect x="597" y="142" fill="#919191"/><rect x="603" y="142" fill="#8e8e8e"/><rect x="609" y="142" fill="#888888"/><rect x="615" y="142" fill="#848484"/><rect x="621" y="142" fill="#858585"/><rect x="627" y="142" fill="#8b8b8b"/><rect x="633" y="142" fill="#8f8f8f"/><rect x="639" y="142" fill="#7a7a7a"/><rect x="645" y="142" fill="#5e5e5e"/><rect x="651" y="142" fill="#575757"/><rect x="657" y="142" fill="#565656"/><rect x="663" y="142" fill="#616161"/><rect x="669" y="142" fill="#787878"/><rect x="675" y="142" fill="#808080"/><rect x="681" y="142" fill="#828282"/><rect x="687" y="142" fill="#848484"/><rect x="693" y="142" fill="#8b8b8b"/><rect x="699" y="142" fill="#999999"/><rect x="705" y="142" fill="#a0a0a0"/><rect x="711" y="142" fill="#9c9c9c"/><rect x="717" y="142" fill="#8a8a8a"/><rect x="723" y="142" fill="#6d6d6d"/><rect x="729" y="142" fill="#565656"/><rect x="735" y="142" fill="#4e4e4e"/><rect x="741" y="142" fill="#4d4d4d"/><rect x="747" y="142" fill="#4e4e4e"/><rect x="513" y="148" fill="#b8b8b8"/><rect x="519" y="148" fill="#bababa"/><rect x="525" y="148" fill="#bcbcbc"/><rect x="531" y="148" fill="#bebebe"/><rect x="537" y="148" fill="#c1c1c1"/><rect x="543" y="148" fill="#c3c3c3"/><rect x="549" y="148" fill="#b9b9b9"/><rect x="555" y="148" fill="#999999"/><rect x="561" y="148" fill="#8f8f8f"/><rect x="567" y="148" fill="#919191"/><rect x="573" y="148" fill="#909090"/><rect x="579" y="148" fill="#868686"/><rect x="585" y="148" fill="#767676"/><rect x="591" y="148" fill="#6e6e6e"/><rect x="597" y="148" fill="#737373"/><rect x="603" y="148" fill="#7d7d7d"/><rect x="609" y="148" fill="#7b7b7b"/><rect x="615" y="148" fill="#727272"/><rect x="621" y="148" fill="#727272"/><rect x="627" y="148" fill="#7c7c7c"/><rect x="633" y="148" fill="#828282"/><rect x="639" y="148" fill="#707070"/><rect x="645" y="148" fill="#545454"/><rect x="651" y="148" fill="#4e4e4e"/><rect x="657" y="148" fill="#4f4f4f"/><rect x="663" y="148" fill="#545454"/><rect x="669" y="148" fill="#5f5f5f"/><rect x="675" y="148" fill="#696969"/><rect x="681" y="148" fill="#6d6d6d"/><rect x="687" y="148" fill="#6b6b6b"/><rect x="693" y="148" fill="#6b6b6b"/><rect x="699" y="148" fill="#797979"/><rect x="705" y="148" fill="#8b8b8b"/><rect x="711" y="148" fill="#8b8b8b"/><rect x="717" y="148" fill="#727272"/><rect x="723" y="148" fill="#5a5a5a"/><rect x="729" y="148" fill="#4e4e4e"/><rect x="735" y="148" fill="#4b4b4b"/><rect x="741" y="148" fill="#4c4c4c"/><rect x="747" y="148" fill="#4d4d4d"/><rect x="513" y="154" fill="#b4b4b4"/><rect x="519" y="154" fill="#b5b5b5"/><rect x="525" y="154" fill="#b7b7b7"/><rect x="531" y="154" fill="#bababa"/><rect x="537" y="154" fill="#bdbdbd"/><rect x="543" y="154" fill="#bdbdbd"/><rect x="549" y="154" fill="#aaaaaa"/><rect x="555" y="154" fill="#858585"/><rect x="561" y="154" fill="#7d7d7d"/><rect x="567" y="154" fill="#787878"/><rect x="573" y="154" fill="#6f6f6f"/><rect x="579" y="154" fill="#616161"/><rect x="585" y="154" fill="#555555"/><rect x="591" y="154" fill="#505050"/><rect x="597" y="154" fill="#515151"/><rect x="603" y="154" fill="#5d5d5d"/><rect x="609" y="154" fill="#696969"/><rect x="615" y="154" fill="#666666"/><rect x="621" y="154" fill="#696969"/><rect x="627" y="154" fill="#767676"/><rect x="633" y="154" fill="#7e7e7e"/><rect x="639" y="154" fill="#757575"/><rect x="645" y="154" fill="#5a5a5a"/><rect x="651" y="154" fill="#4c4c4c"/><rect x="657" y="154" fill="#4c4c4c"/><rect x="663" y="154" fill="#4f4f4f"/><rect x="669" y="154" fill="#535353"/><rect x="675" y="154" fill="#585858"/><rect x="681" y="154" fill="#5c5c5c"/><rect x="687" y="154" fill="#595959"/><rect x="693" y="154" fill="#545454"/><rect x="699" y="154" fill="#5a5a5a"/><rect x="705" y="154" fill="#6a6a6a"/><rect x="711" y="154" fill="#696969"/><rect x="717" y="154" fill="#555555"/><rect x="723" y="154" fill="#4b4b4b"/><rect x="729" y="154" fill="#484848"/><rect x="735" y="154" fill="#484848"/><rect x="741" y="154" fill="#4a4a4a"/><rect x="747" y="154" fill="#4c4c4c"/><rect x="513" y="160" fill="#b4b4b4"/><rect x="519" y="160" fill="#b4b4b4"/><rect x="525" y="160" fill="#b5b5b5"/><rect x="531" y="160" fill="#b7b7b7"/><rect x="537" y="160" fill="#b8b8b8"/><rect x="543" y="160" fill="#b7b7b7"/><rect x="549" y="160" fill="#9e9e9e"/><rect x="555" y="160" fill="#7e7e7e"/><rect x="561" y="160" fill="#747474"/><rect x="567" y="160" fill="#6a6a6a"/><rect x="573" y="160" fill="#616161"/><rect x="579" y="160" fill="#575757"/><rect x="585" y="160" fill="#4e4e4e"/><rect x="591" y="160" fill="#494949"/><rect x="597" y="160" fill="#474747"/><rect x="603" y="160" fill="#4a4a4a"/><rect x="609" y="160" fill="#555555"/><rect x="615" y="160" fill="#636363"/><rect x="621" y="160" fill="#6d6d6d"/><rect x="627" y="160" fill="#797979"/><rect x="633" y="160" fill="#838383"/><rect x="639" y="160" fill="#818181"/><rect x="645" y="160" fill="#6b6b6b"/><rect x="651" y="160" fill="#535353"/><rect x="657" y="160" fill="#4b4b4b"/><rect x="663" y="160" fill="#4c4c4c"/><rect x="669" y="160" fill="#4d4d4d"/><rect x="675" y="160" fill="#4c4c4c"/><rect x="681" y="160" fill="#4d4d4d"/><rect x="687" y="160" fill="#4b4b4b"/><rect x="693" y="160" fill="#474747"/><rect x="699" y="160" fill="#464646"/><rect x="705" y="160" fill="#4a4a4a"/><rect x="711" y="160" fill="#4a4a4a"/><rect x="717" y="160" fill="#464646"/><rect x="723" y="160" fill="#454545"/><rect x="729" y="160" fill="#454545"/><rect x="735" y="160" fill="#454545"/><rect x="741" y="160" fill="#464646"/><rect x="513" y="166" fill="#b4b4b4"/><rect x="519" y="166" fill="#b3b3b3"/><rect x="525" y="166" fill="#b3b3b3"/><rect x="531" y="166" fill="#b1b1b1"/><rect x="537" y="166" fill="#afafaf"/><rect x="543" y="166" fill="#aaaaaa"/><rect x="549" y="166" fill="#969696"/><rect x="555" y="166" fill="#828282"/><rect x="561" y="166" fill="#767676"/><rect x="567" y="166" fill="#676767"/><rect x="573" y="166" fill="#5f5f5f"/><rect x="579" y="166" fill="#5d5d5d"/><rect x="585" y="166" fill="#5d5d5d"/><rect x="591" y="166" fill="#595959"/><rect x="597" y="166" fill="#525252"/><rect x="603" y="166" fill="#515151"/><rect x="609" y="166" fill="#5e5e5e"/><rect x="615" y="166" fill="#6c6c6c"/><rect x="621" y="166" fill="#717171"/><rect x="627" y="166" fill="#787878"/><rect x="633" y="166" fill="#848484"/><rect x="639" y="166" fill="#8b8b8b"/><rect x="645" y="166" fill="#7f7f7f"/><rect x="651" y="166" fill="#656565"/><rect x="657" y="166" fill="#555555"/><rect x="663" y="166" fill="#4f4f4f"/><rect x="669" y="166" fill="#4b4b4b"/><rect x="675" y="166" fill="#474747"/><rect x="681" y="166" fill="#464646"/><rect x="687" y="166" fill="#454545"/><rect x="693" y="166" fill="#434343"/><rect x="699" y="166" fill="#404040"/><rect x="705" y="166" fill="#404040"/><rect x="711" y="166" fill="#414141"/><rect x="717" y="166" fill="#424242"/><rect x="723" y="166" fill="#434343"/><rect x="729" y="166" fill="#434343"/><rect x="735" y="166" fill="#434343"/><rect x="513" y="172" fill="#b3b3b3"/><rect x="519" y="172" fill="#b3b3b3"/><rect x="525" y="172" fill="#b0b0b0"/><rect x="531" y="172" fill="#aaaaaa"/><rect x="537" y="172" fill="#a6a6a6"/><rect x="543" y="172" fill="#a1a1a1"/><rect x="549" y="172" fill="#929292"/><rect x="555" y="172" fill="#898989"/><rect x="561" y="172" fill="#838383"/><rect x="567" y="172" fill="#787878"/><rect x="573" y="172" fill="#717171"/><rect x="579" y="172" fill="#797979"/><rect x="585" y="172" fill="#8c8c8c"/><rect x="591" y="172" fill="#898989"/><rect x="597" y="172" fill="#7d7d7d"/><rect x="603" y="172" fill="#777777"/><rect x="609" y="172" fill="#787878"/><rect x="615" y="172" fill="#727272"/><rect x="621" y="172" fill="#707070"/><rect x="627" y="172" fill="#747474"/><rect x="633" y="172" fill="#7d7d7d"/><rect x="639" y="172" fill="#868686"/><rect x="645" y="172" fill="#888888"/><rect x="651" y="172" fill="#888888"/><rect x="657" y="172" fill="#828282"/><rect x="663" y="172" fill="#6f6f6f"/><rect x="669" y="172" fill="#5b5b5b"/><rect x="675" y="172" fill="#4d4d4d"/><rect x="681" y="172" fill="#484848"/><rect x="687" y="172" fill="#484848"/><rect x="693" y="172" fill="#464646"/><rect x="699" y="172" fill="#434343"/><rect x="705" y="172" fill="#404040"/><rect x="711" y="172" fill="#3f3f3f"/><rect x="717" y="172" fill="#414141"/><rect x="723" y="172" fill="#424242"/><rect x="513" y="178" fill="#b3b3b3"/><rect x="519" y="178" fill="#b2b2b2"/><rect x="525" y="178" fill="#aeaeae"/><rect x="531" y="178" fill="#a7a7a7"/><rect x="537" y="178" fill="#a3a3a3"/><rect x="543" y="178" fill="#9f9f9f"/><rect x="549" y="178" fill="#909090"/><rect x="555" y="178" fill="#8a8a8a"/><rect x="561" y="178" fill="#898989"/><rect x="567" y="178" fill="#8a8a8a"/><rect x="573" y="178" fill="#8b8b8b"/><rect x="579" y="178" fill="#929292"/><rect x="585" y="178" fill="#9d9d9d"/><rect x="591" y="178" fill="#9d9d9d"/><rect x="597" y="178" fill="#959595"/><rect x="603" y="178" fill="#8c8c8c"/><rect x="609" y="178" fill="#848484"/><rect x="615" y="178" fill="#777777"/><rect x="621" y="178" fill="#6f6f6f"/><rect x="627" y="178" fill="#6f6f6f"/><rect x="633" y="178" fill="#747474"/><rect x="639" y="178" fill="#797979"/><rect x="645" y="178" fill="#818181"/><rect x="651" y="178" fill="#969696"/><rect x="657" y="178" fill="#9f9f9f"/><rect x="663" y="178" fill="#9c9c9c"/><rect x="669" y="178" fill="#8f8f8f"/><rect x="675" y="178" fill="#717171"/><rect x="681" y="178" fill="#545454"/><rect x="687" y="178" fill="#4c4c4c"/><rect x="693" y="178" fill="#494949"/><rect x="699" y="178" fill="#464646"/><rect x="705" y="178" fill="#424242"/><rect x="711" y="178" fill="#3f3f3f"/><rect x="717" y="178" fill="#3f3f3f"/><rect x="513" y="184" fill="#b2b2b2"/><rect x="519" y="184" fill="#b0b0b0"/><rect x="525" y="184" fill="#aaaaaa"/><rect x="531" y="184" fill="#a2a2a2"/><rect x="537" y="184" fill="#9e9e9e"/><rect x="543" y="184" fill="#9a9a9a"/><rect x="549" y="184" fill="#8a8a8a"/><rect x="555" y="184" fill="#868686"/><rect x="561" y="184" fill="#8a8a8a"/><rect x="567" y="184" fill="#8e8e8e"/><rect x="573" y="184" fill="#8f8f8f"/><rect x="579" y="184" fill="#929292"/><rect x="585" y="184" fill="#989898"/><rect x="591" y="184" fill="#959595"/><rect x="597" y="184" fill="#8b8b8b"/><rect x="603" y="184" fill="#868686"/><rect x="609" y="184" fill="#848484"/><rect x="615" y="184" fill="#787878"/><rect x="621" y="184" fill="#6b6b6b"/><rect x="627" y="184" fill="#696969"/><rect x="633" y="184" fill="#6b6b6b"/><rect x="639" y="184" fill="#6b6b6b"/><rect x="645" y="184" fill="#737373"/><rect x="651" y="184" fill="#8e8e8e"/><rect x="657" y="184" fill="#9f9f9f"/><rect x="663" y="184" fill="#a4a4a4"/><rect x="669" y="184" fill="#a1a1a1"/><rect x="675" y="184" fill="#858585"/><rect x="681" y="184" fill="#5b5b5b"/><rect x="687" y="184" fill="#4e4e4e"/><rect x="693" y="184" fill="#4b4b4b"/><rect x="699" y="184" fill="#494949"/><rect x="705" y="184" fill="#464646"/><rect x="507" y="190" fill="#ababab"/><rect x="513" y="190" fill="#adadad"/><rect x="519" y="190" fill="#ababab"/><rect x="525" y="190" fill="#a2a2a2"/><rect x="531" y="190" fill="#9a9a9a"/><rect x="537" y="190" fill="#959595"/><rect x="543" y="190" fill="#828282"/><rect x="549" y="190" fill="#606060"/><rect x="555" y="190" fill="#626262"/><rect x="561" y="190" fill="#797979"/><rect x="567" y="190" fill="#898989"/><rect x="573" y="190" fill="#8a8a8a"/><rect x="579" y="190" fill="#828282"/><rect x="585" y="190" fill="#717171"/><rect x="591" y="190" fill="#6e6e6e"/><rect x="597" y="190" fill="#717171"/><rect x="603" y="190" fill="#757575"/><rect x="609" y="190" fill="#787878"/><rect x="615" y="190" fill="#6d6d6d"/><rect x="621" y="190" fill="#5e5e5e"/><rect x="627" y="190" fill="#5a5a5a"/><rect x="633" y="190" fill="#5b5b5b"/><rect x="639" y="190" fill="#5d5d5d"/><rect x="645" y="190" fill="#616161"/><rect x="651" y="190" fill="#7a7a7a"/><rect x="657" y="190" fill="#979797"/><rect x="663" y="190" fill="#a0a0a0"/><rect x="669" y="190" fill="#9c9c9c"/><rect x="675" y="190" fill="#7e7e7e"/><rect x="681" y="190" fill="#575757"/><rect x="687" y="190" fill="#4c4c4c"/><rect x="693" y="190" fill="#4b4b4b"/><rect x="699" y="190" fill="#4b4b4b"/><rect x="705" y="190" fill="#494949"/><rect x="753" y="190" fill="#454545"/><rect x="759" y="190" fill="#454545"/><rect x="765" y="190" fill="#454545"/><rect x="771" y="190" fill="#454545"/><rect x="507" y="196" fill="#a2a2a2"/><rect x="513" y="196" fill="#a0a0a0"/><rect x="519" y="196" fill="#979797"/><rect x="525" y="196" fill="#8a8a8a"/><rect x="531" y="196" fill="#828282"/><rect x="537" y="196" fill="#787878"/><rect x="543" y="196" fill="#5a5a5a"/><rect x="549" y="196" fill="#424242"/><rect x="555" y="196" fill="#404040"/><rect x="561" y="196" fill="#4b4b4b"/><rect x="567" y="196" fill="#616161"/><rect x="573" y="196" fill="#656565"/><rect x="579" y="196" fill="#525252"/><rect x="585" y="196" fill="#424242"/><rect x="591" y="196" fill="#454545"/><rect x="597" y="196" fill="#545454"/><rect x="603" y="196" fill="#5f5f5f"/><rect x="609" y="196" fill="#606060"/><rect x="615" y="196" fill="#535353"/><rect x="621" y="196" fill="#494949"/><rect x="627" y="196" fill="#484848"/><rect x="633" y="196" fill="#4c4c4c"/><rect x="639" y="196" fill="#525252"/><rect x="645" y="196" fill="#545454"/><rect x="651" y="196" fill="#656565"/><rect x="657" y="196" fill="#868686"/><rect x="663" y="196" fill="#929292"/><rect x="669" y="196" fill="#8c8c8c"/><rect x="675" y="196" fill="#6c6c6c"/><rect x="681" y="196" fill="#505050"/><rect x="687" y="196" fill="#494949"/><rect x="693" y="196" fill="#494949"/><rect x="699" y="196" fill="#4a4a4a"/><rect x="735" y="196" fill="#454545"/><rect x="741" y="196" fill="#454545"/><rect x="747" y="196" fill="#454545"/><rect x="753" y="196" fill="#454545"/><rect x="759" y="196" fill="#454545"/><rect x="765" y="196" fill="#454545"/><rect x="771" y="196" fill="#454545"/><rect x="501" y="202" fill="#9f9f9f"/><rect x="507" y="202" fill="#9d9d9d"/><rect x="513" y="202" fill="#929292"/><rect x="519" y="202" fill="#7e7e7e"/><rect x="525" y="202" fill="#6d6d6d"/><rect x="531" y="202" fill="#626262"/><rect x="537" y="202" fill="#595959"/><rect x="543" y="202" fill="#494949"/><rect x="549" y="202" fill="#3e3e3e"/><rect x="555" y="202" fill="#3c3c3c"/><rect x="561" y="202" fill="#3d3d3d"/><rect x="567" y="202" fill="#3f3f3f"/><rect x="573" y="202" fill="#414141"/><rect x="579" y="202" fill="#3e3e3e"/><rect x="585" y="202" fill="#393939"/><rect x="591" y="202" fill="#393939"/><rect x="597" y="202" fill="#414141"/><rect x="603" y="202" fill="#4a4a4a"/><rect x="609" y="202" fill="#484848"/><rect x="615" y="202" fill="#3f3f3f"/><rect x="621" y="202" fill="#3b3b3b"/><rect x="627" y="202" fill="#3c3c3c"/><rect x="633" y="202" fill="#414141"/><rect x="639" y="202" fill="#494949"/><rect x="645" y="202" fill="#4c4c4c"/><rect x="651" y="202" fill="#555555"/><rect x="657" y="202" fill="#6c6c6c"/><rect x="663" y="202" fill="#727272"/><rect x="669" y="202" fill="#686868"/><rect x="675" y="202" fill="#585858"/><rect x="681" y="202" fill="#4a4a4a"/><rect x="687" y="202" fill="#474747"/><rect x="693" y="202" fill="#474747"/><rect x="729" y="202" fill="#454545"/><rect x="735" y="202" fill="#454545"/><rect x="741" y="202" fill="#454545"/><rect x="747" y="202" fill="#454545"/><rect x="753" y="202" fill="#454545"/><rect x="759" y="202" fill="#454545"/><rect x="765" y="202" fill="#454545"/><rect x="771" y="202" fill="#454545"/><rect x="777" y="202" fill="#454545"/><rect x="501" y="208" fill="#9e9e9e"/><rect x="507" y="208" fill="#989898"/><rect x="513" y="208" fill="#898989"/><rect x="519" y="208" fill="#757575"/><rect x="525" y="208" fill="#666666"/><rect x="531" y="208" fill="#5a5a5a"/><rect x="537" y="208" fill="#525252"/><rect x="543" y="208" fill="#484848"/><rect x="549" y="208" fill="#3e3e3e"/><rect x="555" y="208" fill="#3b3b3b"/><rect x="561" y="208" fill="#3b3b3b"/><rect x="567" y="208" fill="#3c3c3c"/><rect x="573" y="208" fill="#3d3d3d"/><rect x="579" y="208" fill="#3d3d3d"/><rect x="585" y="208" fill="#3a3a3a"/><rect x="591" y="208" fill="#383838"/><rect x="597" y="208" fill="#3c3c3c"/><rect x="603" y="208" fill="#424242"/><rect x="609" y="208" fill="#3f3f3f"/><rect x="615" y="208" fill="#383838"/><rect x="621" y="208" fill="#343434"/><rect x="627" y="208" fill="#333333"/><rect x="633" y="208" fill="#363636"/><rect x="639" y="208" fill="#3f3f3f"/><rect x="645" y="208" fill="#434343"/><rect x="651" y="208" fill="#484848"/><rect x="657" y="208" fill="#535353"/><rect x="663" y="208" fill="#535353"/><rect x="669" y="208" fill="#4d4d4d"/><rect x="675" y="208" fill="#484848"/><rect x="681" y="208" fill="#454545"/><rect x="687" y="208" fill="#444444"/><rect x="693" y="208" fill="#454545"/><rect x="723" y="208" fill="#454545"/><rect x="729" y="208" fill="#454545"/><rect x="735" y="208" fill="#454545"/><rect x="741" y="208" fill="#454545"/><rect x="747" y="208" fill="#454545"/><rect x="753" y="208" fill="#454545"/><rect x="759" y="208" fill="#454545"/><rect x="765" y="208" fill="#454545"/><rect x="771" y="208" fill="#454545"/><rect x="495" y="214" fill="#9f9f9f"/><rect x="501" y="214" fill="#9d9d9d"/><rect x="507" y="214" fill="#969696"/><rect x="513" y="214" fill="#878787"/><rect x="519" y="214" fill="#777777"/><rect x="525" y="214" fill="#686868"/><rect x="531" y="214" fill="#5a5a5a"/><rect x="537" y="214" fill="#525252"/><rect x="543" y="214" fill="#4b4b4b"/><rect x="549" y="214" fill="#3f3f3f"/><rect x="555" y="214" fill="#3b3b3b"/><rect x="561" y="214" fill="#3b3b3b"/><rect x="567" y="214" fill="#3c3c3c"/><rect x="573" y="214" fill="#3c3c3c"/><rect x="579" y="214" fill="#3d3d3d"/><rect x="585" y="214" fill="#3b3b3b"/><rect x="591" y="214" fill="#393939"/><rect x="597" y="214" fill="#3c3c3c"/><rect x="603" y="214" fill="#404040"/><rect x="609" y="214" fill="#3b3b3b"/><rect x="615" y="214" fill="#343434"/><rect x="621" y="214" fill="#313131"/><rect x="627" y="214" fill="#313131"/><rect x="633" y="214" fill="#313131"/><rect x="639" y="214" fill="#343434"/><rect x="645" y="214" fill="#363636"/><rect x="651" y="214" fill="#383838"/><rect x="657" y="214" fill="#414141"/><rect x="663" y="214" fill="#464646"/><rect x="669" y="214" fill="#454545"/><rect x="675" y="214" fill="#424242"/><rect x="681" y="214" fill="#404040"/><rect x="687" y="214" fill="#3f3f3f"/><rect x="711" y="214" fill="#454545"/><rect x="717" y="214" fill="#454545"/><rect x="723" y="214" fill="#454545"/><rect x="729" y="214" fill="#454545"/><rect x="735" y="214" fill="#454545"/><rect x="741" y="214" fill="#454545"/><rect x="747" y="214" fill="#454545"/><rect x="753" y="214" fill="#454545"/><rect x="495" y="220" fill="#9f9f9f"/><rect x="501" y="220" fill="#9d9d9d"/><rect x="507" y="220" fill="#969696"/><rect x="513" y="220" fill="#8a8a8a"/><rect x="519" y="220" fill="#7c7c7c"/><rect x="525" y="220" fill="#6b6b6b"/><rect x="531" y="220" fill="#5b5b5b"/><rect x="537" y="220" fill="#555555"/><rect x="543" y="220" fill="#4b4b4b"/><rect x="549" y="220" fill="#3c3c3c"/><rect x="555" y="220" fill="#3a3a3a"/><rect x="561" y="220" fill="#3e3e3e"/><rect x="567" y="220" fill="#404040"/><rect x="573" y="220" fill="#3d3d3d"/><rect x="579" y="220" fill="#383838"/><rect x="585" y="220" fill="#363636"/><rect x="591" y="220" fill="#363636"/><rect x="597" y="220" fill="#3c3c3c"/><rect x="603" y="220" fill="#3e3e3e"/><rect x="609" y="220" fill="#383838"/><rect x="615" y="220" fill="#333333"/><rect x="621" y="220" fill="#313131"/><rect x="627" y="220" fill="#313131"/><rect x="633" y="220" fill="#323232"/><rect x="639" y="220" fill="#333333"/><rect x="645" y="220" fill="#333333"/><rect x="651" y="220" fill="#323232"/><rect x="657" y="220" fill="#353535"/><rect x="663" y="220" fill="#3e3e3e"/><rect x="669" y="220" fill="#404040"/><rect x="675" y="220" fill="#3f3f3f"/><rect x="681" y="220" fill="#3d3d3d"/><rect x="687" y="220" fill="#3c3c3c"/><rect x="705" y="220" fill="#454545"/><rect x="711" y="220" fill="#454545"/><rect x="717" y="220" fill="#454545"/><rect x="723" y="220" fill="#454545"/><rect x="729" y="220" fill="#454545"/><rect x="735" y="220" fill="#454545"/><rect x="741" y="220" fill="#454545"/><rect x="747" y="220" fill="#454545"/><rect x="753" y="220" fill="#454545"/><rect x="495" y="226" fill="#9f9f9f"/><rect x="501" y="226" fill="#9d9d9d"/><rect x="507" y="226" fill="#979797"/><rect x="513" y="226" fill="#8c8c8c"/><rect x="519" y="226" fill="#7c7c7c"/><rect x="525" y="226" fill="#676767"/><rect x="531" y="226" fill="#5a5a5a"/><rect x="537" y="226" fill="#545454"/><rect x="543" y="226" fill="#464646"/><rect x="549" y="226" fill="#3a3a3a"/><rect x="555" y="226" fill="#3b3b3b"/><rect x="561" y="226" fill="#494949"/><rect x="567" y="226" fill="#525252"/><rect x="573" y="226" fill="#444444"/><rect x="579" y="226" fill="#353535"/><rect x="585" y="226" fill="#313131"/><rect x="591" y="226" fill="#313131"/><rect x="597" y="226" fill="#333333"/><rect x="603" y="226" fill="#3a3a3a"/><rect x="609" y="226" fill="#363636"/><rect x="615" y="226" fill="#323232"/><rect x="621" y="226" fill="#323232"/><rect x="627" y="226" fill="#363636"/><rect x="633" y="226" fill="#393939"/><rect x="639" y="226" fill="#3b3b3b"/><rect x="645" y="226" fill="#393939"/><rect x="651" y="226" fill="#343434"/><rect x="657" y="226" fill="#323232"/><rect x="663" y="226" fill="#353535"/><rect x="669" y="226" fill="#3b3b3b"/><rect x="675" y="226" fill="#3b3b3b"/><rect x="681" y="226" fill="#3a3a3a"/><rect x="687" y="226" fill="#393939"/><rect x="693" y="226" fill="#383838"/><rect x="705" y="226" fill="#454545"/><rect x="711" y="226" fill="#454545"/><rect x="717" y="226" fill="#454545"/><rect x="723" y="226" fill="#454545"/><rect x="735" y="226" fill="#454545"/><rect x="741" y="226" fill="#454545"/><rect x="747" y="226" fill="#454545"/><rect x="495" y="232" fill="#a3a3a3"/><rect x="501" y="232" fill="#a1a1a1"/><rect x="507" y="232" fill="#9d9d9d"/><rect x="513" y="232" fill="#929292"/><rect x="519" y="232" fill="#7e7e7e"/><rect x="525" y="232" fill="#676767"/><rect x="531" y="232" fill="#5a5a5a"/><rect x="537" y="232" fill="#525252"/><rect x="543" y="232" fill="#424242"/><rect x="549" y="232" fill="#3a3a3a"/><rect x="555" y="232" fill="#3f3f3f"/><rect x="561" y="232" fill="#505050"/><rect x="567" y="232" fill="#5a5a5a"/><rect x="573" y="232" fill="#4c4c4c"/><rect x="579" y="232" fill="#383838"/><rect x="585" y="232" fill="#313131"/><rect x="591" y="232" fill="#303030"/><rect x="597" y="232" fill="#323232"/><rect x="603" y="232" fill="#3a3a3a"/><rect x="609" y="232" fill="#3c3c3c"/><rect x="615" y="232" fill="#3a3a3a"/><rect x="621" y="232" fill="#3c3c3c"/><rect x="627" y="232" fill="#424242"/><rect x="633" y="232" fill="#474747"/><rect x="639" y="232" fill="#494949"/><rect x="645" y="232" fill="#444444"/><rect x="651" y="232" fill="#393939"/><rect x="657" y="232" fill="#323232"/><rect x="663" y="232" fill="#313131"/><rect x="669" y="232" fill="#343434"/><rect x="675" y="232" fill="#353535"/><rect x="681" y="232" fill="#363636"/><rect x="687" y="232" fill="#373737"/><rect x="693" y="232" fill="#373737"/><rect x="699" y="232" fill="#3e3e3e"/><rect x="705" y="232" fill="#454545"/><rect x="711" y="232" fill="#454545"/><rect x="717" y="232" fill="#454545"/><rect x="723" y="232" fill="#454545"/><rect x="501" y="238" fill="#a6a6a6"/><rect x="507" y="238" fill="#a3a3a3"/><rect x="513" y="238" fill="#989898"/><rect x="519" y="238" fill="#838383"/><rect x="525" y="238" fill="#6d6d6d"/><rect x="531" y="238" fill="#5d5d5d"/><rect x="537" y="238" fill="#535353"/><rect x="543" y="238" fill="#474747"/><rect x="549" y="238" fill="#3f3f3f"/><rect x="555" y="238" fill="#454545"/><rect x="561" y="238" fill="#565656"/><rect x="567" y="238" fill="#5d5d5d"/><rect x="573" y="238" fill="#515151"/><rect x="579" y="238" fill="#3b3b3b"/><rect x="585" y="238" fill="#323232"/><rect x="591" y="238" fill="#303030"/><rect x="597" y="238" fill="#343434"/><rect x="603" y="238" fill="#3b3b3b"/><rect x="609" y="238" fill="#3d3d3d"/><rect x="615" y="238" fill="#3d3d3d"/><rect x="621" y="238" fill="#414141"/><rect x="627" y="238" fill="#505050"/><rect x="633" y="238" fill="#555555"/><rect x="639" y="238" fill="#555555"/><rect x="645" y="238" fill="#4c4c4c"/><rect x="651" y="238" fill="#3b3b3b"/><rect x="657" y="238" fill="#323232"/><rect x="663" y="238" fill="#303030"/><rect x="669" y="238" fill="#313131"/><rect x="675" y="238" fill="#323232"/><rect x="681" y="238" fill="#343434"/><rect x="687" y="238" fill="#353535"/><rect x="693" y="238" fill="#363636"/><rect x="711" y="238" fill="#454545"/><rect x="717" y="238" fill="#454545"/><rect x="723" y="238" fill="#454545"/><rect x="501" y="244" fill="#a6a6a6"/><rect x="507" y="244" fill="#a3a3a3"/><rect x="513" y="244" fill="#969696"/><rect x="519" y="244" fill="#818181"/><rect x="525" y="244" fill="#6e6e6e"/><rect x="531" y="244" fill="#5d5d5d"/><rect x="537" y="244" fill="#555555"/><rect x="543" y="244" fill="#565656"/><rect x="549" y="244" fill="#555555"/><rect x="555" y="244" fill="#525252"/><rect x="561" y="244" fill="#555555"/><rect x="567" y="244" fill="#565656"/><rect x="573" y="244" fill="#4d4d4d"/><rect x="579" y="244" fill="#393939"/><rect x="585" y="244" fill="#313131"/><rect x="591" y="244" fill="#303030"/><rect x="597" y="244" fill="#343434"/><rect x="603" y="244" fill="#3a3a3a"/><rect x="609" y="244" fill="#3c3c3c"/><rect x="615" y="244" fill="#3d3d3d"/><rect x="621" y="244" fill="#3f3f3f"/><rect x="627" y="244" fill="#515151"/><rect x="633" y="244" fill="#5c5c5c"/><rect x="639" y="244" fill="#575757"/><rect x="645" y="244" fill="#464646"/><rect x="651" y="244" fill="#373737"/><rect x="657" y="244" fill="#313131"/><rect x="663" y="244" fill="#303030"/><rect x="669" y="244" fill="#303030"/><rect x="675" y="244" fill="#313131"/><rect x="681" y="244" fill="#323232"/><rect x="687" y="244" fill="#343434"/><rect x="507" y="250" fill="#a0a0a0"/><rect x="513" y="250" fill="#939393"/><rect x="519" y="250" fill="#808080"/><rect x="525" y="250" fill="#6e6e6e"/><rect x="531" y="250" fill="#5e5e5e"/><rect x="537" y="250" fill="#595959"/><rect x="543" y="250" fill="#616161"/><rect x="549" y="250" fill="#666666"/><rect x="555" y="250" fill="#5f5f5f"/><rect x="561" y="250" fill="#4c4c4c"/><rect x="567" y="250" fill="#464646"/><rect x="573" y="250" fill="#414141"/><rect x="579" y="250" fill="#363636"/><rect x="585" y="250" fill="#313131"/><rect x="591" y="250" fill="#303030"/><rect x="597" y="250" fill="#333333"/><rect x="603" y="250" fill="#383838"/><rect x="609" y="250" fill="#3c3c3c"/><rect x="615" y="250" fill="#3e3e3e"/><rect x="621" y="250" fill="#404040"/><rect x="627" y="250" fill="#464646"/><rect x="633" y="250" fill="#525252"/><rect x="639" y="250" fill="#454545"/><rect x="645" y="250" fill="#373737"/><rect x="651" y="250" fill="#323232"/><rect x="657" y="250" fill="#303030"/><rect x="663" y="250" fill="#303030"/><rect x="669" y="250" fill="#303030"/><rect x="675" y="250" fill="#303030"/><rect x="681" y="250" fill="#313131"/><rect x="507" y="256" fill="#9d9d9d"/><rect x="513" y="256" fill="#939393"/><rect x="519" y="256" fill="#828282"/><rect x="525" y="256" fill="#737373"/><rect x="531" y="256" fill="#666666"/><rect x="537" y="256" fill="#616161"/><rect x="543" y="256" fill="#686868"/><rect x="549" y="256" fill="#6c6c6c"/><rect x="555" y="256" fill="#656565"/><rect x="561" y="256" fill="#4e4e4e"/><rect x="567" y="256" fill="#424242"/><rect x="573" y="256" fill="#3f3f3f"/><rect x="579" y="256" fill="#393939"/><rect x="585" y="256" fill="#323232"/><rect x="591" y="256" fill="#323232"/><rect x="597" y="256" fill="#333333"/><rect x="603" y="256" fill="#383838"/><rect x="609" y="256" fill="#3e3e3e"/><rect x="615" y="256" fill="#424242"/><rect x="621" y="256" fill="#484848"/><rect x="627" y="256" fill="#505050"/><rect x="633" y="256" fill="#525252"/><rect x="639" y="256" fill="#3d3d3d"/><rect x="645" y="256" fill="#333333"/><rect x="651" y="256" fill="#313131"/><rect x="657" y="256" fill="#303030"/><rect x="663" y="256" fill="#303030"/><rect x="669" y="256" fill="#303030"/><rect x="675" y="256" fill="#303030"/><rect x="681" y="256" fill="#303030"/><rect x="501" y="262" fill="#9f9f9f"/><rect x="507" y="262" fill="#9b9b9b"/><rect x="513" y="262" fill="#919191"/><rect x="519" y="262" fill="#838383"/><rect x="525" y="262" fill="#777777"/><rect x="531" y="262" fill="#6c6c6c"/><rect x="537" y="262" fill="#686868"/><rect x="543" y="262" fill="#6d6d6d"/><rect x="549" y="262" fill="#717171"/><rect x="555" y="262" fill="#6c6c6c"/><rect x="561" y="262" fill="#565656"/><rect x="567" y="262" fill="#444444"/><rect x="573" y="262" fill="#414141"/><rect x="579" y="262" fill="#414141"/><rect x="585" y="262" fill="#404040"/><rect x="591" y="262" fill="#3f3f3f"/><rect x="597" y="262" fill="#424242"/><rect x="603" y="262" fill="#494949"/><rect x="609" y="262" fill="#4c4c4c"/><rect x="615" y="262" fill="#525252"/><rect x="621" y="262" fill="#5e5e5e"/><rect x="627" y="262" fill="#696969"/><rect x="633" y="262" fill="#5f5f5f"/><rect x="639" y="262" fill="#494949"/><rect x="645" y="262" fill="#3c3c3c"/><rect x="651" y="262" fill="#353535"/><rect x="657" y="262" fill="#313131"/><rect x="663" y="262" fill="#303030"/><rect x="669" y="262" fill="#303030"/><rect x="675" y="262" fill="#303030"/><rect x="681" y="262" fill="#303030"/><rect x="501" y="268" fill="#9d9d9d"/><rect x="507" y="268" fill="#999999"/><rect x="513" y="268" fill="#919191"/><rect x="519" y="268" fill="#878787"/><rect x="525" y="268" fill="#797979"/><rect x="531" y="268" fill="#6c6c6c"/><rect x="537" y="268" fill="#686868"/><rect x="543" y="268" fill="#6e6e6e"/><rect x="549" y="268" fill="#737373"/><rect x="555" y="268" fill="#707070"/><rect x="561" y="268" fill="#5e5e5e"/><rect x="567" y="268" fill="#4d4d4d"/><rect x="573" y="268" fill="#484848"/><rect x="579" y="268" fill="#525252"/><rect x="585" y="268" fill="#656565"/><rect x="591" y="268" fill="#676767"/><rect x="597" y="268" fill="#676767"/><rect x="603" y="268" fill="#696969"/><rect x="609" y="268" fill="#686868"/><rect x="615" y="268" fill="#6d6d6d"/><rect x="621" y="268" fill="#797979"/><rect x="627" y="268" fill="#7a7a7a"/><rect x="633" y="268" fill="#666666"/><rect x="639" y="268" fill="#4e4e4e"/><rect x="645" y="268" fill="#444444"/><rect x="651" y="268" fill="#404040"/><rect x="657" y="268" fill="#3a3a3a"/><rect x="663" y="268" fill="#333333"/><rect x="669" y="268" fill="#303030"/><rect x="675" y="268" fill="#303030"/><rect x="501" y="274" fill="#9a9a9a"/><rect x="507" y="274" fill="#979797"/><rect x="513" y="274" fill="#939393"/><rect x="519" y="274" fill="#8c8c8c"/><rect x="525" y="274" fill="#7d7d7d"/><rect x="531" y="274" fill="#6d6d6d"/><rect x="537" y="274" fill="#676767"/><rect x="543" y="274" fill="#6d6d6d"/><rect x="549" y="274" fill="#737373"/><rect x="555" y="274" fill="#6f6f6f"/><rect x="561" y="274" fill="#666666"/><rect x="567" y="274" fill="#5e5e5e"/><rect x="573" y="274" fill="#5f5f5f"/><rect x="579" y="274" fill="#707070"/><rect x="585" y="274" fill="#7b7b7b"/><rect x="591" y="274" fill="#787878"/><rect x="597" y="274" fill="#747474"/><rect x="603" y="274" fill="#727272"/><rect x="609" y="274" fill="#707070"/><rect x="615" y="274" fill="#787878"/><rect x="621" y="274" fill="#838383"/><rect x="627" y="274" fill="#818181"/><rect x="633" y="274" fill="#6b6b6b"/><rect x="639" y="274" fill="#505050"/><rect x="645" y="274" fill="#454545"/><rect x="651" y="274" fill="#424242"/><rect x="657" y="274" fill="#414141"/><rect x="507" y="280" fill="#979797"/><rect x="513" y="280" fill="#959595"/><rect x="519" y="280" fill="#919191"/><rect x="525" y="280" fill="#828282"/><rect x="531" y="280" fill="#6e6e6e"/><rect x="537" y="280" fill="#676767"/><rect x="543" y="280" fill="#6b6b6b"/><rect x="549" y="280" fill="#707070"/><rect x="555" y="280" fill="#6d6d6d"/><rect x="561" y="280" fill="#6d6d6d"/><rect x="567" y="280" fill="#717171"/><rect x="573" y="280" fill="#7e7e7e"/><rect x="579" y="280" fill="#8a8a8a"/><rect x="585" y="280" fill="#868686"/><rect x="591" y="280" fill="#7d7d7d"/><rect x="597" y="280" fill="#767676"/><rect x="603" y="280" fill="#717171"/><rect x="609" y="280" fill="#6d6d6d"/><rect x="615" y="280" fill="#727272"/><rect x="621" y="280" fill="#818181"/><rect x="627" y="280" fill="#848484"/><rect x="633" y="280" fill="#6f6f6f"/><rect x="639" y="280" fill="#505050"/><rect x="645" y="280" fill="#444444"/><rect x="651" y="280" fill="#434343"/><rect x="657" y="280" fill="#424242"/><rect x="555" y="286" fill="#717171"/><rect x="561" y="286" fill="#767676"/><rect x="567" y="286" fill="#828282"/><rect x="573" y="286" fill="#909090"/><rect x="579" y="286" fill="#969696"/><rect x="585" y="286" fill="#909090"/><rect x="591" y="286" fill="#838383"/><rect x="597" y="286" fill="#777777"/><rect x="603" y="286" fill="#6f6f6f"/><rect x="609" y="286" fill="#6a6a6a"/><rect x="615" y="286" fill="#6c6c6c"/><rect x="621" y="286" fill="#797979"/><rect x="627" y="286" fill="#848484"/><rect x="633" y="286" fill="#727272"/><rect x="639" y="286" fill="#505050"/><rect x="645" y="286" fill="#444444"/><rect x="651" y="286" fill="#424242"/><rect x="555" y="292" fill="#7d7d7d"/><rect x="561" y="292" fill="#868686"/><rect x="567" y="292" fill="#8e8e8e"/><rect x="573" y="292" fill="#949494"/><rect x="579" y="292" fill="#999999"/><rect x="585" y="292" fill="#989898"/><rect x="591" y="292" fill="#8d8d8d"/><rect x="597" y="292" fill="#7a7a7a"/><rect x="603" y="292" fill="#6c6c6c"/><rect x="609" y="292" fill="#676767"/><rect x="615" y="292" fill="#686868"/><rect x="621" y="292" fill="#707070"/><rect x="627" y="292" fill="#808080"/><rect x="633" y="292" fill="#737373"/><rect x="639" y="292" fill="#4f4f4f"/><rect x="645" y="292" fill="#444444"/><rect x="561" y="298" fill="#8e8e8e"/><rect x="567" y="298" fill="#919191"/><rect x="573" y="298" fill="#939393"/><rect x="579" y="298" fill="#969696"/><rect x="585" y="298" fill="#999999"/><rect x="591" y="298" fill="#969696"/><rect x="567" y="304" fill="#909090"/><rect x="573" y="304" fill="#929292"/><rect x="579" y="304" fill="#949494"/><rect x="573" y="310" fill="#919191"/></g></g>
<path d="M256.0 114.9 L256.0 116.6 L254.4 117.7 L254.0 119.3 L253.8 120.9 L253.6 122.4 L252.8 123.6 L252.3 125.0 L251.7 126.3 L251.4 127.7 L251.1 129.2 L252.0 130.7 L252.0 132.1 L250.7 133.5 L251.1 135.0 L251.3 136.3 L250.9 137.7 L252.2 138.9 L251.7 140.3 L251.7 141.6 M232.6 138.3 L233.8 137.5 L235.4 138.1 L236.3 136.4 L237.9 136.8 L239.1 136.1 L240.6 135.3 L242.1 135.3 L243.8 136.2 L245.2 134.8 L246.8 135.0 L248.2 135.2 L249.7 134.9 L251.1 135.0 M251.7 141.6 L250.1 141.4 L249.1 143.1 L247.3 142.5 L246.2 143.8 L244.6 143.7 L243.5 145.9 L243.1 147.4 L244.8 148.5 L243.8 150.1 L244.6 151.4 L244.6 152.8 L244.6 154.2 L244.7 155.6 L245.7 156.8 M251.7 141.6 L252.5 143.0 L254.4 142.9 L255.7 143.6 L256.1 145.6 L257.7 145.9 L258.9 144.9 L260.2 144.3 L261.8 144.5 L263.1 143.7 L264.0 142.5 L265.7 142.0 L266.4 140.5 L268.5 140.5 M263.1 118.2 L263.6 119.7 L264.4 121.1 L264.3 122.8 L265.3 124.1 L266.4 125.3 L266.9 126.9 L267.9 128.1 L268.5 129.6 L268.9 130.9 L268.4 132.4 L269.9 133.5 L269.6 135.0 L269.4 136.4 L269.5 137.8 L269.0 139.2 L268.5 140.5 L267.8 142.2 L268.5 144.0 L267.7 145.6 L266.4 147.0 L267.0 148.5 L267.9 149.9 L268.5 151.4 L267.6 152.9 L267.4 154.6 M233.7 156.8 L235.0 156.0 L236.7 156.4 L238.0 155.8 L239.1 154.6 L240.2 155.6 L241.6 155.9 L242.9 156.5 L244.6 155.6 L245.7 156.8 M245.7 156.8 L247.2 156.6 L248.2 158.0 L249.8 157.6 L250.9 158.5 L252.2 159.0 L253.6 159.1 L255.0 159.1 L256.3 158.5 L257.7 158.4 L259.0 158.0 L260.2 156.9 L261.7 157.1 L263.1 156.8 L264.4 155.9 L266.2 155.8 L267.4 154.6 L268.8 155.0 L270.2 155.7 L271.8 155.7 L272.7 157.2 L273.8 158.5 L274.2 160.3 L274.4 161.8 L275.0 163.1 L276.2 164.0 L276.7 165.4 L277.9 166.4 L278.0 168.0 L277.1 169.3 L276.3 170.5 L275.4 171.8 L273.9 172.2 L272.8 173.2 L271.6 174.1 L270.3 174.7 L269.1 175.6 L268.6 177.0 L268.4 178.5 L267.7 179.7 L266.5 180.7 L265.9 182.1 L266.1 183.4 L267.0 184.7 L266.1 186.0 L266.8 187.3 L267.4 188.6 L266.9 190.0 L266.2 191.2 L266.5 192.6 L265.8 193.8 L266.0 195.2 L266.1 196.5 L265.3 197.8 L263.7 198.2 L264.1 199.9 L264.4 201.6 L265.3 203.1 L264.3 204.4 L264.7 206.0 L264.1 207.4 L263.7 208.8 L262.0 209.0 L260.6 210.3 L258.8 210.4 L257.1 210.2 L255.5 210.5 L253.9 211.2 L255.3 212.2 L255.4 214.0 L256.3 215.3 L257.3 216.4 L258.3 217.5 L258.6 219.1 L259.6 220.2 L259.9 221.7 L261.2 222.3 L262.5 222.9 L262.9 224.3 L262.6 225.9 L261.9 227.5 L262.0 229.2 L260.7 230.0 L260.3 231.4 L260.5 233.0 L258.6 233.5 L258.5 235.0 L257.9 236.4 L258.1 238.2 L257.5 239.6 L256.5 240.9 L257.8 242.1 L257.7 243.9 L258.7 245.2 L259.5 247.5 L258.3 249.0 L256.5 249.6 L255.4 250.7 L255.7 252.5 L254.5 253.5 L254.0 254.8 L253.3 256.1 L253.8 257.5 L253.7 258.8 L252.2 260.0 L252.0 261.3 L252.5 262.7 L253.2 264.1 L252.4 265.6 L252.1 267.1 L253.0 268.5 L252.9 270.0 L254.0 271.0 M269.6 135.0 L270.9 134.7 L272.1 134.1 L273.5 134.3 L274.7 133.4 L276.1 133.5 L277.6 133.9 L278.7 132.9 L280.0 132.2 L281.3 132.5 L282.6 133.0 L283.9 132.0 L285.2 132.1 L286.6 133.0 L287.9 133.2 L289.2 132.1 L290.5 131.9 L291.8 132.3 L293.4 132.6 L294.6 131.3 L296.2 131.4 L297.6 131.0 L299.1 130.7 L300.5 130.1 L302.0 130.3 L303.4 130.0 L304.6 129.2 L305.9 128.5 L307.3 128.0 L308.4 127.0 L309.2 125.8 M304.8 129.6 L305.5 131.2 L304.8 132.9 L304.1 134.2 L304.4 135.9 L303.2 136.9 L302.7 138.3 L302.0 139.8 L303.0 141.2 L302.7 142.7 L301.8 144.1 L302.1 145.7 L301.5 147.2 L302.5 148.9 L301.6 150.3 M268.5 151.4 L270.0 151.6 L271.6 152.0 L273.1 151.9 L274.6 152.8 L276.2 152.4 L277.7 151.9 L279.0 153.5 L280.5 153.3 L281.9 153.6 L283.4 153.8 L284.9 153.5 L286.5 153.3 L287.9 154.4 L289.4 154.4 L291.1 153.9 L292.5 154.6 L294.1 153.9 L294.8 152.4 L296.1 151.4 L297.5 151.5 L298.7 150.2 L300.3 150.8 L301.6 150.3 M296.1 151.4 L296.0 152.9 L295.2 154.2 L295.0 155.7 L295.9 156.9 L294.7 158.4 L295.2 159.7 L295.1 161.0 L296.1 162.2 L296.3 163.5 L296.2 164.9 L296.2 166.2 L295.8 167.5 L295.9 168.8 L295.0 170.0 L294.6 171.4 L295.0 172.8 L294.2 174.1 L294.2 175.5 L294.5 176.9 M275.4 171.8 L276.6 172.6 L278.1 171.8 L279.1 173.4 L280.4 173.4 L281.9 173.0 L283.1 173.6 L284.5 173.3 L285.6 174.3 L287.0 174.2 L288.1 175.3 L289.3 175.8 L290.8 175.3 L291.9 176.4 L293.3 176.4 L294.5 176.9 L295.7 177.4 L296.9 178.2 L298.3 178.1 M301.6 150.3 L302.3 151.6 L302.0 153.0 L303.0 154.2 L302.7 155.7 L303.4 157.1 L305.2 157.1 L306.0 158.3 L306.8 159.5 L308.1 160.1 L309.5 160.9 L311.1 160.7 L312.6 161.0 L314.2 161.0 L315.7 161.2 L316.9 160.4 L316.8 158.8 L317.9 157.9 M305.9 132.9 L307.3 133.1 L308.6 133.5 L310.0 133.8 L311.4 134.0 L312.4 135.0 L313.3 136.1 L314.2 137.1 L315.6 137.6 L316.8 138.3 L318.5 138.0 L319.8 136.9 L321.2 136.1 L322.3 135.2 L323.7 134.8 L324.9 134.1 L325.6 132.7 L326.6 131.8 L327.8 130.8 L328.3 129.1 L330.3 128.9 L331.0 127.4 L331.7 126.3 L332.0 125.0 M316.8 138.3 L315.7 139.4 L315.3 140.8 L315.0 142.3 L314.5 143.6 L313.5 144.8 L314.1 146.1 L313.6 147.5 L314.5 148.7 L314.6 150.1 L314.6 151.4 L315.0 152.8 L315.9 154.0 L316.0 155.6 L317.3 156.6 L317.9 157.9 L318.2 159.2 L318.2 160.5 L319.0 161.7 L318.2 163.2 L319.0 164.4 L319.7 165.5 L320.3 166.7 L320.4 168.1 L321.2 169.2 M321.2 169.2 L322.6 168.9 L324.0 168.5 L324.7 166.7 L326.3 166.7 L327.8 166.4 L328.7 165.4 L329.0 163.6 L330.8 163.7 L331.8 162.8 L332.6 161.6 L333.2 160.0 L335.1 159.5 L335.3 157.7 L336.4 156.5 L337.5 155.7 M298.3 178.1 L299.7 177.2 L301.4 178.2 L302.9 177.7 L304.3 176.4 L305.9 176.9 L306.9 176.0 L307.5 174.7 L309.2 174.4 L309.7 173.0 L311.2 172.7 L312.1 171.3 L313.6 171.0 L314.8 170.1 L315.9 169.1 L317.3 168.6 L318.6 168.0 L320.0 168.5 L321.2 169.2 M298.3 178.1 L298.0 179.4 L298.2 180.8 L296.9 181.8 L297.1 183.2 L297.0 184.5 L296.1 185.7 L294.9 186.7 L295.2 188.6 L293.6 189.3 L293.2 190.8 L290.9 191.5 L290.1 192.9 L289.0 194.0 L287.8 195.0 L286.5 195.9 L288.0 195.3 L289.0 194.1 M264.5 197.3 L266.0 196.2 L267.8 196.5 L269.2 196.0 L270.4 195.3 L271.4 194.0 L272.7 193.3 L274.3 193.3 L275.8 193.6 L277.0 192.6 L278.4 192.4 L279.6 193.2 L280.2 194.6 L280.9 195.9 L282.4 196.5 L284.0 196.2 L285.7 196.5 L287.2 196.2 L287.7 194.7 L289.0 194.1 M305.9 176.9 L306.7 178.1 L307.8 179.2 L307.6 181.1 L308.4 182.3 L309.7 183.2 L310.0 184.6 L310.6 186.0 L312.3 186.7 L312.3 188.3 L312.3 189.7 L313.0 191.0 L313.5 192.5 L313.0 194.0 L312.8 195.5 L312.7 197.0 M326.3 176.9 L326.6 178.2 L327.6 179.3 L326.8 180.8 L327.5 182.0 L326.9 183.5 L325.4 184.3 L325.2 186.2 L323.7 187.0 L322.6 188.1 L321.1 188.4 L319.8 189.0 L318.4 189.5 L317.4 190.8 L315.9 191.0 L314.5 191.3 L313.0 191.0 M321.2 169.2 L322.0 170.2 L322.5 171.5 L322.8 172.9 L324.7 173.2 L324.6 174.8 L325.0 176.2 L326.3 176.9 M356.3 157.7 L356.5 159.1 L356.8 160.4 L356.5 161.9 L357.4 163.1 L356.2 164.2 L355.9 165.6 L355.9 167.2 L355.2 168.5 L354.3 169.8 L353.0 170.9 L352.5 172.5 L352.2 174.0 L352.4 175.6 L352.3 177.1 L351.6 178.5 M326.3 176.9 L327.0 175.4 L329.0 175.5 L329.8 174.1 L331.1 173.7 L332.4 173.7 L333.7 174.1 L335.0 174.3 L336.3 174.1 L337.3 175.3 L339.0 174.9 L340.2 175.7 L341.6 175.9 L342.8 176.7 L344.0 177.4 L345.6 177.3 L347.0 178.4 L348.7 177.4 L350.1 178.4 L351.6 178.5 M351.6 178.5 L353.0 178.6 L354.1 179.6 L355.5 179.9 L357.0 179.7 L358.1 180.7 L359.0 181.8 L360.4 182.0 L361.4 182.9 M361.4 182.9 L362.0 181.5 L363.8 181.6 L364.4 180.1 L365.7 179.6 L366.8 178.6 L368.5 179.3 L369.7 178.5 L371.0 178.0 L372.2 177.4 L373.4 176.8 L374.1 175.5 L375.9 175.8 L376.4 174.3 L378.1 174.4 L378.8 173.1 L380.2 173.3 L381.5 173.7 L382.5 174.9 L384.0 174.9 L385.3 175.2 L386.4 176.2 L387.9 176.0 L389.1 176.9 L390.7 176.3 L391.8 177.4 L393.3 176.2 M395.5 170.7 L395.5 172.3 L394.1 173.3 L394.5 175.1 L393.3 176.2 L393.2 177.5 L393.0 178.9 L392.2 180.0 M392.2 180.0 L394.0 181.8 L394.9 183.0 L394.2 184.6 L394.2 186.0 L395.1 187.2 L396.5 188.0 L397.3 189.4 L398.4 190.5 M392.2 180.0 L391.2 180.8 L390.6 182.2 L389.7 183.2 L388.6 183.8 L387.7 184.8 L386.2 185.1 L385.3 186.1 L384.6 187.6 L383.2 188.7 L383.1 190.5 L382.2 191.7 L382.1 193.0 L382.0 194.3 L382.0 195.7 L382.0 197.0 L381.5 198.4 L380.1 199.1 L379.3 200.3 L378.4 201.3 L377.4 202.4 L376.6 203.5 L375.2 203.9 L373.9 204.6 L372.4 204.8 L371.2 205.7 M334.4 201.3 L336.6 200.2 L337.4 199.2 L338.0 197.9 L339.5 197.5 L339.9 196.1 L341.2 195.5 L342.0 194.5 L343.1 193.7 L344.6 193.3 L345.5 191.9 L347.4 192.3 L348.1 190.5 L349.7 190.4 L351.1 190.0 L352.3 191.1 L353.5 191.8 L354.8 191.8 L356.2 191.5 L356.8 192.9 L358.1 193.7 L358.8 192.3 L360.0 191.2 L361.4 190.5 L361.1 189.1 L361.0 187.8 L360.9 186.4 L361.4 185.0 L361.4 182.9 M358.1 193.7 L358.8 194.9 L359.5 196.1 L361.1 196.6 L361.4 198.1 L362.1 199.6 L363.4 200.4 L364.5 201.5 L365.7 202.4 L366.8 203.7 L368.6 203.8 L369.6 205.3 L371.2 205.7 M326.3 176.9 L327.5 178.1 L328.6 179.3 L329.0 181.0 L328.6 182.5 L329.8 183.6 L330.3 184.8 L329.5 186.4 L331.0 187.4 L330.3 188.9 L331.1 190.1 L331.2 191.5 L332.2 192.7 L332.5 194.2 L333.1 195.5 L333.3 197.0 L333.5 198.5 L333.5 200.0 L334.4 201.3 M312.7 197.0 L313.8 197.9 L315.4 197.9 L316.3 199.1 L317.4 200.0 L318.8 200.3 L320.4 200.3 L321.4 201.3 L322.6 202.5 L324.1 203.1 L325.7 203.5 L327.0 203.0 L328.3 202.8 L329.6 203.0 L330.9 202.8 L332.2 203.5 L333.5 202.6 L334.4 201.3 M293.1 199.2 L294.5 199.3 L295.8 199.7 L297.2 199.9 L298.1 201.4 L299.6 201.3 L300.7 200.5 L302.0 199.9 L303.7 200.3 L304.6 199.1 L305.9 198.6 L307.2 198.1 L308.5 197.3 L309.9 197.2 L311.3 197.1 L312.7 197.0 M289.0 194.1 L290.3 195.0 L290.2 196.8 L291.8 197.5 L292.2 199.0 L293.0 200.4 L293.2 201.8 L292.9 203.4 L293.6 204.8 L293.1 206.3 L293.4 207.7 L294.6 208.6 L294.4 210.2 L295.5 211.2 L296.6 212.2 L296.7 213.7 L298.0 214.6 L298.0 216.1 L299.1 217.1 L300.8 216.6 L301.8 217.7 M259.6 220.2 L261.1 219.9 L261.8 218.6 L262.9 217.8 L264.1 218.9 L265.9 218.8 L266.9 220.2 L268.1 221.0 L269.0 222.0 L270.2 222.7 L271.6 222.8 L272.8 223.4 L274.0 223.9 L275.3 224.5 L276.7 224.3 L278.2 223.9 L279.5 225.0 L281.0 224.7 L282.4 225.1 L283.9 224.2 L285.9 224.7 L287.3 223.5 L288.6 223.1 L289.7 222.2 L290.7 221.1 L292.2 221.0 L293.7 221.0 L294.3 219.2 L295.7 218.8 L297.1 218.6 L298.6 217.7 L300.3 218.4 L301.8 217.7 M301.8 217.7 L303.1 217.5 L304.4 217.1 L305.8 217.6 L307.0 217.0 L308.3 216.6 L309.6 217.3 L310.9 216.2 L312.2 217.1 L313.5 215.9 L314.8 216.6 L316.2 218.0 L317.0 219.8 L318.3 219.5 L319.6 219.9 L320.9 219.1 L322.2 219.4 L323.5 219.8 L324.6 218.7 L326.1 218.8 L327.4 218.4 L328.8 218.1 L330.1 217.7 L331.4 217.1 L332.7 217.9 L334.0 218.0 L335.3 218.1 L336.6 217.7 L338.8 218.7 M334.4 201.3 L334.8 202.7 L333.7 204.1 L334.3 205.4 L334.4 206.8 L334.9 208.1 L335.0 209.5 L335.6 210.8 L336.5 211.9 L336.6 213.3 L337.3 214.6 L338.0 215.9 L337.6 217.6 L338.8 218.7 M338.8 218.7 L340.2 218.7 L341.4 219.5 L342.8 219.8 L344.2 219.9 L345.3 220.9 L346.6 221.0 L347.9 220.2 L349.2 221.1 L350.5 221.1 L351.8 220.9 L353.4 220.2 L355.0 221.0 L356.4 220.8 L357.7 220.4 L359.1 220.4 L360.5 220.2 L361.7 219.3 L363.0 219.0 M371.2 205.7 L370.8 207.1 L369.7 208.0 L369.3 209.4 L367.9 210.1 L367.5 211.5 L366.1 212.3 L365.9 213.9 L364.4 214.6 L364.0 216.0 L363.2 217.4 L363.0 219.0 M363.0 219.0 L364.6 219.1 L365.7 220.2 L366.8 221.2 L368.0 222.0 L367.7 223.8 L368.2 225.4 L369.0 227.0 L369.7 228.3 L371.5 228.5 L371.9 230.1 L373.0 231.0 L373.7 232.3 L374.2 233.5 L374.0 235.0 M374.0 235.0 L375.6 235.4 L376.9 234.2 L378.5 234.2 L380.0 234.0 L381.4 233.7 L382.4 232.8 L383.6 232.2 L384.9 231.8 L386.0 231.0 L387.4 230.4 L388.7 231.4 L390.1 231.8 L391.5 231.5 M371.2 205.7 L372.7 205.9 L374.0 205.0 L375.5 205.7 L376.5 207.3 L378.0 208.0 L379.5 208.0 L380.9 209.1 L382.5 209.0 L384.0 209.0 L385.3 207.9 L387.2 208.7 L388.5 207.5 M374.0 235.0 L372.5 234.3 L371.0 234.9 L369.5 234.9 L368.0 235.0 L366.7 235.7 L365.5 236.8 L364.0 237.0 L364.3 238.8 L363.5 240.4 L363.0 242.0 L361.7 242.5 L360.3 242.6 L359.3 243.7 L358.0 244.0 L356.5 244.0 L355.9 245.7 L354.3 245.6 L353.5 247.0 L352.0 247.0 L351.6 248.5 L351.0 249.8 L349.1 250.4 L349.0 252.0 M374.0 235.0 L374.3 236.5 L374.1 237.8 L373.0 239.0 L373.2 240.6 L371.9 241.9 L372.7 243.6 L372.0 245.0 L372.2 246.4 L372.6 247.6 L373.5 248.7 L374.0 250.0 L375.1 251.0 L375.0 252.6 L375.5 254.0 L376.9 254.7 L377.5 256.0 M338.8 218.7 L339.7 220.1 L338.6 221.9 L340.2 223.2 L339.9 224.8 L339.9 226.4 L339.2 227.7 L338.9 229.0 L339.5 230.5 L338.8 231.8 L339.4 233.1 L340.6 234.2 L340.4 235.9 L341.0 237.2 L341.0 238.0 M341.0 238.0 L341.7 239.5 L342.7 240.7 L344.4 241.4 L345.0 243.0 L345.6 244.6 L345.6 246.3 L346.0 248.0 L346.8 249.5 L347.5 251.0 L349.0 252.0 M301.8 217.7 L301.4 219.2 L302.2 220.4 L302.0 221.9 L302.9 223.1 L302.8 224.5 L303.1 225.9 L301.9 227.1 L301.8 228.5 L301.2 229.9 L300.1 231.0 L298.9 231.8 L298.5 233.2 L297.9 234.4 L296.4 234.6 L295.6 236.2 L294.3 236.9 L292.5 236.5 L291.4 237.6 L290.6 239.0 L288.8 239.4 L288.1 240.9 L288.6 242.3 L287.6 243.5 L288.1 244.9 L287.9 246.2 L287.0 247.4 M298.5 234.5 L300.0 234.8 L300.9 236.3 L302.5 236.4 L304.0 236.7 L305.0 238.0 L306.1 238.8 L307.5 239.2 L308.5 240.2 L309.8 240.8 L310.5 242.2 L312.0 242.5 L313.4 242.7 L314.6 241.9 L316.0 241.6 L317.4 242.8 L318.6 241.6 L320.0 242.0 L321.4 242.0 L322.9 242.1 L324.3 241.7 L325.7 241.7 L327.2 241.5 L328.5 240.7 L330.0 241.0 L331.5 240.8 L333.0 240.6 L334.5 240.5 L336.0 240.4 L337.6 240.8 L339.0 240.0 L340.0 239.0 L341.0 238.0 M300.1 231.0 L301.2 232.0 L302.4 232.8 L302.4 234.7 L303.3 235.8 L304.3 236.9 L305.5 237.8 L306.6 238.7 L307.6 239.6 L308.9 240.0 L309.9 240.9 L310.8 241.9 L312.0 242.5 L313.1 243.1 L313.6 244.4 L313.4 245.9 L313.8 247.2 L314.2 248.6 L314.0 250.0 L314.4 251.4 L314.1 252.8 L314.3 254.2 L314.7 255.6 L315.6 256.8 L315.3 258.3 L316.2 259.6 L315.8 261.0 L315.0 262.4 L315.4 263.7 L316.0 265.0 M316.0 265.0 L317.5 265.1 L318.6 264.3 L319.8 263.5 L321.0 263.0 L322.7 263.6 L323.6 262.1 L325.0 262.0 L326.3 261.6 L327.6 260.9 L329.0 261.0 L330.2 260.3 L331.8 260.7 L333.0 260.0 L334.3 259.7 L335.7 259.5 L336.9 258.8 L338.0 258.0 L339.5 257.5 L340.3 256.3 L340.8 254.8 L342.4 254.4 L343.0 253.0 L344.5 252.0 L346.0 251.0 L347.7 250.9 L349.0 252.0 M349.0 252.0 L348.4 253.3 L349.1 254.7 L348.7 256.0 L348.6 257.4 L348.6 258.7 L348.0 260.0 L347.8 261.6 L347.0 262.8 L345.5 263.6 L345.0 265.0 L344.3 266.3 L343.1 267.1 L341.7 267.7 L341.4 269.4 L340.0 270.0 L339.2 271.2 L338.4 272.4 L338.2 274.0 L337.0 275.0 L337.1 276.7 L336.1 278.0 L335.9 279.6 L335.0 281.0 M349.0 252.0 L350.2 252.9 L351.4 253.9 L353.0 254.0 L353.0 255.4 L354.0 256.6 L354.0 258.0 L355.1 259.0 L355.6 260.4 L356.4 261.7 L357.0 263.0 L358.3 264.1 L360.1 264.4 L361.0 266.0 M316.0 265.0 L315.0 266.2 L313.1 265.9 L312.1 266.9 L311.0 268.0 L309.6 268.6 L308.0 268.5 L306.4 268.4 L305.0 269.0 L304.4 268.1 M316.0 265.0 L315.6 266.8 L314.0 267.6 L313.0 269.0 L312.1 270.2 L311.7 271.6 L311.5 273.0 L312.0 274.6 L312.9 275.9 L314.0 276.9 L315.3 277.9 L316.0 279.3 L317.1 280.0 L318.4 280.5 L319.7 281.0 M304.4 268.1 L302.9 268.7 L301.4 269.3 L300.1 270.3 L298.6 271.0 L297.2 271.8 L295.7 272.4 L294.1 272.1 L293.0 273.8 L291.4 273.5 M273.9 275.7 L275.3 275.7 L276.6 275.6 L278.0 275.6 L279.1 277.0 L280.5 276.8 L281.8 276.3 L282.9 275.4 L284.3 275.1 L285.9 275.5 L287.0 274.6 L288.3 273.6 L289.8 273.2 L291.4 273.5 M291.4 273.5 L292.4 274.8 L293.1 276.3 L293.5 277.9 L292.5 279.1 L292.4 280.6 L291.5 281.8 L291.4 283.3 L291.2 284.7 L290.3 286.0 L290.2 287.5 L290.5 289.0 M287.0 247.4 L287.4 248.8 L288.9 249.8 L288.6 251.6 L289.6 252.7 L290.3 254.0 L291.0 255.3 L291.0 256.8 L291.6 258.1 L292.4 259.4 L293.9 259.4 L295.3 258.8 L296.8 259.4 L297.6 260.6 L298.2 261.8 L299.0 263.0 L299.8 264.1 L301.2 264.8 L302.3 265.9 L303.4 267.0 L304.4 268.1 M259.5 247.5 L260.8 247.6 L262.2 247.6 L263.4 248.7 L264.7 248.5 L266.1 247.9 L267.4 248.5 L268.8 248.6 L270.2 248.8 L271.4 249.5 L272.6 250.3 L273.9 250.7 L275.2 251.7 L276.7 252.1 L278.3 251.8 L279.6 251.2 L280.2 249.7 L281.5 249.1 L282.7 248.5 L284.3 248.7 L285.8 248.5 L287.0 247.4 M277.2 251.8 L276.0 252.7 L274.9 253.8 L273.6 254.7 L272.9 256.1 L271.8 257.2 L270.7 259.4 L271.4 260.5 L272.4 261.5 L272.9 262.7 L272.4 264.1 L273.0 265.4 L272.8 266.8 L272.9 268.1 L273.3 269.7 L273.9 271.3 L273.5 273.0 L273.0 274.4 L273.9 275.7 L272.8 278.0 M333.1 128.5 L334.6 128.1 L336.0 127.8 L337.5 128.5 L339.0 128.8 L340.2 129.8 L341.8 129.6 L343.1 128.5 L344.6 127.8 L346.2 127.4 M335.3 133.9 L335.6 135.5 L336.6 136.4 L337.9 137.2 L338.4 138.6 L339.7 139.4 L341.1 138.7 L342.6 139.6 L344.0 139.4 L345.2 140.7 L346.9 140.8 L348.4 141.6 M332.0 125.5 L332.4 126.8 L332.4 128.2 L332.5 129.6 L332.7 130.9 L332.8 132.3 L333.5 133.6 L333.1 135.0 L332.9 136.6 L333.4 138.1 L333.5 139.7 L334.2 141.1 L334.2 142.7 L334.8 144.0 L333.7 145.3 L334.6 146.6 L333.7 147.9 L334.2 149.2 L334.4 150.7 L335.2 152.0 L336.1 153.1 L336.3 154.7 L337.5 155.7 L336.2 156.9 L335.8 158.5 L335.3 160.1 L333.9 160.9 L332.7 162.0 L331.0 162.2 L330.4 163.8 L328.6 164.2 L327.8 165.6 L326.6 166.6 M335.3 143.7 L336.7 143.7 L338.0 144.1 L339.3 144.9 L340.4 145.7 L341.8 145.9 L343.2 146.2 L344.6 145.8 L346.0 145.9 L347.3 146.4 L348.6 146.7 L350.0 147.0 M337.5 155.7 L338.9 156.1 L340.4 156.4 L341.8 155.7 L343.6 156.1 L345.4 156.6 L346.9 156.8 L348.2 156.3 L349.6 155.9 L350.9 155.5 L352.1 156.5 L353.4 157.0 L354.7 157.7 L356.3 157.7 M345.4 125.0 L345.6 126.4 L345.0 127.6 L344.2 128.8 L345.2 130.3 L344.4 131.5 L344.5 133.0 L345.0 134.2 L346.6 135.0 L346.4 136.6 L346.7 138.0 L347.6 139.1 L347.0 140.5 L347.3 142.1 L346.5 143.5 L347.6 144.3 L348.8 145.0 L349.7 146.1 L350.9 146.8 L351.8 147.9 L353.1 148.4 L354.4 149.0 L355.5 149.9 L356.3 151.1 L357.2 152.1 L357.6 153.4 L358.5 154.4 L357.2 155.1 L356.8 156.4 L356.3 157.7 M354.1 127.2 L354.2 128.8 L353.3 130.0 L353.0 131.5 L352.0 132.6 L350.3 132.9 L349.1 134.1 L347.7 134.8 L346.5 135.9 M372.7 140.2 L371.2 140.9 L369.6 141.3 L368.7 142.9 L367.2 143.5 L367.2 145.0 L366.2 146.1 L365.8 147.4 L365.3 148.6 L365.0 150.0 L365.7 151.3 L365.5 152.6 L365.2 154.0 L365.6 155.3 L365.0 156.6 M373.7 135.3 L373.4 136.7 L373.4 138.2 L373.8 139.7 L373.5 141.1 L372.7 142.4 L373.1 143.7 L373.3 145.0 L372.5 146.3 L372.5 147.6 L372.7 148.9 L372.5 150.3 L373.3 151.5 L372.9 152.9 L373.7 154.1 L373.7 155.5 M373.7 155.5 L372.1 156.6 L370.5 157.7 L369.1 157.6 L367.8 156.7 L366.4 156.7 L365.0 156.6 L363.5 157.2 L362.1 157.9 L360.7 158.7 L359.1 158.9 L357.9 157.5 L356.3 157.7 M373.7 155.5 L374.8 156.6 L375.8 157.8 L377.3 158.5 L378.1 159.8 L379.3 160.8 L380.4 161.9 L381.2 163.2 L382.4 164.2 L382.8 165.7 L384.4 166.1 L384.7 167.8 L386.4 168.2 L386.8 169.6 L388.2 170.5 L389.7 171.1 L391.2 171.8 L392.6 171.4 L394.1 171.0 L395.5 170.7 M399.9 136.4 L400.5 137.9 L399.6 139.4 L400.6 140.9 L400.4 142.4 L400.2 143.9 L400.9 145.4 L400.3 147.0 L400.7 148.5 L401.0 150.0 L401.4 151.4 L399.9 152.5 L399.8 153.9 L400.3 155.3 L399.9 156.6 L399.0 157.9 L398.0 159.1 L397.1 160.5 L396.6 162.0 L395.9 163.4 L395.5 164.8 L395.4 166.3 L396.2 167.8 L396.4 169.3 L395.5 170.7 M395.5 170.7 L397.1 170.2 L398.5 171.1 L400.0 171.2 L401.5 171.7 L402.9 171.0 L404.6 171.1 L405.7 169.8 L407.2 169.3 L408.3 168.0 L409.7 167.3 L411.3 166.8 L412.3 165.7 L413.8 166.0 M414.0 143.5 L415.5 144.3 L417.4 144.3 L418.7 145.6 L418.8 147.1 L418.9 148.5 L417.4 149.8 L417.9 151.3 L417.5 152.9 L417.1 154.5 L417.0 156.2 L416.2 157.6 L415.6 159.0 L415.7 160.7 L414.6 161.9 L414.0 163.2 L413.6 164.5 L413.8 166.0 M413.8 166.0 L413.9 168.0 L415.4 169.3 L416.6 170.4 L417.6 171.7 L417.9 173.4 L418.5 175.0 M418.2 148.5 L419.6 148.6 L420.8 149.4 L422.3 149.0 L423.6 149.7 L425.0 150.1 L426.6 150.1 L427.7 151.3 L428.9 152.0 L430.1 152.6 L430.9 153.8 L430.8 155.2 L430.2 156.5 L430.1 157.9 L430.8 159.2 L432.6 159.0 L433.4 160.3 L434.5 161.5 L436.2 161.1 L437.4 161.9" fill="none" stroke="#101010" stroke-width="1.0" stroke-opacity="0.85" stroke-linejoin="round"/>
<path d="M228.1 131.1 L227.8 129.6 L228.9 128.3 L228.6 126.8 L230.0 126.3 L230.9 124.9 L232.3 124.3 L233.5 123.5 L235.1 122.9 L236.8 122.4 L237.3 123.9 L238.2 125.2 L239.3 123.9 L239.6 122.3 L241.5 121.8 L243.3 122.4 L243.9 120.4 L245.5 119.1 L246.9 118.4 L247.6 116.9 L248.7 115.9 L250.5 115.7 L251.8 114.1 L253.6 114.2 L255.3 113.7 L256.5 114.5 L258.1 114.4 L259.1 115.9 L260.7 115.9 L261.4 117.4 L263.4 117.6 L264.0 119.1 L265.5 118.4 L267.0 119.2 L268.6 119.7 L270.1 118.9 L271.6 119.1 L273.1 118.7 L274.5 119.0 L276.0 118.4 L277.4 118.7 L278.9 119.0 L280.3 119.1 L281.9 118.9 L283.5 118.3 L285.1 118.1 L286.8 118.3 L288.6 119.1 L290.0 120.6 L291.5 120.7 L293.0 120.7 L294.5 120.5 L295.8 121.8 L297.3 121.5 L298.7 122.0 L300.0 122.5 L301.6 122.3 L302.7 123.8 L304.1 124.0 L305.8 123.4 L307.1 124.1 L308.4 124.7 L310.0 124.8 L311.5 124.6 L313.0 124.7 L314.5 123.7 L316.0 124.1 L317.5 123.4 L318.9 123.4 L320.2 122.7 L321.7 122.8 L323.1 123.0 L324.5 122.7 L325.8 122.0 L327.2 123.2 L328.6 124.3 L330.1 124.4 L331.5 123.6 L333.0 123.9 L334.4 124.7 L335.9 124.3 L337.7 124.0 L339.5 123.5 L341.4 123.8 L342.7 124.6 L344.0 125.5 L345.4 126.1 L346.9 126.6 L348.4 126.2 L350.0 126.0 L351.5 125.9 L353.1 126.1 L354.6 125.5 L356.1 125.2 L357.8 125.8 L359.3 126.6 L361.2 126.7 L362.5 128.0 L364.0 129.5 L364.4 131.6 L365.7 132.4 L366.9 133.3 L368.5 133.3 L369.9 133.6 L371.4 133.8 L372.6 134.8 L374.1 135.3 L375.3 136.5 L376.9 136.8 L378.5 137.0 L380.0 137.5 L381.7 137.9 L383.3 137.3 L384.8 137.6 L386.0 138.7 L387.1 139.9 L388.7 140.0 L390.3 140.1 L391.9 139.9 L393.6 139.7 L395.2 140.0 L396.7 139.0 L398.5 138.4 L399.6 136.8 L401.3 136.4 L402.8 137.7 L404.4 138.1 L406.1 137.9 L407.6 138.9 L409.2 139.3 L410.8 139.9 L412.6 140.0 L413.3 141.5 L414.0 143.0 L414.8 144.4 L416.4 144.1 L418.0 143.5 L419.7 144.5 L421.3 143.8 L422.7 144.5 L424.4 144.5 L425.7 145.5 L427.3 145.2 L428.9 144.9 L430.5 144.5 L432.2 144.4 L433.8 143.8 L435.5 143.6 L437.2 143.3 L438.8 142.7 L440.1 143.3 L441.5 143.5 L443.0 143.3 L444.2 144.4 L445.1 145.6 L445.3 147.1 L445.5 148.7 L444.6 150.1 L444.0 151.5 L444.2 153.1 L443.4 154.4 L443.1 155.9 L443.1 157.4 L441.5 158.2 L440.6 159.9 L438.7 160.3 L437.7 161.8 L436.3 162.2 L435.3 163.6 L434.0 164.4 L432.7 165.0 L431.1 165.1 L429.7 165.5 L428.7 166.8 L427.6 167.7 L425.9 167.8 L424.9 168.9 L423.5 169.4 L422.5 171.0 L421.1 172.0 L419.4 172.7 L418.1 173.8 L416.8 175.0 L415.3 175.7 L413.5 175.9 L412.2 177.0 L411.2 177.9 L410.2 179.0 L409.0 179.7 L408.3 181.1 L406.9 181.6 L405.7 182.4 L405.4 183.9 L405.4 185.4 L404.6 186.8 L403.9 188.3 L402.0 188.5 L401.3 190.0 L399.9 191.1 L398.7 192.5 L397.0 193.3 L396.2 194.5 L395.3 195.7 L395.6 197.5 L395.0 198.8 L393.7 199.8 L393.5 201.3 L392.1 202.3 L392.2 203.9 L390.9 204.9 L390.5 206.3 L389.2 207.6 L388.2 209.2 L387.2 210.7 L387.0 212.5 L385.5 213.7 L385.2 215.4 L385.0 217.2 L385.1 218.7 L385.7 220.1 L385.3 221.6 L385.8 223.0 L385.8 224.5 L386.7 225.8 L388.0 226.8 L388.7 228.3 L389.8 229.4 L391.5 229.7 L392.7 230.8 L393.6 232.4 L395.3 232.6 L393.8 233.3 L393.3 235.0 L391.6 235.5 L390.9 237.0 L389.7 238.3 L387.8 238.7 L386.6 240.0 L385.5 241.3 L384.7 242.5 L384.0 243.7 L383.4 245.0 L381.6 245.4 L381.1 246.8 L381.0 248.4 L379.4 249.2 L378.6 250.4 L378.5 252.0 L377.9 253.3 L378.4 254.9 L377.4 256.6 L377.2 258.2 L377.9 259.8 L376.2 260.1 L374.6 260.9 L373.0 261.6 L371.3 262.0 L369.9 262.8 L368.5 263.5 L366.9 263.4 L365.5 264.3 L364.2 265.2 L362.6 265.3 L361.9 266.8 L360.3 267.3 L359.6 268.7 L358.3 269.6 L357.9 271.1 L357.7 272.7 L356.5 274.0 L356.0 275.5 L356.1 277.2 L355.1 278.8 L353.5 279.7 L351.8 280.5 L350.4 281.1 L348.7 280.6 L347.4 281.2 L346.1 282.2 L344.6 282.7 L343.1 282.7 L341.6 282.2 L340.1 281.8 L338.6 281.4 L336.9 282.0 L335.4 281.6 L333.7 280.7 L331.9 280.6 L330.0 280.5 L328.5 280.6 L327.0 279.9 L325.6 281.0 L324.1 280.3 L322.7 281.2 L321.2 281.1 L319.7 280.7 L318.2 280.5 L316.9 281.7 L315.3 281.3 L314.0 281.8 L312.5 281.8 L311.2 282.8 L309.8 283.1 L308.3 283.2 L307.1 284.1 L305.5 284.0 L304.4 285.0 L302.9 285.2 L301.6 285.9 L300.8 287.5 L299.3 287.6 L298.0 288.3 L297.2 289.6 L296.0 290.5 L294.9 291.3 L293.0 291.3 L291.9 292.2 L291.0 293.4 L289.6 294.0 L289.0 295.5 L287.7 296.1 L286.7 297.2 L285.6 296.1 L284.1 295.8 L282.9 294.8 L281.4 294.5 L280.3 293.4 L278.9 292.8 L278.0 291.6 L277.6 290.0 L276.3 289.3 L275.2 288.3 L275.1 286.5 L273.9 285.2 L273.0 283.7 L272.7 282.0 L273.1 280.1 L272.7 278.1 L272.0 276.8 L270.2 276.5 L269.8 274.9 L268.2 274.4 L267.6 273.0 L266.0 272.6 L265.2 270.9 L263.3 271.0 L262.1 269.9 L261.0 268.8 L259.4 268.5 L258.2 269.6 L256.9 270.3 L255.5 270.6 L254.0 270.5 L252.5 271.2 L250.8 270.8 L249.4 272.0 L247.7 271.2 L246.2 272.2 L244.5 271.7 L243.1 272.7 L241.8 271.7 L240.0 272.2 L238.5 271.8 L237.1 271.1 L235.5 271.2 L234.2 270.0 L232.4 270.4 L231.1 269.4 L229.5 270.1 L227.8 268.7 L226.2 269.7 L224.6 269.4 L225.0 267.9 L225.2 266.3 L225.3 264.7 L225.3 263.1 L226.7 261.7 L227.1 260.2 L226.8 258.5 L227.6 257.0 L226.6 255.3 L226.9 253.8 L227.6 252.3 L228.3 250.8 L227.8 249.2 L227.9 247.6 L228.2 246.2 L228.1 244.7 L227.6 243.3 L228.0 241.9 L227.6 240.4 L227.9 239.0 L226.2 239.1 L224.5 239.0 L222.9 238.5 L221.3 237.9 L222.2 236.7 L221.8 235.1 L222.3 233.8 L222.4 232.4 L221.1 231.7 L219.9 230.7 L218.3 230.9 L217.0 230.2 L217.0 228.5 L217.3 226.9 L217.6 225.3 L218.1 223.7 L219.0 222.5 L219.4 221.1 L219.0 219.5 L219.5 218.2 L220.2 216.9 L220.5 215.5 L221.6 214.4 L222.6 213.3 L223.5 212.0 L223.9 210.6 L224.3 209.2 L225.3 208.2 L225.8 206.8 L227.1 206.0 L227.3 204.4 L228.5 203.5 L228.3 202.0 L229.5 200.8 L229.5 199.3 L230.5 198.2 L230.6 196.7 L231.5 195.5 L230.9 193.8 L231.8 192.6 L232.2 191.3 L233.0 190.0 L232.4 188.4 L234.0 187.4 L233.4 185.7 L234.6 184.6 L235.3 183.3 L235.0 181.8 L235.4 180.2 L234.6 178.7 L234.2 177.2 L234.7 175.6 L235.2 174.0 L234.3 172.5 L234.5 170.9 L234.8 169.3 L233.5 167.9 L234.4 166.1 L232.9 164.8 L233.1 163.2 L233.7 161.5 L232.9 160.0 L233.4 158.6 L233.0 157.2 L233.7 155.7 L233.8 154.1 L233.5 152.5 L235.0 152.6 L236.3 152.0 L235.1 150.8 L233.6 150.0 L232.8 147.5 L234.1 146.8 L235.6 146.9 L234.0 145.8 L232.5 144.6 L231.5 143.2 L231.3 141.5 L232.9 141.5 L234.4 141.0 L232.9 139.8 L231.2 139.0 L230.5 137.7 L230.4 136.2 L232.6 135.2 L230.9 134.9 L229.8 133.6 L229.5 132.0 Z M432.7 211.8 L433.7 210.5 L435.0 209.5 L436.9 208.6 L438.6 207.3 L440.1 206.3 L441.3 205.0 L443.1 204.2 L445.0 203.6 L447.7 202.7 L448.1 204.5 L450.4 206.3 L452.7 206.8 L453.1 209.1 L452.2 210.5 L451.3 211.8 L450.9 213.6 L450.4 215.4 L449.0 216.2 L447.7 217.2 L445.0 218.2 L443.1 216.3 L441.3 215.9 L440.4 214.1 L437.7 213.2 L435.0 214.1 L433.2 213.2 Z M458.6 200.0 L460.4 198.6 L463.1 198.0 L465.9 198.6 L467.7 200.4 L468.6 203.2 L467.7 204.5 L465.9 203.2 L463.1 202.3 L460.4 201.8 Z M413.2 228.1 L414.1 225.9 L416.4 224.3 L417.9 224.0 L419.5 224.1 L421.3 225.0 L420.4 226.8 L419.0 227.6 L417.7 228.6 L416.3 229.2 L415.0 230.0 Z M417.5 232.3 L419.5 232.6 L420.6 234.4 L418.6 234.6 Z M444.0 221.0 L445.2 221.0 L445.2 222.2 L444.0 222.2 Z" fill="none" stroke="#101010" stroke-width="1.2"/>
<path d="M544.7 109.5 L543.6 110.5 L543.2 111.8 L544.0 113.5 L543.5 114.8 L542.4 115.9 L541.4 117.1 L541.0 118.6 L540.5 120.1 L540.2 121.6 L540.4 123.0 L539.8 124.3 L539.7 125.6 L539.7 126.9 L540.2 128.3 L539.7 129.6 L539.5 130.9 L539.8 132.3 L539.4 133.8 L539.2 135.2 L539.4 136.6 L540.2 137.9 M519.8 134.4 L521.2 133.9 L522.5 133.3 L523.8 132.5 L525.5 133.1 L526.7 132.1 L528.0 131.2 L529.5 131.7 L530.9 132.1 L532.1 130.7 L533.6 131.2 L534.9 130.9 L536.5 131.1 L538.0 130.2 L539.5 130.9 M540.2 137.9 L539.0 138.5 L537.6 138.7 L536.4 139.2 L535.1 139.5 L533.9 139.9 L532.6 140.2 L531.8 141.2 L531.4 142.5 L532.1 143.9 L531.8 145.5 L533.0 146.8 L532.6 148.4 L533.2 149.8 L533.4 151.2 L534.0 152.6 L533.8 154.1 M540.2 137.9 L540.9 139.2 L541.9 140.0 L543.0 140.7 L544.8 140.5 L545.4 141.9 L546.6 142.5 L548.0 141.8 L549.5 141.4 L550.7 140.3 L552.3 140.2 L553.2 138.7 L554.6 137.8 L555.8 136.8 L558.1 136.8 M552.3 113.0 L552.7 114.3 L553.5 115.4 L554.4 116.5 L554.0 118.1 L554.7 119.3 L555.7 120.2 L556.3 121.4 L556.8 122.7 L557.2 124.1 L558.1 125.1 L557.6 126.7 L558.7 128.0 L558.2 129.6 L559.2 130.9 L558.2 132.2 L559.0 133.9 L559.0 135.4 L558.1 136.8 L558.6 138.6 L558.1 140.5 L556.9 141.3 L556.5 142.5 L555.8 143.7 L556.0 145.5 L556.7 147.1 L558.1 148.4 L557.3 150.0 L556.9 151.8 M521.0 154.1 L522.5 153.8 L523.6 152.4 L525.4 152.5 L526.7 151.8 L528.0 152.8 L529.4 153.2 L530.9 153.2 L532.3 153.9 L533.8 154.1 M533.8 154.1 L535.2 154.5 L536.5 155.1 L537.7 156.1 L539.5 155.6 L540.7 156.5 L542.1 155.9 L543.6 155.5 L545.0 155.4 L546.6 155.9 L547.8 154.7 L549.3 154.5 L550.9 154.6 L552.3 154.1 L554.2 154.0 L555.5 152.8 L556.9 151.8 L558.5 152.0 L560.1 152.4 L561.6 153.0 L562.0 154.3 L563.1 155.3 L564.1 156.4 L564.1 157.9 L564.4 159.5 L565.3 160.7 L566.7 161.7 L566.8 163.3 L568.1 164.4 L568.2 166.1 L567.8 167.8 L565.8 168.4 L565.4 170.1 L564.6 171.3 L563.1 171.3 L561.7 171.6 L561.3 173.4 L559.9 173.7 L558.7 174.2 L558.0 175.6 L556.8 176.6 L557.0 178.5 L555.9 179.6 L556.4 181.0 L556.4 182.4 L556.8 183.8 L555.9 185.3 L555.8 186.7 L556.4 188.1 L556.4 189.5 L556.9 191.0 L555.7 192.3 L555.5 193.6 L555.5 195.1 L555.5 196.5 L554.4 197.6 L553.0 198.3 L552.9 199.7 L553.6 200.9 L554.1 202.2 L554.7 203.5 L554.2 205.0 L554.2 206.6 L553.4 208.1 L553.0 209.6 L551.5 209.6 L550.3 210.2 L549.1 211.1 L547.7 211.3 L546.3 211.0 L545.0 211.2 L543.9 212.6 L542.5 212.1 L543.8 213.3 L544.6 214.8 L545.1 216.5 L546.5 217.4 L546.5 219.3 L547.5 220.5 L548.6 221.7 L549.4 222.9 L549.8 224.4 L551.4 224.9 L552.1 226.1 L552.3 227.5 L552.2 228.8 L551.6 230.1 L551.1 231.3 L550.0 232.3 L549.5 233.7 L549.5 235.4 L548.2 236.3 L547.4 237.5 L547.6 239.0 L546.4 240.0 L546.7 241.5 L546.2 242.7 L545.3 243.8 L545.9 245.4 L546.4 247.1 L547.6 248.4 L548.5 250.8 L547.3 251.4 L546.5 252.6 L545.3 253.1 L544.4 254.4 L544.2 256.0 L543.9 257.6 L542.9 258.8 L541.9 260.0 L541.4 261.4 L541.3 262.8 L541.8 264.3 L540.7 265.6 L541.0 267.0 L540.7 268.6 L541.6 270.1 L540.7 271.7 L541.5 273.2 L542.4 274.4 L542.6 275.9 M559.2 130.9 L560.5 130.2 L562.0 130.3 L563.3 129.5 L564.9 130.1 L566.1 128.9 L567.6 129.1 L568.9 128.7 L570.4 129.2 L571.7 128.4 L573.2 129.2 L574.5 128.8 L575.9 128.4 L577.3 128.5 L578.7 128.3 L580.1 127.9 L581.5 128.8 L582.9 128.0 L584.2 127.6 L585.7 128.1 L587.0 127.5 L588.0 126.0 L589.4 126.0 L590.9 126.0 L592.2 125.7 L593.8 125.7 L594.9 124.4 L596.5 124.6 L597.9 124.0 L599.0 122.9 L600.6 122.4 L601.5 121.1 M596.8 125.1 L596.6 126.9 L596.8 128.7 L596.6 130.3 L595.4 131.5 L594.5 132.7 L594.5 134.4 L595.2 136.0 L594.6 137.6 L594.5 139.1 L594.6 140.5 L594.5 141.9 L593.4 143.1 L593.1 144.4 L593.1 145.8 L593.4 147.2 M558.1 148.4 L559.5 148.4 L560.8 148.4 L562.1 149.4 L563.6 149.0 L564.9 149.3 L566.3 149.5 L567.6 149.7 L569.0 149.5 L570.2 150.2 L571.5 150.7 L573.0 149.7 L574.2 150.5 L575.6 150.6 L577.0 150.5 L578.2 151.2 L579.6 151.4 L581.1 150.7 L582.4 151.0 L583.7 151.8 L585.0 150.7 L586.6 149.9 L587.5 148.4 L589.0 148.5 L590.5 148.3 L591.8 147.0 L593.4 147.2 M587.5 148.4 L587.7 150.1 L586.6 151.4 L586.3 153.0 L585.8 154.5 L587.0 155.7 L587.0 157.1 L587.4 158.5 L587.5 159.9 L586.9 161.2 L586.8 162.6 L586.8 164.0 L586.0 165.3 L586.2 166.8 L586.3 168.2 L586.4 169.7 L586.3 171.2 L585.8 172.6 L585.6 174.1 L585.8 175.6 M565.4 170.1 L566.9 170.0 L568.2 170.6 L569.6 170.6 L571.0 171.1 L572.2 172.1 L573.7 171.6 L575.0 172.2 L576.3 172.8 L577.8 172.8 L578.8 174.3 L580.4 174.0 L581.8 174.1 L583.1 174.6 L584.3 175.6 L585.8 175.6 L587.2 175.8 L588.3 176.9 L589.8 176.9 M593.4 147.2 L593.2 148.7 L594.6 150.0 L593.7 151.6 L594.5 153.0 L595.9 153.7 L597.3 154.3 L598.4 155.3 L599.1 156.7 L600.3 157.7 L601.6 158.1 L602.9 158.5 L604.3 158.7 L605.8 157.9 L607.0 159.2 L608.4 158.8 L608.7 157.3 L610.3 156.8 L610.7 155.3 M597.9 128.7 L599.3 129.6 L600.9 129.2 L602.3 129.6 L603.8 129.8 L605.1 130.6 L606.5 131.2 L607.4 132.4 L608.7 133.1 L609.6 134.4 L610.5 133.3 L611.7 132.8 L612.8 132.0 L614.2 132.1 L615.5 131.2 L616.2 129.8 L617.8 129.5 L618.7 128.3 L620.0 127.5 L621.4 127.0 L622.0 125.8 L623.1 125.0 L623.9 123.9 L624.7 122.8 L625.6 121.7 L625.8 120.2 M609.6 134.4 L608.4 135.6 L608.3 137.2 L607.3 138.5 L606.3 139.8 L606.0 141.4 L606.0 142.8 L606.2 144.2 L606.8 145.6 L606.5 147.1 L607.2 148.4 L607.9 149.8 L609.2 150.9 L609.4 152.5 L610.6 153.6 L610.7 155.3 L610.3 156.8 L610.5 158.2 L611.7 159.4 L612.0 160.8 L611.9 162.2 L612.1 163.7 L613.5 164.6 L614.1 165.9 L614.2 167.4 M614.2 167.4 L615.4 166.4 L617.0 166.1 L618.6 166.0 L619.7 164.7 L621.0 164.0 L621.9 162.9 L622.9 161.8 L623.8 160.7 L625.8 160.7 L626.4 159.3 L627.5 158.4 L627.7 156.9 L628.9 156.1 L629.9 155.1 L630.5 153.8 L631.6 153.0 M589.8 176.9 L591.1 176.3 L592.4 175.8 L593.9 176.5 L595.2 175.6 L596.6 176.0 L597.9 175.6 L598.6 174.2 L600.5 174.0 L601.2 172.6 L602.0 171.4 L603.0 170.5 L604.0 169.5 L605.8 169.9 L607.0 169.3 L607.8 167.9 L608.8 166.9 L610.6 167.4 L611.5 166.1 L612.6 167.3 L614.2 167.4 M589.8 176.9 L590.2 178.3 L589.2 179.6 L589.2 181.0 L588.1 182.2 L588.5 183.7 L587.6 184.7 L587.1 185.9 L585.9 186.7 L586.0 188.3 L584.6 189.0 L584.4 190.4 L581.9 191.1 L581.1 192.2 L579.9 192.8 L578.6 193.5 L577.9 194.6 L577.3 195.8 L578.7 195.0 L579.9 193.9 M553.8 197.3 L555.7 197.5 L557.3 196.5 L558.5 195.4 L560.1 195.1 L561.2 193.9 L562.6 193.1 L564.3 193.1 L565.6 192.2 L567.2 192.6 L568.6 192.1 L570.0 192.9 L570.6 194.5 L571.6 195.6 L572.9 196.5 L574.6 196.5 L576.4 196.5 L577.2 195.1 L578.4 194.3 L579.9 193.9 M597.9 175.6 L598.4 176.8 L599.1 177.9 L599.9 179.0 L600.7 180.0 L600.9 181.4 L602.0 182.3 L603.2 183.4 L603.7 184.9 L603.9 186.4 L604.8 187.7 L605.6 189.0 L605.5 190.6 L605.2 192.2 L605.6 193.8 L604.8 195.4 L605.2 197.0 M619.7 175.6 L619.9 177.0 L620.1 178.4 L620.7 179.6 L621.0 181.0 L620.2 182.1 L619.5 183.3 L618.1 183.9 L618.0 185.5 L616.9 186.3 L616.1 187.5 L614.9 188.1 L613.5 188.3 L612.2 188.6 L611.3 189.7 L610.2 190.4 L608.7 191.2 L607.1 190.9 L605.5 190.6 M614.2 167.4 L615.6 168.2 L616.1 169.5 L617.0 170.6 L617.9 171.7 L617.8 173.5 L618.8 174.5 L619.7 175.6 M651.7 155.1 L652.0 156.5 L651.7 158.1 L652.9 159.3 L652.8 160.9 L652.5 162.4 L652.1 163.9 L651.6 165.4 L650.5 166.6 L649.0 167.7 L649.0 169.8 L647.6 170.9 L647.3 172.5 L647.3 174.1 L646.3 175.6 L646.7 177.3 M619.7 175.6 L621.0 174.6 L622.1 173.5 L623.4 172.6 L624.8 172.7 L626.2 172.6 L627.6 173.2 L629.0 172.3 L630.3 172.6 L631.8 173.0 L633.2 173.6 L634.7 173.8 L636.0 174.5 L637.4 174.9 L638.6 176.1 L640.0 175.7 L641.3 176.0 L642.5 177.4 L643.9 177.2 L645.2 177.5 L646.7 177.3 M646.7 177.3 L647.9 178.2 L649.2 178.8 L650.8 178.8 L652.3 178.9 L653.6 179.6 L655.0 180.1 L656.1 180.9 L657.1 182.0 M657.1 182.0 L658.7 181.6 L659.4 180.2 L660.6 179.4 L661.7 178.4 L663.2 178.3 L664.6 177.9 L665.6 176.4 L667.4 177.0 L668.6 176.1 L670.1 175.8 L671.0 174.7 L672.4 174.2 L673.6 173.4 L674.7 172.6 L675.7 171.5 L677.1 171.6 L678.6 171.8 L680.0 172.3 L681.0 173.8 L682.6 173.8 L683.9 174.5 L685.4 174.5 L686.8 175.0 L688.2 175.4 L689.5 176.1 L691.1 174.8 M693.5 169.0 L693.2 170.6 L692.6 172.0 L691.1 173.1 L691.1 174.8 L690.4 176.1 L690.6 177.6 L689.9 178.9 M689.9 178.9 L690.6 180.1 L691.9 180.8 L691.7 182.3 L691.9 183.8 L692.7 185.1 L693.0 186.6 L694.6 187.3 L695.5 188.8 L696.5 190.1 M689.9 178.9 L689.3 180.3 L687.6 180.5 L687.2 182.1 L685.5 182.3 L684.7 183.5 L684.1 185.0 L682.6 185.4 L682.3 186.7 L681.5 187.8 L680.3 188.6 L680.2 190.1 L679.5 191.4 L680.5 193.0 L679.5 194.2 L678.7 195.5 L679.1 197.0 L677.8 197.9 L677.3 199.5 L676.4 200.6 L675.1 201.5 L674.7 203.2 L673.3 203.9 L671.8 204.3 L670.2 204.4 L668.9 205.4 L667.5 206.3 M628.3 201.6 L629.4 200.9 L630.7 200.4 L631.9 199.7 L632.7 198.5 L633.6 197.4 L635.0 196.8 L635.3 195.2 L637.1 195.0 L637.6 193.5 L638.8 192.9 L639.7 191.8 L641.3 192.0 L642.1 190.8 L643.8 191.2 L644.6 190.0 L646.0 190.5 L647.5 190.0 L648.7 191.4 L650.2 190.6 L651.6 191.1 L652.1 192.8 L653.6 193.5 L654.2 191.8 L655.7 191.0 L657.1 190.1 L657.3 188.6 L656.8 187.1 L656.9 185.7 L657.1 184.2 L657.1 182.0 M653.6 193.5 L654.6 194.6 L654.8 196.3 L656.0 197.2 L657.1 198.2 L658.7 198.8 L659.3 200.5 L660.9 201.2 L661.7 202.8 L663.2 202.9 L663.8 204.6 L664.8 205.5 L666.4 205.6 L667.5 206.3 M619.7 175.6 L620.2 176.8 L621.3 177.6 L622.4 178.5 L622.6 179.9 L622.5 181.4 L623.7 182.6 L623.8 184.1 L624.0 185.5 L623.3 187.1 L625.0 188.2 L625.3 189.6 L624.9 191.1 L625.1 192.8 L626.2 194.0 L627.1 195.3 L627.1 197.0 L628.0 198.4 L628.6 199.9 L628.3 201.6 M605.2 197.0 L606.5 197.6 L607.6 198.8 L609.1 199.0 L610.4 199.7 L612.1 199.7 L613.2 200.7 L614.5 201.6 L615.7 203.0 L617.6 203.0 L619.0 203.9 L620.4 204.6 L621.8 204.4 L623.2 204.6 L624.6 204.0 L626.0 203.9 L627.0 202.6 L628.3 201.6 M584.3 199.3 L585.6 200.1 L587.0 200.4 L588.4 200.7 L589.7 201.6 L591.2 201.6 L592.6 201.0 L593.8 200.0 L595.5 200.3 L596.5 199.0 L598.1 199.0 L599.3 198.2 L600.9 198.2 L602.1 197.0 L603.8 197.6 L605.2 197.0 M579.9 193.9 L580.3 195.5 L582.2 196.2 L581.9 198.2 L583.3 199.1 L583.8 200.4 L583.5 201.7 L583.8 203.0 L583.8 204.3 L584.4 205.6 L584.3 206.9 L585.1 208.1 L585.9 209.4 L585.9 211.0 L586.9 212.1 L587.6 213.4 L587.8 214.9 L588.8 216.1 L589.5 217.4 L590.8 218.1 L592.4 218.0 L593.6 219.1 M548.6 221.7 L549.7 220.8 L550.5 219.4 L552.1 219.2 L553.2 220.5 L554.7 221.4 L556.4 221.7 L557.1 223.2 L558.6 223.7 L559.9 224.4 L561.4 224.2 L562.8 224.4 L564.1 225.0 L565.3 226.3 L566.8 226.1 L568.3 226.5 L569.8 226.7 L571.3 227.3 L572.9 227.0 L574.4 227.2 L575.5 226.0 L576.8 225.8 L578.1 225.2 L579.3 224.3 L581.0 224.4 L582.1 223.3 L583.3 222.6 L584.8 222.3 L585.8 221.0 L587.2 220.6 L588.6 220.0 L590.1 219.2 L591.9 219.2 L593.6 219.1 M593.6 219.1 L594.9 218.6 L596.3 218.2 L597.8 218.6 L599.0 217.7 L600.5 217.9 L601.9 218.2 L603.3 218.2 L604.7 217.6 L606.0 217.9 L607.4 217.9 L608.1 219.1 L609.4 219.9 L609.8 221.3 L611.2 220.6 L612.5 220.6 L613.9 221.8 L615.3 221.8 L616.7 221.3 L618.2 221.1 L619.6 220.7 L620.7 219.4 L622.3 219.3 L623.7 219.1 L625.1 219.1 L626.5 218.4 L627.9 218.9 L629.3 218.9 L630.7 219.1 L633.0 220.1 M628.3 201.6 L628.4 203.0 L627.6 204.5 L628.8 206.0 L628.3 207.4 L629.4 208.6 L628.8 210.4 L629.6 211.6 L629.8 213.1 L630.7 214.4 L630.9 216.0 L632.2 217.1 L632.5 218.7 L633.0 220.1 M633.0 220.1 L634.3 221.0 L635.8 221.1 L637.3 221.3 L638.4 222.4 L639.9 222.5 L641.3 223.0 L642.7 222.8 L644.1 222.9 L645.5 223.0 L646.9 222.5 L648.6 222.2 L650.3 222.6 L651.8 222.8 L653.2 222.2 L654.4 221.1 L655.8 220.7 L657.3 220.3 L658.8 220.4 M667.5 206.3 L666.4 207.2 L665.4 208.3 L664.8 209.7 L664.0 211.0 L663.4 212.3 L662.6 213.6 L661.9 215.0 L660.9 216.1 L659.9 217.3 L659.2 218.8 L658.8 220.4 M658.8 220.4 L660.0 221.5 L661.1 222.6 L662.8 222.8 L664.1 223.6 L663.8 225.1 L664.4 226.4 L664.2 227.8 L665.2 229.0 L666.6 229.7 L667.8 230.6 L668.6 232.0 L669.5 233.2 L669.8 234.7 L669.7 236.2 L670.5 237.5 M670.5 237.5 L672.2 237.8 L673.7 236.6 L675.4 237.0 L676.9 236.4 L677.9 235.2 L679.2 234.5 L680.4 233.9 L682.1 234.1 L683.3 233.2 L684.7 233.9 L686.3 233.4 L687.7 234.2 L689.2 233.8 M667.5 206.3 L668.9 205.3 L670.5 205.5 L671.2 206.8 L672.8 207.0 L673.6 208.1 L674.8 208.7 L676.4 209.2 L677.9 210.0 L679.6 209.4 L681.2 209.8 L682.6 208.8 L684.2 208.2 L686.0 208.2 M670.5 237.5 L668.9 238.2 L667.3 236.8 L665.7 238.0 L664.1 237.5 L662.4 237.6 L661.0 238.3 L659.9 239.6 L660.0 241.0 L659.3 242.3 L659.2 243.7 L658.8 245.0 L657.5 245.6 L656.0 245.6 L654.6 246.1 L653.5 247.1 L652.4 248.1 L650.9 248.3 L649.5 248.8 L648.3 249.5 L647.1 250.3 L646.8 251.9 L645.6 253.0 L644.7 254.3 L643.9 255.6 M670.5 237.5 L670.1 238.9 L670.3 240.5 L669.5 241.8 L669.6 243.4 L669.3 245.0 L668.5 246.5 L668.4 248.2 L668.4 249.7 L669.4 250.8 L669.6 252.3 L670.5 253.5 L671.5 254.6 L672.1 256.0 L672.5 257.5 L673.1 258.9 L674.3 259.9 M633.0 220.1 L633.3 221.5 L633.1 222.9 L633.8 224.2 L634.2 225.5 L633.9 227.0 L634.2 228.3 L633.6 229.7 L633.7 231.2 L633.6 232.7 L633.0 234.1 L633.8 235.4 L634.5 236.8 L634.8 238.4 L635.4 239.9 L635.4 240.7 M635.4 240.7 L636.1 241.9 L636.8 243.0 L637.4 244.3 L638.8 244.9 L639.6 246.0 L639.8 247.4 L639.7 248.8 L641.0 249.9 L640.7 251.4 L641.8 252.2 L642.7 253.2 L643.3 254.4 L643.9 255.6 M593.6 219.1 L593.4 220.6 L594.4 221.9 L594.9 223.3 L594.7 224.8 L593.9 226.1 L594.0 227.7 L593.6 229.1 L593.6 230.6 L592.7 231.9 L591.8 233.2 L590.4 234.1 L590.0 235.5 L589.4 236.9 L588.0 237.4 L586.4 237.7 L585.1 238.6 L583.6 239.1 L582.5 240.3 L581.0 241.1 L579.9 242.3 L579.0 243.8 L578.4 245.1 L578.3 246.5 L578.9 248.1 L578.0 249.3 L577.8 250.7 M590.1 237.0 L591.5 237.1 L592.5 237.9 L593.5 238.8 L594.4 239.9 L595.8 240.2 L597.0 240.7 L598.0 241.8 L599.3 242.6 L600.3 243.7 L602.0 243.8 L603.0 245.0 L604.4 245.5 L605.8 245.0 L607.3 245.5 L608.7 244.6 L610.1 245.2 L611.6 245.3 L613.0 245.0 L614.3 244.5 L615.6 244.2 L617.0 245.0 L618.4 245.2 L619.6 244.0 L620.9 243.8 L622.3 244.2 L623.6 243.9 L624.9 243.0 L626.3 243.3 L627.7 243.4 L629.1 243.1 L630.4 242.7 L631.8 242.5 L633.2 242.8 L634.3 241.7 L635.4 240.7 M591.8 233.2 L592.3 234.5 L594.1 234.8 L593.8 236.8 L595.7 237.0 L596.2 238.2 L596.4 239.8 L598.2 240.1 L598.7 241.4 L600.0 242.0 L600.8 243.3 L602.3 243.6 L603.1 244.9 L604.4 245.5 L605.6 246.1 L606.3 247.5 L605.6 249.1 L606.4 250.5 L606.6 252.0 L606.6 253.5 L606.4 255.0 L607.0 256.4 L606.7 258.0 L607.3 259.4 L607.5 260.9 L608.0 262.3 L608.0 263.8 L608.1 265.2 L608.5 266.6 L609.2 268.0 L608.7 269.5 M608.7 269.5 L610.3 269.6 L611.3 268.1 L612.6 267.5 L614.4 268.3 L615.4 266.7 L617.2 267.4 L618.3 266.3 L619.7 265.9 L621.0 265.2 L622.5 264.9 L624.1 265.2 L625.2 263.9 L626.8 264.2 L628.0 263.2 L629.3 262.6 L630.7 262.3 L632.2 262.0 L633.1 260.9 L634.3 259.9 L634.9 258.4 L636.2 257.6 L637.5 256.7 L638.8 255.2 L640.7 254.6 L642.3 255.1 L643.9 255.6 M643.9 255.6 L644.3 257.1 L643.5 258.5 L643.2 259.9 L642.6 261.2 L643.3 262.8 L642.8 264.2 L642.1 265.6 L641.8 267.2 L640.9 268.5 L639.6 269.5 L638.2 270.2 L637.1 271.2 L636.9 273.2 L635.1 273.4 L634.3 274.8 L633.0 275.9 L633.3 277.8 L631.4 278.5 L631.1 280.1 L631.2 281.6 L630.1 282.7 L629.5 283.9 L629.1 285.2 L629.0 286.5 M643.9 255.6 L645.6 255.8 L646.6 257.3 L648.1 257.8 L649.1 259.0 L648.8 260.6 L649.2 262.0 L649.8 263.5 L651.0 264.6 L652.0 265.8 L652.4 267.4 L653.2 268.5 L654.9 268.5 L655.7 269.7 L656.7 270.6 M608.7 269.5 L607.7 270.9 L605.7 270.6 L604.5 271.6 L603.4 272.7 L601.9 273.5 L600.3 273.7 L598.6 273.3 L597.0 273.7 L596.3 272.8 M608.7 269.5 L607.4 270.2 L607.3 271.8 L606.2 272.6 L605.5 273.7 L604.9 275.1 L604.0 276.4 L603.9 278.0 L604.8 279.0 L605.2 280.3 L606.0 281.4 L607.0 282.3 L608.0 283.2 L609.3 283.8 L610.3 284.8 L611.3 286.0 L612.7 286.5 M596.3 272.8 L594.9 273.7 L593.6 275.0 L591.8 275.1 L590.0 275.5 L588.4 276.2 L587.1 277.4 L585.7 278.2 L584.1 278.5 L582.5 278.5 M563.8 280.9 L565.1 281.8 L566.7 281.0 L568.0 281.9 L569.5 281.8 L570.9 282.1 L572.2 281.4 L573.5 280.7 L575.1 280.9 L576.4 280.0 L577.8 279.7 L579.2 278.9 L581.1 279.5 L582.5 278.5 M582.5 278.5 L583.2 280.1 L584.1 281.6 L584.7 283.2 L583.7 284.5 L583.2 286.0 L582.6 287.4 L582.5 289.0 L582.4 290.5 L581.3 291.9 L582.2 293.6 L581.5 295.1 M577.8 250.7 L578.0 252.1 L579.0 253.0 L579.0 254.5 L580.5 255.2 L580.6 256.6 L581.3 257.8 L582.0 259.2 L582.8 260.5 L583.6 261.8 L583.5 263.5 L585.1 263.9 L586.7 263.6 L588.2 263.5 L589.1 264.8 L589.8 266.1 L590.8 267.2 L592.3 267.9 L592.9 269.3 L593.8 270.7 L594.7 272.1 L596.3 272.8 M548.5 250.8 L549.8 251.4 L551.3 250.8 L552.7 251.0 L554.1 251.1 L555.5 251.8 L556.9 251.9 L558.2 252.7 L559.9 252.2 L561.0 253.4 L562.2 254.4 L563.8 254.2 L565.5 254.2 L566.8 255.7 L568.5 255.4 L569.9 254.9 L570.4 253.1 L571.7 252.4 L573.2 251.9 L574.6 251.0 L576.1 250.5 L577.8 250.7 M567.3 255.4 L566.5 256.5 L566.0 257.9 L564.0 257.8 L563.4 259.1 L562.4 260.1 L561.6 261.2 L561.3 262.5 L560.4 263.5 L561.8 264.3 L561.5 266.2 L562.8 267.0 L562.3 268.5 L563.3 269.9 L562.8 271.4 L562.8 272.8 L562.9 274.1 L562.9 275.4 L563.0 276.7 L563.4 278.0 L563.2 279.5 L563.8 280.9 L562.8 281.9 L562.7 283.3 M626.9 124.0 L628.5 124.1 L630.1 123.4 L631.6 124.0 L633.3 123.7 L634.9 124.1 L636.2 125.1 L637.4 124.5 L638.3 123.5 L640.0 123.9 L640.9 122.8 M629.3 129.7 L630.4 130.8 L630.8 132.3 L632.4 133.0 L632.7 134.7 L634.0 135.6 L635.5 135.2 L637.0 135.8 L638.6 135.6 L639.8 136.0 L640.9 136.9 L641.9 137.7 L643.2 137.9 M625.8 120.8 L625.5 122.3 L626.8 123.6 L626.0 125.1 L626.8 126.5 L626.9 128.0 L627.1 129.4 L626.9 130.9 L627.9 132.2 L626.7 133.7 L627.4 135.0 L627.0 136.5 L627.9 137.7 L628.1 139.1 L627.6 140.5 L628.7 141.9 L628.4 143.3 L627.5 144.7 L628.1 146.0 L629.2 147.2 L630.1 148.5 L629.6 150.5 L630.8 151.6 L631.6 153.0 L631.5 154.4 L631.1 155.6 L630.1 156.6 L629.3 157.7 L627.5 157.9 L626.4 159.5 L624.7 159.9 L623.8 160.9 L622.9 161.8 L622.3 163.1 L620.9 163.6 L620.0 164.6 M629.3 140.2 L630.9 140.1 L631.8 141.8 L633.3 142.1 L635.0 141.6 L636.2 142.5 L637.6 143.4 L639.0 143.6 L640.6 143.2 L641.9 144.0 L643.5 143.8 L645.0 143.7 M631.6 153.0 L633.2 153.3 L634.7 153.7 L636.2 153.0 L637.5 153.4 L638.8 153.6 L640.0 153.9 L641.6 153.9 L643.1 153.8 L644.3 152.4 L645.9 152.8 L647.5 152.9 L648.6 154.4 L650.2 154.6 L651.7 155.1 M640.0 120.2 L640.2 121.7 L639.5 123.0 L639.2 124.4 L639.6 125.9 L639.0 127.2 L639.9 128.4 L640.6 129.7 L640.9 131.1 L640.8 132.8 L641.2 134.2 L642.4 135.3 L642.1 136.9 L641.2 138.3 L641.2 140.0 L642.1 141.3 L643.3 142.1 L644.8 142.5 L645.9 143.5 L647.0 144.4 L648.6 144.8 L649.5 146.1 L650.2 147.6 L651.7 148.1 L652.0 149.5 L653.8 150.1 L654.0 151.6 L653.8 153.1 L652.5 153.9 L651.7 155.1 M649.3 122.6 L648.1 123.8 L647.6 125.2 L648.2 127.1 L647.1 128.3 L646.1 129.3 L644.8 129.8 L643.7 130.7 L642.6 131.5 L641.2 131.9 M669.1 136.4 L667.6 136.6 L666.5 137.4 L665.9 139.1 L664.8 139.9 L663.3 140.0 L663.0 141.4 L663.0 142.9 L661.8 144.1 L660.9 145.3 L660.9 146.9 L660.4 148.3 L660.9 149.7 L660.5 151.1 L661.7 152.5 L660.9 153.9 M670.2 131.2 L670.5 132.8 L669.4 134.2 L669.6 135.8 L669.6 137.3 L669.1 138.8 L669.3 140.2 L668.4 141.6 L668.7 143.0 L668.8 144.3 L669.1 145.7 L669.2 147.1 L669.8 148.5 L669.7 150.0 L669.5 151.4 L670.2 152.8 M670.2 152.8 L668.8 153.2 L667.7 154.0 L666.8 155.1 L665.4 154.3 L664.0 153.9 L662.3 154.9 L660.9 153.9 L659.3 154.5 L658.1 155.9 L656.4 156.2 L654.7 156.3 L653.1 156.0 L651.7 155.1 M670.2 152.8 L671.6 153.3 L671.8 154.9 L673.0 155.5 L673.9 156.5 L674.9 157.3 L676.1 158.0 L677.1 158.8 L677.4 160.4 L679.0 160.6 L679.5 162.0 L680.5 163.1 L681.6 164.1 L681.7 166.0 L682.9 166.9 L684.2 167.8 L685.2 168.7 L686.2 169.6 L687.7 169.5 L688.9 170.1 L690.5 170.2 L691.9 169.1 L693.5 169.0 M698.1 132.4 L697.9 134.0 L698.4 135.6 L698.7 137.2 L698.7 138.8 L698.9 140.1 L699.2 141.5 L699.4 142.8 L699.1 144.2 L698.9 145.6 L699.3 146.9 L698.6 148.2 L699.0 149.7 L697.9 151.0 L698.9 152.6 L698.1 153.9 L696.8 154.7 L696.4 156.0 L695.6 157.1 L695.8 158.8 L694.6 159.7 L694.3 161.0 L694.0 162.3 L693.6 163.6 L693.6 164.9 L694.5 166.4 L693.5 167.6 L693.5 169.0 M693.5 169.0 L695.2 168.5 L696.7 169.0 L698.2 169.9 L699.8 170.0 L701.2 169.7 L702.3 169.1 L703.4 168.2 L705.0 168.6 L705.9 167.5 L707.0 165.9 L709.0 166.0 L710.3 164.8 L711.8 164.8 L713.0 164.0 M713.2 140.0 L714.1 141.2 L715.9 140.5 L716.7 142.1 L718.2 142.2 L718.1 143.7 L718.3 145.3 L717.6 146.8 L717.3 148.3 L716.7 149.5 L716.3 150.8 L717.0 152.3 L716.4 153.5 L716.0 154.8 L715.2 155.9 L714.2 156.9 L713.7 158.1 L713.8 159.6 L714.1 161.1 L713.5 162.5 L713.0 164.0 M713.0 164.0 L712.9 165.4 L713.5 166.6 L714.7 167.5 L715.2 169.2 L716.2 170.5 L717.3 171.8 L718.0 173.5 M717.7 145.3 L719.1 145.5 L720.5 146.0 L722.0 146.2 L723.4 146.6 L725.1 146.7 L726.4 147.5 L727.8 148.3 L729.0 149.1 L730.4 149.6 L731.2 150.9 L731.4 152.5 L730.6 153.9 L730.3 155.3 L731.7 155.9 L732.3 157.6 L733.9 157.9 L735.5 158.0 L736.8 158.7 L738.1 159.6" fill="none" stroke="#101010" stroke-width="1.0" stroke-opacity="0.85" stroke-linejoin="round"/>
<path d="M515.0 126.7 L515.8 125.3 L516.0 123.8 L515.5 122.2 L516.5 120.8 L517.8 119.9 L519.7 119.9 L520.8 118.6 L522.6 118.4 L524.3 117.5 L524.8 119.1 L525.8 120.5 L526.3 118.8 L527.3 117.4 L529.2 117.6 L531.2 117.5 L532.1 116.4 L532.9 115.2 L533.6 114.0 L534.4 112.5 L535.8 111.6 L537.0 110.5 L538.3 109.9 L539.9 109.9 L541.4 109.8 L542.8 109.3 L544.0 108.2 L545.4 108.8 L546.9 109.3 L548.4 109.7 L549.8 110.5 L551.4 111.2 L552.6 112.3 L553.3 114.0 L554.9 113.9 L556.5 113.7 L558.1 113.8 L559.8 114.5 L561.4 114.0 L562.9 114.0 L564.5 114.0 L566.0 113.6 L567.6 113.3 L569.1 113.7 L570.6 114.0 L572.3 113.2 L574.1 113.5 L575.9 114.0 L577.6 113.1 L578.6 114.1 L580.1 114.4 L581.0 115.6 L582.5 116.3 L584.1 116.4 L585.6 116.5 L587.1 116.9 L588.8 116.5 L590.1 117.3 L591.6 117.8 L593.3 117.6 L594.5 118.9 L596.0 119.3 L597.8 118.6 L599.0 119.8 L600.6 119.9 L602.3 120.0 L603.8 119.4 L605.5 119.3 L607.1 119.0 L608.8 119.4 L610.3 118.5 L611.8 118.3 L613.3 118.5 L614.7 117.6 L616.3 118.1 L617.8 117.8 L619.2 117.0 L620.7 118.2 L622.1 119.5 L623.7 119.6 L625.3 120.1 L626.8 119.8 L628.4 119.5 L629.9 119.5 L631.4 119.0 L632.8 119.0 L634.3 119.4 L635.8 119.0 L637.5 119.3 L638.5 121.0 L640.3 120.9 L641.6 122.0 L643.1 122.3 L644.4 121.3 L645.9 121.9 L647.3 121.4 L648.7 120.9 L650.1 120.7 L651.5 120.5 L652.7 121.3 L654.1 121.8 L655.7 122.0 L657.1 122.5 L658.3 123.4 L658.9 124.7 L659.1 126.3 L660.3 127.3 L661.7 128.0 L663.4 127.9 L664.5 129.4 L666.0 129.9 L667.4 130.7 L669.0 130.7 L670.8 130.9 L672.1 132.2 L674.0 131.8 L675.3 133.2 L676.9 133.6 L678.7 133.1 L680.4 133.4 L682.1 133.7 L683.1 135.3 L685.0 135.0 L686.2 136.2 L687.9 136.3 L689.7 136.7 L691.4 135.9 L693.1 136.2 L694.1 135.1 L695.8 135.0 L696.6 133.6 L697.8 132.8 L699.2 133.4 L700.7 132.6 L702.0 133.3 L703.4 133.3 L704.8 134.0 L706.1 134.7 L707.7 134.3 L708.7 135.9 L710.5 135.2 L711.7 136.2 L712.2 137.9 L713.8 139.1 L714.0 140.9 L715.7 140.4 L717.5 141.0 L719.2 140.0 L721.0 140.3 L722.7 140.5 L724.0 141.7 L725.6 142.1 L727.0 141.7 L728.3 141.0 L729.9 142.1 L731.1 140.7 L732.6 140.9 L733.8 139.9 L735.3 140.0 L736.8 140.0 L738.3 139.8 L739.6 139.1 L741.2 139.1 L742.6 139.8 L744.1 139.8 L745.4 140.9 L746.0 142.3 L746.5 143.8 L745.9 145.3 L745.6 146.9 L745.1 148.5 L745.4 150.2 L744.6 151.6 L744.1 153.1 L744.2 154.8 L742.9 155.5 L741.9 156.7 L741.0 157.9 L739.4 158.4 L738.4 159.5 L737.1 160.4 L735.9 161.4 L734.2 161.7 L732.6 161.8 L731.4 163.0 L730.3 164.2 L728.6 164.4 L727.4 165.4 L726.0 166.0 L724.9 167.2 L723.3 167.6 L721.7 168.0 L721.2 169.7 L719.8 170.3 L718.8 171.4 L717.5 172.3 L716.6 173.5 L715.0 173.6 L714.0 174.8 L712.8 175.5 L711.3 175.7 L710.5 177.1 L709.2 178.0 L708.2 179.0 L706.5 179.4 L705.5 180.5 L704.3 181.4 L703.3 182.8 L703.0 184.4 L703.2 186.1 L701.5 186.8 L701.1 188.7 L699.6 189.5 L698.5 190.5 L697.6 191.6 L696.1 192.1 L695.1 193.1 L694.2 194.4 L693.3 195.6 L692.7 197.1 L692.5 198.8 L691.5 200.0 L690.9 201.4 L690.1 202.7 L690.1 204.4 L689.4 205.8 L688.1 206.9 L687.3 208.2 L686.8 209.6 L685.2 210.2 L684.6 211.6 L684.5 213.1 L684.2 214.6 L683.6 215.9 L683.1 217.3 L682.3 218.5 L682.8 220.0 L682.6 221.6 L682.8 223.2 L683.2 224.7 L683.1 226.3 L684.0 227.7 L685.6 228.7 L685.9 230.6 L687.4 231.5 L688.5 232.9 L690.1 233.5 L691.8 234.0 L693.2 234.9 L692.1 236.1 L690.8 237.2 L690.2 238.9 L688.5 239.6 L687.5 240.6 L686.2 241.4 L685.4 242.7 L684.3 243.7 L682.8 244.2 L681.5 245.1 L681.1 246.7 L680.0 247.7 L678.6 248.5 L678.1 250.1 L677.3 251.4 L677.0 253.0 L675.4 253.9 L675.5 255.7 L674.7 257.0 L675.4 258.7 L674.4 260.5 L675.2 262.2 L674.7 263.9 L673.4 264.7 L671.7 264.4 L670.4 265.1 L669.3 266.5 L667.7 266.3 L666.4 266.9 L665.1 267.4 L663.7 267.8 L662.5 268.7 L661.0 268.7 L659.9 269.9 L658.4 269.8 L657.4 271.2 L656.2 272.2 L654.5 272.8 L653.8 274.4 L654.0 275.9 L652.7 277.0 L653.0 278.6 L652.1 279.8 L652.0 281.2 L651.5 282.5 L650.3 283.4 L648.9 284.0 L648.1 285.2 L646.9 286.0 L645.5 286.9 L643.9 287.3 L642.4 287.8 L640.6 287.1 L639.1 287.8 L637.6 288.4 L636.0 287.5 L634.3 287.6 L632.6 288.3 L631.1 287.2 L629.4 287.2 L628.0 286.5 L626.6 286.3 L625.1 286.3 L623.6 286.0 L622.1 286.2 L620.5 286.1 L618.9 285.7 L617.4 286.5 L615.8 286.1 L614.2 286.2 L612.7 286.2 L611.0 285.9 L609.5 286.5 L608.0 286.6 L606.5 287.1 L605.1 288.2 L603.6 288.6 L602.0 288.6 L600.5 288.9 L599.3 289.9 L597.8 290.3 L596.3 290.7 L594.7 291.1 L593.6 292.2 L592.1 292.6 L591.1 294.2 L589.5 294.3 L588.4 295.4 L586.6 295.6 L586.1 297.4 L584.6 298.0 L583.7 299.3 L582.1 299.8 L581.3 301.2 L579.4 301.4 L578.2 302.3 L577.5 303.8 L576.2 302.8 L574.5 302.6 L573.2 301.6 L571.8 300.9 L570.6 299.8 L569.7 298.5 L568.7 297.4 L567.3 296.6 L566.3 295.4 L565.2 294.3 L564.2 293.2 L564.2 291.6 L564.2 290.1 L563.4 288.8 L562.5 287.6 L562.0 285.5 L562.5 283.5 L561.5 282.3 L560.6 281.1 L559.0 280.4 L558.6 278.7 L557.1 278.0 L555.7 277.2 L554.5 276.0 L552.8 275.4 L551.9 273.8 L550.1 273.5 L548.5 273.5 L547.1 274.2 L545.7 275.1 L544.1 275.1 L542.6 275.3 L541.3 276.3 L539.7 275.8 L538.2 275.7 L536.9 277.0 L535.3 276.8 L533.9 277.1 L532.5 277.5 L531.0 277.7 L529.7 277.0 L528.3 276.3 L526.8 276.2 L525.3 276.2 L524.1 275.1 L522.4 275.6 L521.1 274.6 L519.7 274.4 L518.2 274.2 L516.5 273.8 L514.7 273.7 L513.0 274.6 L511.3 274.2 L511.7 272.8 L511.7 271.2 L512.4 269.9 L513.1 268.5 L512.9 267.0 L512.4 265.3 L513.3 264.0 L513.6 262.6 L514.1 261.1 L514.4 259.7 L514.3 258.2 L514.6 256.8 L513.7 255.2 L515.1 253.9 L515.0 252.4 L514.8 250.9 L514.9 249.4 L515.4 247.9 L515.3 246.4 L514.2 244.8 L515.2 243.3 L514.8 241.8 L513.4 241.2 L511.9 241.7 L510.6 240.7 L509.2 240.7 L507.8 240.6 L507.6 239.0 L508.8 237.7 L508.1 236.1 L508.9 234.7 L507.5 234.0 L506.0 233.6 L504.5 233.3 L503.2 232.4 L503.5 231.0 L503.6 229.6 L503.5 228.2 L504.8 227.0 L504.3 225.5 L504.2 223.8 L504.5 222.4 L505.6 221.1 L506.5 219.8 L506.7 218.2 L506.9 216.7 L508.2 215.7 L509.0 214.2 L510.1 213.0 L511.1 211.8 L511.4 210.3 L512.1 208.9 L513.2 207.8 L513.3 206.2 L514.2 204.9 L515.4 203.9 L516.2 202.6 L515.9 200.9 L517.1 199.7 L517.6 198.2 L517.5 196.6 L518.3 195.3 L518.9 193.9 L518.9 192.3 L519.9 191.0 L519.3 189.3 L519.8 187.9 L520.5 186.5 L521.0 185.1 L521.2 183.6 L521.3 182.0 L522.4 180.8 L522.4 179.3 L522.9 177.9 L522.0 176.4 L522.1 175.0 L521.9 173.5 L521.9 172.1 L522.4 170.6 L521.8 169.2 L521.3 167.8 L521.6 166.2 L521.2 164.8 L521.0 163.4 L521.3 161.8 L520.0 160.5 L520.8 158.9 L520.1 157.6 L519.9 156.1 L520.2 154.6 L520.6 152.9 L521.0 151.3 L520.8 149.6 L522.3 149.5 L523.7 149.0 L522.2 148.1 L520.9 146.9 L520.0 144.2 L521.6 144.4 L523.0 143.6 L521.0 142.8 L519.7 141.1 L519.2 139.4 L518.4 137.8 L520.0 137.4 L521.7 137.3 L520.0 136.2 L518.3 135.2 L518.4 133.5 L517.5 132.2 L519.8 131.1 L518.5 129.9 L516.8 129.4 L516.1 128.0 Z M733.1 212.8 L734.5 211.7 L735.6 210.3 L737.6 209.4 L739.4 208.0 L740.7 206.5 L742.3 205.5 L744.2 204.5 L746.2 204.0 L747.7 203.7 L749.1 203.1 L749.5 205.0 L750.7 206.1 L752.0 206.9 L754.4 207.4 L754.9 209.9 L753.8 211.3 L752.9 212.8 L752.6 214.7 L752.0 216.6 L750.5 217.5 L749.1 218.5 L747.6 219.0 L746.2 219.6 L744.2 217.6 L742.3 217.1 L741.3 215.2 L739.9 214.7 L738.4 214.3 L737.1 214.9 L735.6 215.2 L733.6 214.3 Z M760.7 200.2 L762.6 198.7 L765.5 198.1 L767.0 198.4 L768.5 198.7 L770.4 200.6 L770.8 202.1 L771.4 203.6 L770.4 205.0 L768.5 203.6 L767.0 203.0 L765.5 202.6 L762.6 202.1 Z M712.3 230.2 L713.3 227.8 L715.7 226.1 L717.4 226.3 L719.0 225.9 L721.0 226.8 L720.0 228.8 L718.7 229.9 L717.1 230.7 L715.8 231.7 L714.2 232.2 Z M716.9 234.6 L719.0 234.9 L720.2 236.9 L718.1 237.1 Z M745.2 222.6 L746.4 222.6 L746.4 223.9 L745.2 223.9 Z" fill="none" stroke="#101010" stroke-width="1.2"/>
<rect x="463" y="64" width="11.3" height="126.3" fill="url(#cb)" stroke="#2a2218" stroke-width="0.9"/>
<text x="477.8" y="65.9" class="cbl" textLength="11.3" lengthAdjust="spacingAndGlyphs">0.00</text><text x="477.8" y="73.8" class="cbl" textLength="11.3" lengthAdjust="spacingAndGlyphs">0.06</text><text x="477.8" y="81.7" class="cbl" textLength="11.3" lengthAdjust="spacingAndGlyphs">0.13</text><text x="477.8" y="89.5" class="cbl" textLength="11.3" lengthAdjust="spacingAndGlyphs">0.19</text><text x="477.8" y="97.4" class="cbl" textLength="11.3" lengthAdjust="spacingAndGlyphs">0.25</text><text x="477.8" y="105.3" class="cbl" textLength="8.6" lengthAdjust="spacingAndGlyphs">0.3</text><text x="477.8" y="113.2" class="cbl" textLength="8.6" lengthAdjust="spacingAndGlyphs">0.3</text><text x="477.8" y="121.1" class="cbl" textLength="8.6" lengthAdjust="spacingAndGlyphs">0.4</text><text x="477.8" y="128.9" class="cbl" textLength="8.6" lengthAdjust="spacingAndGlyphs">0.5</text><text x="477.8" y="136.8" class="cbl" textLength="8.6" lengthAdjust="spacingAndGlyphs">0.5</text><text x="477.8" y="144.7" class="cbl" textLength="8.6" lengthAdjust="spacingAndGlyphs">0.6</text><text x="477.8" y="152.6" class="cbl" textLength="8.6" lengthAdjust="spacingAndGlyphs">0.6</text><text x="477.8" y="160.5" class="cbl" textLength="8.6" lengthAdjust="spacingAndGlyphs">0.7</text><text x="477.8" y="168.3" class="cbl" textLength="8.6" lengthAdjust="spacingAndGlyphs">0.8</text><text x="477.8" y="176.2" class="cbl" textLength="8.6" lengthAdjust="spacingAndGlyphs">0.8</text><text x="477.8" y="184.1" class="cbl" textLength="8.6" lengthAdjust="spacingAndGlyphs">0.9</text><text x="477.8" y="192.0" class="cbl" textLength="8.6" lengthAdjust="spacingAndGlyphs">1.0</text>
</svg>
<div class="abs ttl" id="ta" style="left:40.50px;top:19.16px;font-size:24.5px;line-height:24.5px;transform:scaleX(0.9555);"><i>Culicoides</i></div>
<div class="abs ttl" id="tb" style="left:148.30px;top:19.16px;font-size:24.5px;line-height:24.5px;transform:scaleX(0.9101);">,</div>
<div class="abs ttl" id="tc" style="left:161.50px;top:19.16px;font-size:24.5px;line-height:24.5px;transform:scaleX(1.0467);">hematófagos y vectores de enfermedades</div>
<div class="abs mt" id="mt1" style="left:283.30px;top:70.55px;font-size:20.5px;line-height:20.5px;transform:scaleX(0.9655);">C. imicola</div>
<div class="abs mt" id="mt2" style="left:570.70px;top:70.35px;font-size:20.5px;line-height:20.5px;transform:scaleX(0.9405);">C. obsoletus</div>
<div class="abs cit" id="c1_0" style="left:47.00px;top:86.37px;font-size:10.2px;line-height:10.2px;transform:scaleX(0.9901);">Calvete, C., Estrada, R., Miranda,</div>
<div class="abs cit" id="c1_1" style="left:52.00px;top:98.67px;font-size:10.2px;line-height:10.2px;transform:scaleX(0.9711);">M. A., Borrás, D., Calvo, J. H., &amp;</div>
<div class="abs cit" id="c1_2" style="left:43.60px;top:110.97px;font-size:10.2px;line-height:10.2px;transform:scaleX(1.0145);">Lucientes, J. (2008). Modelling the</div>
<div class="abs cit" id="c1_3" style="left:65.50px;top:123.27px;font-size:10.2px;line-height:10.2px;transform:scaleX(1.0689);">distributions and spatial</div>
<div class="abs cit" id="c1_4" style="left:41.40px;top:135.57px;font-size:10.2px;line-height:10.2px;transform:scaleX(1.0471);">coincidence of bluetongue vectors</div>
<div class="abs cit" id="c1_5" style="left:60.50px;top:147.87px;font-size:10.2px;line-height:10.2px;transform:scaleX(1.0417);">Culicoides imicola and the</div>
<div class="abs cit" id="c1_6" style="left:58.70px;top:160.17px;font-size:10.2px;line-height:10.2px;transform:scaleX(1.0415);">Culicoides obsoletus group</div>
<div class="abs cit" id="c1_7" style="left:42.50px;top:172.47px;font-size:10.2px;line-height:10.2px;transform:scaleX(1.0727);">throughout the Iberian peninsula.</div>
<div class="abs cit" id="c1_8" style="left:68.40px;top:184.77px;font-size:10.2px;line-height:10.2px;transform:scaleX(1.0488);">Medical and Veterinary</div>
<div class="abs cit" id="c1_9" style="left:56.00px;top:197.07px;font-size:10.2px;line-height:10.2px;transform:scaleX(1.0206);">Entomology, 22 (2), 124-134.</div>
<div class="abs big" id="b0a" style="left:297.50px;top:373.03px;font-size:23px;line-height:23px;transform:scaleX(0.9999);"><b>C. obsoletus</b></div>
<div class="abs big" id="b0b" style="left:444.30px;top:373.03px;font-size:23px;line-height:23px;transform:scaleX(1.1093);">más abundante en el</div>
<div class="abs big" id="b1a" style="left:279.90px;top:405.13px;font-size:23px;line-height:23px;transform:scaleX(1.1337);">Norte durante primavera y</div>
<div class="abs big" id="b1b" style="left:591.00px;top:405.13px;font-size:23px;line-height:23px;transform:scaleX(1.0197);"><b>C. imicola</b></div>
<div class="abs big" id="b2" style="left:355.00px;top:437.53px;font-size:23px;line-height:23px;transform:scaleX(1.1185);">en el Sur durante otoño</div>
<div class="abs cit" id="c2_0" style="left:218.00px;top:500.67px;font-size:10.2px;line-height:10.2px;transform:scaleX(0.9935);">Calvete, C., Estrada, R., Miranda, M. A., Del Rio, R., Borrás, D., Garrido, L., ... &amp; Lucientes, J. (2009). Evaluación de la</div>
<div class="abs cit" id="c2_1" style="left:216.30px;top:512.67px;font-size:10.2px;line-height:10.2px;transform:scaleX(1.0408);">eficacia del programa de monitorización de las poblaciones de vectores de lengua azul, Culicoides imicola Kieffer,</div>
<div class="abs cit" id="c2_2" style="left:222.90px;top:524.97px;font-size:10.2px;line-height:10.2px;transform:scaleX(1.0219);">1913 y complejo Culicoides obsoletus Meigen, 1818 (Diptera: Ceratopogonidae), en España. ITEA Inf. Tec. Econ.</div>
<div class="abs cit" id="c2_3" style="left:437.00px;top:537.27px;font-size:10.2px;line-height:10.2px;transform:scaleX(1.0066);">Agrar, 105, 147-160.</div>
<div class="abs pn" id="pn" style="left:940.90px;top:431.83px;font-size:14.5px;line-height:14.5px;transform:scaleX(0.9417);">19</div>
</body></html>
